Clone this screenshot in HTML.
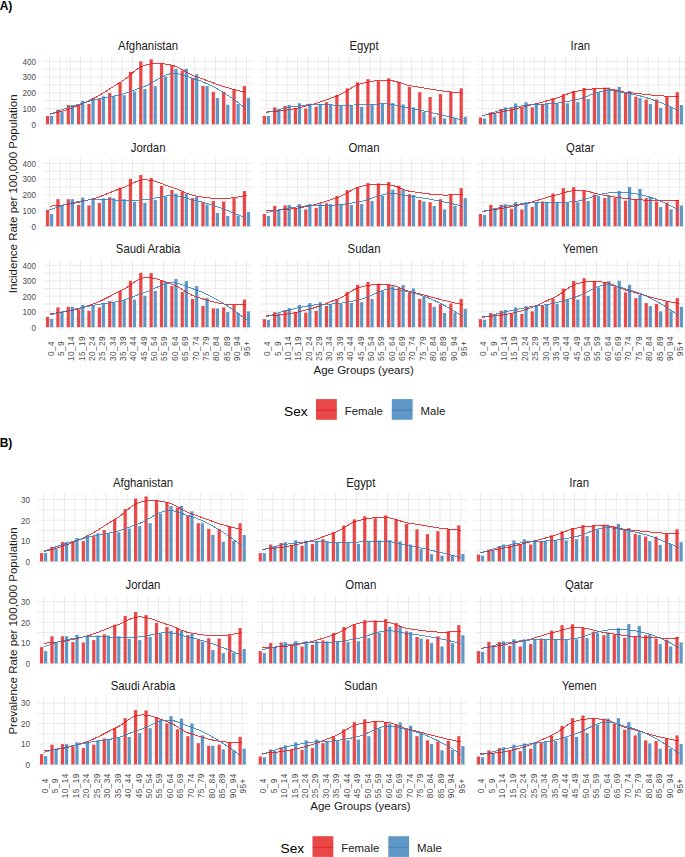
<!DOCTYPE html>
<html><head><meta charset="utf-8"><style>
html,body{margin:0;padding:0;background:#fff;width:685px;height:857px;overflow:hidden}
svg{display:block}
</style></head><body>
<svg width="685" height="857" viewBox="0 0 685 857" font-family='"Liberation Sans", sans-serif'>
<rect width="685" height="857" fill="#FFFFFF"/>
<text x="-0.3" y="9.6" font-size="12" font-weight="bold" fill="#000">A)</text>
<line x1="43.38" x2="252.66" y1="116.44" y2="116.44" stroke="#EBEBEB" stroke-width="1.0"/>
<line x1="43.38" x2="252.66" y1="100.71" y2="100.71" stroke="#EBEBEB" stroke-width="1.0"/>
<line x1="43.38" x2="252.66" y1="84.99" y2="84.99" stroke="#EBEBEB" stroke-width="1.0"/>
<line x1="43.38" x2="252.66" y1="69.26" y2="69.26" stroke="#EBEBEB" stroke-width="1.0"/>
<line x1="43.38" x2="252.66" y1="124.30" y2="124.30" stroke="#EBEBEB" stroke-width="1.0"/>
<line x1="43.38" x2="252.66" y1="108.58" y2="108.58" stroke="#EBEBEB" stroke-width="1.0"/>
<line x1="43.38" x2="252.66" y1="92.85" y2="92.85" stroke="#EBEBEB" stroke-width="1.0"/>
<line x1="43.38" x2="252.66" y1="77.12" y2="77.12" stroke="#EBEBEB" stroke-width="1.0"/>
<line x1="43.38" x2="252.66" y1="61.40" y2="61.40" stroke="#EBEBEB" stroke-width="1.0"/>
<line x1="49.60" x2="49.60" y1="56.10" y2="127.50" stroke="#EBEBEB" stroke-width="1.0"/>
<line x1="59.96" x2="59.96" y1="56.10" y2="127.50" stroke="#EBEBEB" stroke-width="1.0"/>
<line x1="70.32" x2="70.32" y1="56.10" y2="127.50" stroke="#EBEBEB" stroke-width="1.0"/>
<line x1="80.68" x2="80.68" y1="56.10" y2="127.50" stroke="#EBEBEB" stroke-width="1.0"/>
<line x1="91.04" x2="91.04" y1="56.10" y2="127.50" stroke="#EBEBEB" stroke-width="1.0"/>
<line x1="101.40" x2="101.40" y1="56.10" y2="127.50" stroke="#EBEBEB" stroke-width="1.0"/>
<line x1="111.76" x2="111.76" y1="56.10" y2="127.50" stroke="#EBEBEB" stroke-width="1.0"/>
<line x1="122.12" x2="122.12" y1="56.10" y2="127.50" stroke="#EBEBEB" stroke-width="1.0"/>
<line x1="132.48" x2="132.48" y1="56.10" y2="127.50" stroke="#EBEBEB" stroke-width="1.0"/>
<line x1="142.84" x2="142.84" y1="56.10" y2="127.50" stroke="#EBEBEB" stroke-width="1.0"/>
<line x1="153.20" x2="153.20" y1="56.10" y2="127.50" stroke="#EBEBEB" stroke-width="1.0"/>
<line x1="163.56" x2="163.56" y1="56.10" y2="127.50" stroke="#EBEBEB" stroke-width="1.0"/>
<line x1="173.92" x2="173.92" y1="56.10" y2="127.50" stroke="#EBEBEB" stroke-width="1.0"/>
<line x1="184.28" x2="184.28" y1="56.10" y2="127.50" stroke="#EBEBEB" stroke-width="1.0"/>
<line x1="194.64" x2="194.64" y1="56.10" y2="127.50" stroke="#EBEBEB" stroke-width="1.0"/>
<line x1="205.00" x2="205.00" y1="56.10" y2="127.50" stroke="#EBEBEB" stroke-width="1.0"/>
<line x1="215.36" x2="215.36" y1="56.10" y2="127.50" stroke="#EBEBEB" stroke-width="1.0"/>
<line x1="225.72" x2="225.72" y1="56.10" y2="127.50" stroke="#EBEBEB" stroke-width="1.0"/>
<line x1="236.08" x2="236.08" y1="56.10" y2="127.50" stroke="#EBEBEB" stroke-width="1.0"/>
<line x1="246.44" x2="246.44" y1="56.10" y2="127.50" stroke="#EBEBEB" stroke-width="1.0"/>
<rect x="45.95" y="116.00" width="3.2" height="8.30" fill="#E94849"/>
<rect x="50.05" y="116.00" width="3.2" height="8.30" fill="#5F98C6"/>
<rect x="56.31" y="109.70" width="3.2" height="14.60" fill="#E94849"/>
<rect x="60.41" y="111.70" width="3.2" height="12.60" fill="#5F98C6"/>
<rect x="66.67" y="105.00" width="3.2" height="19.30" fill="#E94849"/>
<rect x="70.77" y="105.00" width="3.2" height="19.30" fill="#5F98C6"/>
<rect x="77.03" y="105.00" width="3.2" height="19.30" fill="#E94849"/>
<rect x="81.13" y="101.00" width="3.2" height="23.30" fill="#5F98C6"/>
<rect x="87.39" y="104.00" width="3.2" height="20.30" fill="#E94849"/>
<rect x="91.49" y="98.20" width="3.2" height="26.10" fill="#5F98C6"/>
<rect x="97.75" y="99.10" width="3.2" height="25.20" fill="#E94849"/>
<rect x="101.85" y="96.40" width="3.2" height="27.90" fill="#5F98C6"/>
<rect x="108.11" y="93.00" width="3.2" height="31.30" fill="#E94849"/>
<rect x="112.21" y="96.10" width="3.2" height="28.20" fill="#5F98C6"/>
<rect x="118.47" y="82.30" width="3.2" height="42.00" fill="#E94849"/>
<rect x="122.57" y="95.20" width="3.2" height="29.10" fill="#5F98C6"/>
<rect x="128.83" y="71.90" width="3.2" height="52.40" fill="#E94849"/>
<rect x="132.93" y="91.50" width="3.2" height="32.80" fill="#5F98C6"/>
<rect x="139.19" y="61.40" width="3.2" height="62.90" fill="#E94849"/>
<rect x="143.29" y="89.00" width="3.2" height="35.30" fill="#5F98C6"/>
<rect x="149.55" y="59.30" width="3.2" height="65.00" fill="#E94849"/>
<rect x="153.65" y="86.10" width="3.2" height="38.20" fill="#5F98C6"/>
<rect x="159.91" y="63.00" width="3.2" height="61.30" fill="#E94849"/>
<rect x="164.01" y="76.50" width="3.2" height="47.80" fill="#5F98C6"/>
<rect x="170.27" y="65.00" width="3.2" height="59.30" fill="#E94849"/>
<rect x="174.37" y="68.80" width="3.2" height="55.50" fill="#5F98C6"/>
<rect x="180.63" y="70.60" width="3.2" height="53.70" fill="#E94849"/>
<rect x="184.73" y="68.80" width="3.2" height="55.50" fill="#5F98C6"/>
<rect x="190.99" y="78.80" width="3.2" height="45.50" fill="#E94849"/>
<rect x="195.09" y="74.20" width="3.2" height="50.10" fill="#5F98C6"/>
<rect x="201.35" y="86.10" width="3.2" height="38.20" fill="#E94849"/>
<rect x="205.45" y="86.10" width="3.2" height="38.20" fill="#5F98C6"/>
<rect x="211.71" y="91.80" width="3.2" height="32.50" fill="#E94849"/>
<rect x="215.81" y="97.90" width="3.2" height="26.40" fill="#5F98C6"/>
<rect x="222.07" y="91.80" width="3.2" height="32.50" fill="#E94849"/>
<rect x="226.17" y="104.80" width="3.2" height="19.50" fill="#5F98C6"/>
<rect x="232.43" y="89.50" width="3.2" height="34.80" fill="#E94849"/>
<rect x="236.53" y="104.00" width="3.2" height="20.30" fill="#5F98C6"/>
<rect x="242.79" y="86.10" width="3.2" height="38.20" fill="#E94849"/>
<rect x="246.89" y="97.90" width="3.2" height="26.40" fill="#5F98C6"/>
<polyline points="49.60,114.37 52.09,113.80 54.58,113.20 57.07,112.56 59.57,111.89 62.06,111.18 64.55,110.43 67.04,109.63 69.53,108.79 72.02,107.91 74.52,106.96 77.01,105.96 79.50,104.92 81.99,103.85 84.48,102.74 86.97,101.61 89.47,100.47 91.96,99.31 94.45,98.07 96.94,96.73 99.43,95.32 101.92,93.84 104.42,92.31 106.91,90.75 109.40,89.16 111.89,87.56 114.38,85.96 116.87,84.38 119.37,82.84 121.86,81.33 124.35,79.72 126.84,77.80 129.33,75.70 131.82,73.53 134.32,71.40 136.81,69.42 139.30,67.70 141.79,66.36 144.28,65.45 146.77,64.74 149.27,64.19 151.76,63.80 154.25,63.56 156.74,63.45 159.23,63.48 161.72,63.63 164.22,63.89 166.71,64.25 169.20,64.71 171.69,65.26 174.18,65.89 176.67,66.76 179.17,67.93 181.66,69.30 184.15,70.78 186.64,72.29 189.13,73.73 191.62,75.00 194.12,76.03 196.61,76.85 199.10,77.70 201.59,78.58 204.08,79.49 206.57,80.42 209.07,81.35 211.56,82.28 214.05,83.21 216.54,84.11 219.03,84.99 221.52,85.84 224.02,86.64 226.51,87.40 229.00,88.12 231.49,88.80 233.98,89.46 236.47,90.10 238.97,90.71 241.46,91.31 243.95,91.89 246.44,92.47" fill="none" stroke="#E41A1C" stroke-opacity="0.85" stroke-width="1.0" stroke-linejoin="round" shape-rendering="crispEdges"/>
<polyline points="49.60,114.25 52.09,113.31 54.58,112.39 57.07,111.48 59.57,110.58 62.06,109.70 64.55,108.84 67.04,107.99 69.53,107.17 72.02,106.37 74.52,105.60 77.01,104.85 79.50,104.11 81.99,103.39 84.48,102.68 86.97,101.98 89.47,101.27 91.96,100.56 94.45,99.91 96.94,99.32 99.43,98.78 101.92,98.29 104.42,97.82 106.91,97.36 109.40,96.91 111.89,96.44 114.38,95.96 116.87,95.43 119.37,94.87 121.86,94.24 124.35,93.54 126.84,92.76 129.33,91.91 131.82,91.03 134.32,90.12 136.81,89.21 139.30,88.30 141.79,87.42 144.28,86.54 146.77,85.46 149.27,84.21 151.76,82.84 154.25,81.39 156.74,79.92 159.23,78.49 161.72,77.13 164.22,75.91 166.71,74.87 169.20,74.07 171.69,73.55 174.18,73.37 176.67,73.53 179.17,73.96 181.66,74.60 184.15,75.39 186.64,76.28 189.13,77.19 191.62,78.08 194.12,78.88 196.61,79.62 199.10,80.44 201.59,81.36 204.08,82.36 206.57,83.44 209.07,84.59 211.56,85.82 214.05,87.12 216.54,88.48 219.03,89.90 221.52,91.38 224.02,92.91 226.51,94.49 229.00,96.12 231.49,97.80 233.98,99.54 236.47,101.34 238.97,103.19 241.46,105.11 243.95,107.10 246.44,109.15" fill="none" stroke="#377EB8" stroke-opacity="0.85" stroke-width="1.0" stroke-linejoin="round" shape-rendering="crispEdges"/>
<text transform="translate(148.12,49.70) scale(1,1.12)" text-anchor="middle" font-size="11.4" fill="#1A1A1A">Afghanistan</text>
<text transform="translate(36.00,127.60) scale(1,1.09)" text-anchor="end" font-size="8.1" fill="#4D4D4D">0</text>
<text transform="translate(36.00,111.88) scale(1,1.09)" text-anchor="end" font-size="8.1" fill="#4D4D4D">100</text>
<text transform="translate(36.00,96.15) scale(1,1.09)" text-anchor="end" font-size="8.1" fill="#4D4D4D">200</text>
<text transform="translate(36.00,80.42) scale(1,1.09)" text-anchor="end" font-size="8.1" fill="#4D4D4D">300</text>
<text transform="translate(36.00,64.70) scale(1,1.09)" text-anchor="end" font-size="8.1" fill="#4D4D4D">400</text>
<line x1="260.18" x2="469.46" y1="116.44" y2="116.44" stroke="#EBEBEB" stroke-width="1.0"/>
<line x1="260.18" x2="469.46" y1="100.71" y2="100.71" stroke="#EBEBEB" stroke-width="1.0"/>
<line x1="260.18" x2="469.46" y1="84.99" y2="84.99" stroke="#EBEBEB" stroke-width="1.0"/>
<line x1="260.18" x2="469.46" y1="69.26" y2="69.26" stroke="#EBEBEB" stroke-width="1.0"/>
<line x1="260.18" x2="469.46" y1="124.30" y2="124.30" stroke="#EBEBEB" stroke-width="1.0"/>
<line x1="260.18" x2="469.46" y1="108.58" y2="108.58" stroke="#EBEBEB" stroke-width="1.0"/>
<line x1="260.18" x2="469.46" y1="92.85" y2="92.85" stroke="#EBEBEB" stroke-width="1.0"/>
<line x1="260.18" x2="469.46" y1="77.12" y2="77.12" stroke="#EBEBEB" stroke-width="1.0"/>
<line x1="260.18" x2="469.46" y1="61.40" y2="61.40" stroke="#EBEBEB" stroke-width="1.0"/>
<line x1="266.40" x2="266.40" y1="56.10" y2="127.50" stroke="#EBEBEB" stroke-width="1.0"/>
<line x1="276.76" x2="276.76" y1="56.10" y2="127.50" stroke="#EBEBEB" stroke-width="1.0"/>
<line x1="287.12" x2="287.12" y1="56.10" y2="127.50" stroke="#EBEBEB" stroke-width="1.0"/>
<line x1="297.48" x2="297.48" y1="56.10" y2="127.50" stroke="#EBEBEB" stroke-width="1.0"/>
<line x1="307.84" x2="307.84" y1="56.10" y2="127.50" stroke="#EBEBEB" stroke-width="1.0"/>
<line x1="318.20" x2="318.20" y1="56.10" y2="127.50" stroke="#EBEBEB" stroke-width="1.0"/>
<line x1="328.56" x2="328.56" y1="56.10" y2="127.50" stroke="#EBEBEB" stroke-width="1.0"/>
<line x1="338.92" x2="338.92" y1="56.10" y2="127.50" stroke="#EBEBEB" stroke-width="1.0"/>
<line x1="349.28" x2="349.28" y1="56.10" y2="127.50" stroke="#EBEBEB" stroke-width="1.0"/>
<line x1="359.64" x2="359.64" y1="56.10" y2="127.50" stroke="#EBEBEB" stroke-width="1.0"/>
<line x1="370.00" x2="370.00" y1="56.10" y2="127.50" stroke="#EBEBEB" stroke-width="1.0"/>
<line x1="380.36" x2="380.36" y1="56.10" y2="127.50" stroke="#EBEBEB" stroke-width="1.0"/>
<line x1="390.72" x2="390.72" y1="56.10" y2="127.50" stroke="#EBEBEB" stroke-width="1.0"/>
<line x1="401.08" x2="401.08" y1="56.10" y2="127.50" stroke="#EBEBEB" stroke-width="1.0"/>
<line x1="411.44" x2="411.44" y1="56.10" y2="127.50" stroke="#EBEBEB" stroke-width="1.0"/>
<line x1="421.80" x2="421.80" y1="56.10" y2="127.50" stroke="#EBEBEB" stroke-width="1.0"/>
<line x1="432.16" x2="432.16" y1="56.10" y2="127.50" stroke="#EBEBEB" stroke-width="1.0"/>
<line x1="442.52" x2="442.52" y1="56.10" y2="127.50" stroke="#EBEBEB" stroke-width="1.0"/>
<line x1="452.88" x2="452.88" y1="56.10" y2="127.50" stroke="#EBEBEB" stroke-width="1.0"/>
<line x1="463.24" x2="463.24" y1="56.10" y2="127.50" stroke="#EBEBEB" stroke-width="1.0"/>
<rect x="262.75" y="116.00" width="3.2" height="8.30" fill="#E94849"/>
<rect x="266.85" y="116.00" width="3.2" height="8.30" fill="#5F98C6"/>
<rect x="273.11" y="107.40" width="3.2" height="16.90" fill="#E94849"/>
<rect x="277.21" y="109.40" width="3.2" height="14.90" fill="#5F98C6"/>
<rect x="283.47" y="105.90" width="3.2" height="18.40" fill="#E94849"/>
<rect x="287.57" y="105.00" width="3.2" height="19.30" fill="#5F98C6"/>
<rect x="293.83" y="107.90" width="3.2" height="16.40" fill="#E94849"/>
<rect x="297.93" y="103.30" width="3.2" height="21.00" fill="#5F98C6"/>
<rect x="304.19" y="108.60" width="3.2" height="15.70" fill="#E94849"/>
<rect x="308.29" y="103.70" width="3.2" height="20.60" fill="#5F98C6"/>
<rect x="314.55" y="106.80" width="3.2" height="17.50" fill="#E94849"/>
<rect x="318.65" y="104.00" width="3.2" height="20.30" fill="#5F98C6"/>
<rect x="324.91" y="102.20" width="3.2" height="22.10" fill="#E94849"/>
<rect x="329.01" y="104.40" width="3.2" height="19.90" fill="#5F98C6"/>
<rect x="335.27" y="95.20" width="3.2" height="29.10" fill="#E94849"/>
<rect x="339.37" y="105.60" width="3.2" height="18.70" fill="#5F98C6"/>
<rect x="345.63" y="88.40" width="3.2" height="35.90" fill="#E94849"/>
<rect x="349.73" y="105.60" width="3.2" height="18.70" fill="#5F98C6"/>
<rect x="355.99" y="82.30" width="3.2" height="42.00" fill="#E94849"/>
<rect x="360.09" y="106.80" width="3.2" height="17.50" fill="#5F98C6"/>
<rect x="366.35" y="79.20" width="3.2" height="45.10" fill="#E94849"/>
<rect x="370.45" y="104.40" width="3.2" height="19.90" fill="#5F98C6"/>
<rect x="376.71" y="81.10" width="3.2" height="43.20" fill="#E94849"/>
<rect x="380.81" y="103.40" width="3.2" height="20.90" fill="#5F98C6"/>
<rect x="387.07" y="78.30" width="3.2" height="46.00" fill="#E94849"/>
<rect x="391.17" y="103.10" width="3.2" height="21.20" fill="#5F98C6"/>
<rect x="397.43" y="81.80" width="3.2" height="42.50" fill="#E94849"/>
<rect x="401.53" y="104.40" width="3.2" height="19.90" fill="#5F98C6"/>
<rect x="407.79" y="86.90" width="3.2" height="37.40" fill="#E94849"/>
<rect x="411.89" y="107.40" width="3.2" height="16.90" fill="#5F98C6"/>
<rect x="418.15" y="92.20" width="3.2" height="32.10" fill="#E94849"/>
<rect x="422.25" y="112.00" width="3.2" height="12.30" fill="#5F98C6"/>
<rect x="428.51" y="97.00" width="3.2" height="27.30" fill="#E94849"/>
<rect x="432.61" y="117.10" width="3.2" height="7.20" fill="#5F98C6"/>
<rect x="438.87" y="94.10" width="3.2" height="30.20" fill="#E94849"/>
<rect x="442.97" y="118.50" width="3.2" height="5.80" fill="#5F98C6"/>
<rect x="449.23" y="91.80" width="3.2" height="32.50" fill="#E94849"/>
<rect x="453.33" y="117.80" width="3.2" height="6.50" fill="#5F98C6"/>
<rect x="459.59" y="88.30" width="3.2" height="36.00" fill="#E94849"/>
<rect x="463.69" y="116.90" width="3.2" height="7.40" fill="#5F98C6"/>
<polyline points="266.40,112.05 268.89,111.91 271.38,111.74 273.87,111.54 276.37,111.32 278.86,111.06 281.35,110.77 283.84,110.45 286.33,110.10 288.82,109.71 291.32,109.28 293.81,108.81 296.30,108.31 298.79,107.78 301.28,107.22 303.77,106.64 306.27,106.04 308.76,105.42 311.25,104.75 313.74,104.04 316.23,103.28 318.72,102.49 321.22,101.65 323.71,100.79 326.20,99.90 328.69,98.99 331.18,98.06 333.67,97.11 336.17,96.15 338.66,95.19 341.15,94.12 343.64,92.81 346.13,91.36 348.62,89.83 351.12,88.30 353.61,86.86 356.10,85.59 358.59,84.55 361.08,83.78 363.57,83.11 366.07,82.50 368.56,81.96 371.05,81.50 373.54,81.11 376.03,80.79 378.52,80.56 381.02,80.40 383.51,80.32 386.00,80.33 388.49,80.43 390.98,80.62 393.47,80.99 395.97,81.57 398.46,82.30 400.95,83.11 403.44,83.93 405.93,84.71 408.42,85.38 410.92,85.87 413.41,86.22 415.90,86.60 418.39,87.00 420.88,87.42 423.37,87.85 425.87,88.29 428.36,88.73 430.85,89.16 433.34,89.59 435.83,90.01 438.32,90.40 440.82,90.77 443.31,91.10 445.80,91.42 448.29,91.71 450.78,91.99 453.27,92.25 455.77,92.50 458.26,92.74 460.75,92.98 463.24,93.21" fill="none" stroke="#E41A1C" stroke-opacity="0.85" stroke-width="1.0" stroke-linejoin="round" shape-rendering="crispEdges"/>
<polyline points="266.40,112.89 268.89,112.15 271.38,111.44 273.87,110.76 276.37,110.11 278.86,109.50 281.35,108.92 283.84,108.37 286.33,107.86 288.82,107.39 291.32,106.96 293.81,106.56 296.30,106.20 298.79,105.87 301.28,105.57 303.77,105.28 306.27,105.02 308.76,104.78 311.25,104.60 313.74,104.50 316.23,104.46 318.72,104.47 321.22,104.52 323.71,104.60 326.20,104.70 328.69,104.82 331.18,104.92 333.67,105.02 336.17,105.10 338.66,105.14 341.15,105.15 343.64,105.14 346.13,105.11 348.62,105.08 351.12,105.04 353.61,105.00 356.10,104.97 358.59,104.95 361.08,104.94 363.57,104.88 366.07,104.77 368.56,104.62 371.05,104.47 373.54,104.31 376.03,104.16 378.52,104.04 381.02,103.96 383.51,103.93 386.00,103.97 388.49,104.10 390.98,104.33 393.47,104.67 395.97,105.11 398.46,105.63 400.95,106.19 403.44,106.78 405.93,107.36 408.42,107.90 410.92,108.39 413.41,108.83 415.90,109.30 418.39,109.78 420.88,110.29 423.37,110.81 425.87,111.35 428.36,111.90 430.85,112.46 433.34,113.03 435.83,113.61 438.32,114.20 440.82,114.79 443.31,115.38 445.80,115.97 448.29,116.57 450.78,117.18 453.27,117.79 455.77,118.41 458.26,119.04 460.75,119.68 463.24,120.34" fill="none" stroke="#377EB8" stroke-opacity="0.85" stroke-width="1.0" stroke-linejoin="round" shape-rendering="crispEdges"/>
<text transform="translate(364.02,49.70) scale(1,1.12)" text-anchor="middle" font-size="11.4" fill="#1A1A1A">Egypt</text>
<line x1="476.28" x2="685.56" y1="116.44" y2="116.44" stroke="#EBEBEB" stroke-width="1.0"/>
<line x1="476.28" x2="685.56" y1="100.71" y2="100.71" stroke="#EBEBEB" stroke-width="1.0"/>
<line x1="476.28" x2="685.56" y1="84.99" y2="84.99" stroke="#EBEBEB" stroke-width="1.0"/>
<line x1="476.28" x2="685.56" y1="69.26" y2="69.26" stroke="#EBEBEB" stroke-width="1.0"/>
<line x1="476.28" x2="685.56" y1="124.30" y2="124.30" stroke="#EBEBEB" stroke-width="1.0"/>
<line x1="476.28" x2="685.56" y1="108.58" y2="108.58" stroke="#EBEBEB" stroke-width="1.0"/>
<line x1="476.28" x2="685.56" y1="92.85" y2="92.85" stroke="#EBEBEB" stroke-width="1.0"/>
<line x1="476.28" x2="685.56" y1="77.12" y2="77.12" stroke="#EBEBEB" stroke-width="1.0"/>
<line x1="476.28" x2="685.56" y1="61.40" y2="61.40" stroke="#EBEBEB" stroke-width="1.0"/>
<line x1="482.50" x2="482.50" y1="56.10" y2="127.50" stroke="#EBEBEB" stroke-width="1.0"/>
<line x1="492.86" x2="492.86" y1="56.10" y2="127.50" stroke="#EBEBEB" stroke-width="1.0"/>
<line x1="503.22" x2="503.22" y1="56.10" y2="127.50" stroke="#EBEBEB" stroke-width="1.0"/>
<line x1="513.58" x2="513.58" y1="56.10" y2="127.50" stroke="#EBEBEB" stroke-width="1.0"/>
<line x1="523.94" x2="523.94" y1="56.10" y2="127.50" stroke="#EBEBEB" stroke-width="1.0"/>
<line x1="534.30" x2="534.30" y1="56.10" y2="127.50" stroke="#EBEBEB" stroke-width="1.0"/>
<line x1="544.66" x2="544.66" y1="56.10" y2="127.50" stroke="#EBEBEB" stroke-width="1.0"/>
<line x1="555.02" x2="555.02" y1="56.10" y2="127.50" stroke="#EBEBEB" stroke-width="1.0"/>
<line x1="565.38" x2="565.38" y1="56.10" y2="127.50" stroke="#EBEBEB" stroke-width="1.0"/>
<line x1="575.74" x2="575.74" y1="56.10" y2="127.50" stroke="#EBEBEB" stroke-width="1.0"/>
<line x1="586.10" x2="586.10" y1="56.10" y2="127.50" stroke="#EBEBEB" stroke-width="1.0"/>
<line x1="596.46" x2="596.46" y1="56.10" y2="127.50" stroke="#EBEBEB" stroke-width="1.0"/>
<line x1="606.82" x2="606.82" y1="56.10" y2="127.50" stroke="#EBEBEB" stroke-width="1.0"/>
<line x1="617.18" x2="617.18" y1="56.10" y2="127.50" stroke="#EBEBEB" stroke-width="1.0"/>
<line x1="627.54" x2="627.54" y1="56.10" y2="127.50" stroke="#EBEBEB" stroke-width="1.0"/>
<line x1="637.90" x2="637.90" y1="56.10" y2="127.50" stroke="#EBEBEB" stroke-width="1.0"/>
<line x1="648.26" x2="648.26" y1="56.10" y2="127.50" stroke="#EBEBEB" stroke-width="1.0"/>
<line x1="658.62" x2="658.62" y1="56.10" y2="127.50" stroke="#EBEBEB" stroke-width="1.0"/>
<line x1="668.98" x2="668.98" y1="56.10" y2="127.50" stroke="#EBEBEB" stroke-width="1.0"/>
<line x1="679.34" x2="679.34" y1="56.10" y2="127.50" stroke="#EBEBEB" stroke-width="1.0"/>
<rect x="478.85" y="117.50" width="3.2" height="6.80" fill="#E94849"/>
<rect x="482.95" y="118.50" width="3.2" height="5.80" fill="#5F98C6"/>
<rect x="489.21" y="112.50" width="3.2" height="11.80" fill="#E94849"/>
<rect x="493.31" y="113.60" width="3.2" height="10.70" fill="#5F98C6"/>
<rect x="499.57" y="109.00" width="3.2" height="15.30" fill="#E94849"/>
<rect x="503.67" y="107.40" width="3.2" height="16.90" fill="#5F98C6"/>
<rect x="509.93" y="108.30" width="3.2" height="16.00" fill="#E94849"/>
<rect x="514.03" y="103.40" width="3.2" height="20.90" fill="#5F98C6"/>
<rect x="520.29" y="107.10" width="3.2" height="17.20" fill="#E94849"/>
<rect x="524.39" y="102.20" width="3.2" height="22.10" fill="#5F98C6"/>
<rect x="530.65" y="107.40" width="3.2" height="16.90" fill="#E94849"/>
<rect x="534.75" y="103.30" width="3.2" height="21.00" fill="#5F98C6"/>
<rect x="541.01" y="104.00" width="3.2" height="20.30" fill="#E94849"/>
<rect x="545.11" y="103.70" width="3.2" height="20.60" fill="#5F98C6"/>
<rect x="551.37" y="98.20" width="3.2" height="26.10" fill="#E94849"/>
<rect x="555.47" y="103.30" width="3.2" height="21.00" fill="#5F98C6"/>
<rect x="561.73" y="94.20" width="3.2" height="30.10" fill="#E94849"/>
<rect x="565.83" y="103.30" width="3.2" height="21.00" fill="#5F98C6"/>
<rect x="572.09" y="91.00" width="3.2" height="33.30" fill="#E94849"/>
<rect x="576.19" y="102.10" width="3.2" height="22.20" fill="#5F98C6"/>
<rect x="582.45" y="88.00" width="3.2" height="36.30" fill="#E94849"/>
<rect x="586.55" y="99.00" width="3.2" height="25.30" fill="#5F98C6"/>
<rect x="592.81" y="88.40" width="3.2" height="35.90" fill="#E94849"/>
<rect x="596.91" y="92.20" width="3.2" height="32.10" fill="#5F98C6"/>
<rect x="603.17" y="87.60" width="3.2" height="36.70" fill="#E94849"/>
<rect x="607.27" y="87.60" width="3.2" height="36.70" fill="#5F98C6"/>
<rect x="613.53" y="89.50" width="3.2" height="34.80" fill="#E94849"/>
<rect x="617.63" y="86.90" width="3.2" height="37.40" fill="#5F98C6"/>
<rect x="623.89" y="93.00" width="3.2" height="31.30" fill="#E94849"/>
<rect x="627.99" y="91.00" width="3.2" height="33.30" fill="#5F98C6"/>
<rect x="634.25" y="96.70" width="3.2" height="27.60" fill="#E94849"/>
<rect x="638.35" y="97.90" width="3.2" height="26.40" fill="#5F98C6"/>
<rect x="644.61" y="99.50" width="3.2" height="24.80" fill="#E94849"/>
<rect x="648.71" y="104.00" width="3.2" height="20.30" fill="#5F98C6"/>
<rect x="654.97" y="99.50" width="3.2" height="24.80" fill="#E94849"/>
<rect x="659.07" y="107.90" width="3.2" height="16.40" fill="#5F98C6"/>
<rect x="665.33" y="96.40" width="3.2" height="27.90" fill="#E94849"/>
<rect x="669.43" y="107.10" width="3.2" height="17.20" fill="#5F98C6"/>
<rect x="675.69" y="92.20" width="3.2" height="32.10" fill="#E94849"/>
<rect x="679.79" y="105.00" width="3.2" height="19.30" fill="#5F98C6"/>
<polyline points="482.50,115.54 484.99,115.08 487.48,114.62 489.97,114.14 492.47,113.66 494.96,113.18 497.45,112.68 499.94,112.17 502.43,111.66 504.92,111.13 507.42,110.59 509.91,110.04 512.40,109.48 514.89,108.91 517.38,108.34 519.87,107.76 522.37,107.17 524.86,106.58 527.35,105.98 529.84,105.37 532.33,104.74 534.82,104.11 537.32,103.46 539.81,102.81 542.30,102.15 544.79,101.48 547.28,100.81 549.77,100.13 552.27,99.46 554.76,98.77 557.25,98.03 559.74,97.14 562.23,96.17 564.72,95.16 567.22,94.15 569.71,93.20 572.20,92.35 574.69,91.66 577.18,91.13 579.67,90.65 582.17,90.22 584.66,89.84 587.15,89.50 589.64,89.21 592.13,88.97 594.62,88.79 597.12,88.66 599.61,88.59 602.10,88.59 604.59,88.64 607.08,88.76 609.57,89.02 612.07,89.43 614.56,89.95 617.05,90.53 619.54,91.12 622.03,91.67 624.52,92.13 627.02,92.47 629.51,92.70 632.00,92.94 634.49,93.20 636.98,93.47 639.47,93.74 641.97,94.02 644.46,94.30 646.95,94.57 649.44,94.83 651.93,95.08 654.42,95.31 656.92,95.52 659.41,95.70 661.90,95.87 664.39,96.01 666.88,96.14 669.37,96.26 671.87,96.36 674.36,96.46 676.85,96.54 679.34,96.62" fill="none" stroke="#E41A1C" stroke-opacity="0.85" stroke-width="1.0" stroke-linejoin="round" shape-rendering="crispEdges"/>
<polyline points="482.50,115.93 484.99,115.08 487.48,114.25 489.97,113.45 492.47,112.68 494.96,111.93 497.45,111.21 499.94,110.53 502.43,109.87 504.92,109.26 507.42,108.68 509.91,108.14 512.40,107.63 514.89,107.14 517.38,106.68 519.87,106.22 522.37,105.77 524.86,105.34 527.35,104.98 529.84,104.70 532.33,104.50 534.82,104.35 537.32,104.24 539.81,104.16 542.30,104.09 544.79,104.01 547.28,103.92 549.77,103.79 552.27,103.62 554.76,103.38 557.25,103.07 559.74,102.73 562.23,102.34 564.72,101.92 567.22,101.48 569.71,101.02 572.20,100.55 574.69,100.07 577.18,99.56 579.67,98.90 582.17,98.11 584.66,97.22 587.15,96.27 589.64,95.29 592.13,94.31 594.62,93.38 597.12,92.53 599.61,91.80 602.10,91.21 604.59,90.80 607.08,90.62 609.57,90.64 612.07,90.81 614.56,91.10 617.05,91.48 619.54,91.92 622.03,92.38 624.52,92.84 627.02,93.25 629.51,93.64 632.00,94.09 634.49,94.58 636.98,95.14 639.47,95.74 641.97,96.39 644.46,97.09 646.95,97.84 649.44,98.62 651.93,99.45 654.42,100.32 656.92,101.22 659.41,102.15 661.90,103.12 664.39,104.13 666.88,105.17 669.37,106.26 671.87,107.38 674.36,108.55 676.85,109.75 679.34,111.00" fill="none" stroke="#377EB8" stroke-opacity="0.85" stroke-width="1.0" stroke-linejoin="round" shape-rendering="crispEdges"/>
<text transform="translate(580.32,49.70) scale(1,1.12)" text-anchor="middle" font-size="11.4" fill="#1A1A1A">Iran</text>
<line x1="43.38" x2="252.66" y1="218.44" y2="218.44" stroke="#EBEBEB" stroke-width="1.0"/>
<line x1="43.38" x2="252.66" y1="202.71" y2="202.71" stroke="#EBEBEB" stroke-width="1.0"/>
<line x1="43.38" x2="252.66" y1="186.99" y2="186.99" stroke="#EBEBEB" stroke-width="1.0"/>
<line x1="43.38" x2="252.66" y1="171.26" y2="171.26" stroke="#EBEBEB" stroke-width="1.0"/>
<line x1="43.38" x2="252.66" y1="226.30" y2="226.30" stroke="#EBEBEB" stroke-width="1.0"/>
<line x1="43.38" x2="252.66" y1="210.58" y2="210.58" stroke="#EBEBEB" stroke-width="1.0"/>
<line x1="43.38" x2="252.66" y1="194.85" y2="194.85" stroke="#EBEBEB" stroke-width="1.0"/>
<line x1="43.38" x2="252.66" y1="179.12" y2="179.12" stroke="#EBEBEB" stroke-width="1.0"/>
<line x1="43.38" x2="252.66" y1="163.40" y2="163.40" stroke="#EBEBEB" stroke-width="1.0"/>
<line x1="49.60" x2="49.60" y1="158.10" y2="229.50" stroke="#EBEBEB" stroke-width="1.0"/>
<line x1="59.96" x2="59.96" y1="158.10" y2="229.50" stroke="#EBEBEB" stroke-width="1.0"/>
<line x1="70.32" x2="70.32" y1="158.10" y2="229.50" stroke="#EBEBEB" stroke-width="1.0"/>
<line x1="80.68" x2="80.68" y1="158.10" y2="229.50" stroke="#EBEBEB" stroke-width="1.0"/>
<line x1="91.04" x2="91.04" y1="158.10" y2="229.50" stroke="#EBEBEB" stroke-width="1.0"/>
<line x1="101.40" x2="101.40" y1="158.10" y2="229.50" stroke="#EBEBEB" stroke-width="1.0"/>
<line x1="111.76" x2="111.76" y1="158.10" y2="229.50" stroke="#EBEBEB" stroke-width="1.0"/>
<line x1="122.12" x2="122.12" y1="158.10" y2="229.50" stroke="#EBEBEB" stroke-width="1.0"/>
<line x1="132.48" x2="132.48" y1="158.10" y2="229.50" stroke="#EBEBEB" stroke-width="1.0"/>
<line x1="142.84" x2="142.84" y1="158.10" y2="229.50" stroke="#EBEBEB" stroke-width="1.0"/>
<line x1="153.20" x2="153.20" y1="158.10" y2="229.50" stroke="#EBEBEB" stroke-width="1.0"/>
<line x1="163.56" x2="163.56" y1="158.10" y2="229.50" stroke="#EBEBEB" stroke-width="1.0"/>
<line x1="173.92" x2="173.92" y1="158.10" y2="229.50" stroke="#EBEBEB" stroke-width="1.0"/>
<line x1="184.28" x2="184.28" y1="158.10" y2="229.50" stroke="#EBEBEB" stroke-width="1.0"/>
<line x1="194.64" x2="194.64" y1="158.10" y2="229.50" stroke="#EBEBEB" stroke-width="1.0"/>
<line x1="205.00" x2="205.00" y1="158.10" y2="229.50" stroke="#EBEBEB" stroke-width="1.0"/>
<line x1="215.36" x2="215.36" y1="158.10" y2="229.50" stroke="#EBEBEB" stroke-width="1.0"/>
<line x1="225.72" x2="225.72" y1="158.10" y2="229.50" stroke="#EBEBEB" stroke-width="1.0"/>
<line x1="236.08" x2="236.08" y1="158.10" y2="229.50" stroke="#EBEBEB" stroke-width="1.0"/>
<line x1="246.44" x2="246.44" y1="158.10" y2="229.50" stroke="#EBEBEB" stroke-width="1.0"/>
<rect x="45.95" y="210.00" width="3.2" height="16.30" fill="#E94849"/>
<rect x="50.05" y="214.00" width="3.2" height="12.30" fill="#5F98C6"/>
<rect x="56.31" y="199.20" width="3.2" height="27.10" fill="#E94849"/>
<rect x="60.41" y="205.70" width="3.2" height="20.60" fill="#5F98C6"/>
<rect x="66.67" y="199.20" width="3.2" height="27.10" fill="#E94849"/>
<rect x="70.77" y="199.20" width="3.2" height="27.10" fill="#5F98C6"/>
<rect x="77.03" y="205.00" width="3.2" height="21.30" fill="#E94849"/>
<rect x="81.13" y="197.60" width="3.2" height="28.70" fill="#5F98C6"/>
<rect x="87.39" y="205.40" width="3.2" height="20.90" fill="#E94849"/>
<rect x="91.49" y="198.40" width="3.2" height="27.90" fill="#5F98C6"/>
<rect x="97.75" y="203.00" width="3.2" height="23.30" fill="#E94849"/>
<rect x="101.85" y="198.40" width="3.2" height="27.90" fill="#5F98C6"/>
<rect x="108.11" y="197.20" width="3.2" height="29.10" fill="#E94849"/>
<rect x="112.21" y="198.40" width="3.2" height="27.90" fill="#5F98C6"/>
<rect x="118.47" y="187.70" width="3.2" height="38.60" fill="#E94849"/>
<rect x="122.57" y="199.20" width="3.2" height="27.10" fill="#5F98C6"/>
<rect x="128.83" y="178.80" width="3.2" height="47.50" fill="#E94849"/>
<rect x="132.93" y="201.80" width="3.2" height="24.50" fill="#5F98C6"/>
<rect x="139.19" y="174.90" width="3.2" height="51.40" fill="#E94849"/>
<rect x="143.29" y="203.00" width="3.2" height="23.30" fill="#5F98C6"/>
<rect x="149.55" y="178.00" width="3.2" height="48.30" fill="#E94849"/>
<rect x="153.65" y="199.90" width="3.2" height="26.40" fill="#5F98C6"/>
<rect x="159.91" y="185.80" width="3.2" height="40.50" fill="#E94849"/>
<rect x="164.01" y="196.50" width="3.2" height="29.80" fill="#5F98C6"/>
<rect x="170.27" y="190.00" width="3.2" height="36.30" fill="#E94849"/>
<rect x="174.37" y="193.50" width="3.2" height="32.80" fill="#5F98C6"/>
<rect x="180.63" y="191.50" width="3.2" height="34.80" fill="#E94849"/>
<rect x="184.73" y="193.50" width="3.2" height="32.80" fill="#5F98C6"/>
<rect x="190.99" y="198.10" width="3.2" height="28.20" fill="#E94849"/>
<rect x="195.09" y="196.90" width="3.2" height="29.40" fill="#5F98C6"/>
<rect x="201.35" y="201.80" width="3.2" height="24.50" fill="#E94849"/>
<rect x="205.45" y="204.50" width="3.2" height="21.80" fill="#5F98C6"/>
<rect x="211.71" y="201.10" width="3.2" height="25.20" fill="#E94849"/>
<rect x="215.81" y="212.90" width="3.2" height="13.40" fill="#5F98C6"/>
<rect x="222.07" y="201.50" width="3.2" height="24.80" fill="#E94849"/>
<rect x="226.17" y="216.00" width="3.2" height="10.30" fill="#5F98C6"/>
<rect x="232.43" y="198.10" width="3.2" height="28.20" fill="#E94849"/>
<rect x="236.53" y="215.60" width="3.2" height="10.70" fill="#5F98C6"/>
<rect x="242.79" y="191.00" width="3.2" height="35.30" fill="#E94849"/>
<rect x="246.89" y="211.90" width="3.2" height="14.40" fill="#5F98C6"/>
<polyline points="49.60,206.16 52.09,206.00 54.58,205.82 57.07,205.61 59.57,205.37 62.06,205.10 64.55,204.80 67.04,204.46 69.53,204.08 72.02,203.66 74.52,203.19 77.01,202.67 79.50,202.11 81.99,201.53 84.48,200.93 86.97,200.32 89.47,199.71 91.96,199.10 94.45,198.41 96.94,197.62 99.43,196.75 101.92,195.83 104.42,194.86 106.91,193.85 109.40,192.84 111.89,191.83 114.38,190.83 116.87,189.87 119.37,188.96 121.86,188.11 124.35,187.21 126.84,186.13 129.33,184.93 131.82,183.70 134.32,182.51 136.81,181.45 139.30,180.60 141.79,180.04 144.28,179.81 146.77,179.85 149.27,180.11 151.76,180.56 154.25,181.17 156.74,181.92 159.23,182.76 161.72,183.66 164.22,184.60 166.71,185.55 169.20,186.46 171.69,187.32 174.18,188.09 176.67,188.93 179.17,189.92 181.66,191.00 184.15,192.11 186.64,193.19 189.13,194.17 191.62,195.01 194.12,195.64 196.61,196.09 199.10,196.52 201.59,196.92 204.08,197.30 206.57,197.64 209.07,197.94 211.56,198.19 214.05,198.40 216.54,198.55 219.03,198.63 221.52,198.65 224.02,198.59 226.51,198.46 229.00,198.26 231.49,197.99 233.98,197.65 236.47,197.26 238.97,196.81 241.46,196.30 243.95,195.74 246.44,195.14" fill="none" stroke="#E41A1C" stroke-opacity="0.85" stroke-width="1.0" stroke-linejoin="round" shape-rendering="crispEdges"/>
<polyline points="49.60,209.93 52.09,208.97 54.58,208.05 57.07,207.17 59.57,206.33 62.06,205.54 64.55,204.79 67.04,204.08 69.53,203.42 72.02,202.81 74.52,202.26 77.01,201.76 79.50,201.30 81.99,200.88 84.48,200.50 86.97,200.14 89.47,199.81 91.96,199.50 94.45,199.29 96.94,199.17 99.43,199.15 101.92,199.20 104.42,199.30 106.91,199.44 109.40,199.61 111.89,199.79 114.38,199.95 116.87,200.10 119.37,200.20 121.86,200.25 124.35,200.26 126.84,200.26 129.33,200.25 131.82,200.23 134.32,200.20 136.81,200.15 139.30,200.08 141.79,199.98 144.28,199.83 146.77,199.56 149.27,199.18 151.76,198.72 154.25,198.20 156.74,197.66 159.23,197.13 161.72,196.63 164.22,196.20 166.71,195.85 169.20,195.64 171.69,195.57 174.18,195.68 176.67,195.98 179.17,196.42 181.66,196.96 184.15,197.59 186.64,198.26 189.13,198.94 191.62,199.60 194.12,200.20 196.61,200.75 199.10,201.35 201.59,201.99 204.08,202.66 206.57,203.38 209.07,204.13 211.56,204.91 214.05,205.72 216.54,206.56 219.03,207.43 221.52,208.32 224.02,209.23 226.51,210.16 229.00,211.12 231.49,212.09 233.98,213.09 236.47,214.11 238.97,215.16 241.46,216.24 243.95,217.34 246.44,218.48" fill="none" stroke="#377EB8" stroke-opacity="0.85" stroke-width="1.0" stroke-linejoin="round" shape-rendering="crispEdges"/>
<text transform="translate(148.12,151.70) scale(1,1.12)" text-anchor="middle" font-size="11.4" fill="#1A1A1A">Jordan</text>
<text transform="translate(36.00,229.60) scale(1,1.09)" text-anchor="end" font-size="8.1" fill="#4D4D4D">0</text>
<text transform="translate(36.00,213.88) scale(1,1.09)" text-anchor="end" font-size="8.1" fill="#4D4D4D">100</text>
<text transform="translate(36.00,198.15) scale(1,1.09)" text-anchor="end" font-size="8.1" fill="#4D4D4D">200</text>
<text transform="translate(36.00,182.43) scale(1,1.09)" text-anchor="end" font-size="8.1" fill="#4D4D4D">300</text>
<text transform="translate(36.00,166.70) scale(1,1.09)" text-anchor="end" font-size="8.1" fill="#4D4D4D">400</text>
<line x1="260.18" x2="469.46" y1="218.44" y2="218.44" stroke="#EBEBEB" stroke-width="1.0"/>
<line x1="260.18" x2="469.46" y1="202.71" y2="202.71" stroke="#EBEBEB" stroke-width="1.0"/>
<line x1="260.18" x2="469.46" y1="186.99" y2="186.99" stroke="#EBEBEB" stroke-width="1.0"/>
<line x1="260.18" x2="469.46" y1="171.26" y2="171.26" stroke="#EBEBEB" stroke-width="1.0"/>
<line x1="260.18" x2="469.46" y1="226.30" y2="226.30" stroke="#EBEBEB" stroke-width="1.0"/>
<line x1="260.18" x2="469.46" y1="210.58" y2="210.58" stroke="#EBEBEB" stroke-width="1.0"/>
<line x1="260.18" x2="469.46" y1="194.85" y2="194.85" stroke="#EBEBEB" stroke-width="1.0"/>
<line x1="260.18" x2="469.46" y1="179.12" y2="179.12" stroke="#EBEBEB" stroke-width="1.0"/>
<line x1="260.18" x2="469.46" y1="163.40" y2="163.40" stroke="#EBEBEB" stroke-width="1.0"/>
<line x1="266.40" x2="266.40" y1="158.10" y2="229.50" stroke="#EBEBEB" stroke-width="1.0"/>
<line x1="276.76" x2="276.76" y1="158.10" y2="229.50" stroke="#EBEBEB" stroke-width="1.0"/>
<line x1="287.12" x2="287.12" y1="158.10" y2="229.50" stroke="#EBEBEB" stroke-width="1.0"/>
<line x1="297.48" x2="297.48" y1="158.10" y2="229.50" stroke="#EBEBEB" stroke-width="1.0"/>
<line x1="307.84" x2="307.84" y1="158.10" y2="229.50" stroke="#EBEBEB" stroke-width="1.0"/>
<line x1="318.20" x2="318.20" y1="158.10" y2="229.50" stroke="#EBEBEB" stroke-width="1.0"/>
<line x1="328.56" x2="328.56" y1="158.10" y2="229.50" stroke="#EBEBEB" stroke-width="1.0"/>
<line x1="338.92" x2="338.92" y1="158.10" y2="229.50" stroke="#EBEBEB" stroke-width="1.0"/>
<line x1="349.28" x2="349.28" y1="158.10" y2="229.50" stroke="#EBEBEB" stroke-width="1.0"/>
<line x1="359.64" x2="359.64" y1="158.10" y2="229.50" stroke="#EBEBEB" stroke-width="1.0"/>
<line x1="370.00" x2="370.00" y1="158.10" y2="229.50" stroke="#EBEBEB" stroke-width="1.0"/>
<line x1="380.36" x2="380.36" y1="158.10" y2="229.50" stroke="#EBEBEB" stroke-width="1.0"/>
<line x1="390.72" x2="390.72" y1="158.10" y2="229.50" stroke="#EBEBEB" stroke-width="1.0"/>
<line x1="401.08" x2="401.08" y1="158.10" y2="229.50" stroke="#EBEBEB" stroke-width="1.0"/>
<line x1="411.44" x2="411.44" y1="158.10" y2="229.50" stroke="#EBEBEB" stroke-width="1.0"/>
<line x1="421.80" x2="421.80" y1="158.10" y2="229.50" stroke="#EBEBEB" stroke-width="1.0"/>
<line x1="432.16" x2="432.16" y1="158.10" y2="229.50" stroke="#EBEBEB" stroke-width="1.0"/>
<line x1="442.52" x2="442.52" y1="158.10" y2="229.50" stroke="#EBEBEB" stroke-width="1.0"/>
<line x1="452.88" x2="452.88" y1="158.10" y2="229.50" stroke="#EBEBEB" stroke-width="1.0"/>
<line x1="463.24" x2="463.24" y1="158.10" y2="229.50" stroke="#EBEBEB" stroke-width="1.0"/>
<rect x="262.75" y="214.00" width="3.2" height="12.30" fill="#E94849"/>
<rect x="266.85" y="216.00" width="3.2" height="10.30" fill="#5F98C6"/>
<rect x="273.11" y="206.00" width="3.2" height="20.30" fill="#E94849"/>
<rect x="277.21" y="209.90" width="3.2" height="16.40" fill="#5F98C6"/>
<rect x="283.47" y="205.40" width="3.2" height="20.90" fill="#E94849"/>
<rect x="287.57" y="205.00" width="3.2" height="21.30" fill="#5F98C6"/>
<rect x="293.83" y="208.80" width="3.2" height="17.50" fill="#E94849"/>
<rect x="297.93" y="204.10" width="3.2" height="22.20" fill="#5F98C6"/>
<rect x="304.19" y="209.40" width="3.2" height="16.90" fill="#E94849"/>
<rect x="308.29" y="204.10" width="3.2" height="22.20" fill="#5F98C6"/>
<rect x="314.55" y="207.90" width="3.2" height="18.40" fill="#E94849"/>
<rect x="318.65" y="204.20" width="3.2" height="22.10" fill="#5F98C6"/>
<rect x="324.91" y="203.30" width="3.2" height="23.00" fill="#E94849"/>
<rect x="329.01" y="204.20" width="3.2" height="22.10" fill="#5F98C6"/>
<rect x="335.27" y="196.10" width="3.2" height="30.20" fill="#E94849"/>
<rect x="339.37" y="204.20" width="3.2" height="22.10" fill="#5F98C6"/>
<rect x="345.63" y="190.00" width="3.2" height="36.30" fill="#E94849"/>
<rect x="349.73" y="205.00" width="3.2" height="21.30" fill="#5F98C6"/>
<rect x="355.99" y="186.90" width="3.2" height="39.40" fill="#E94849"/>
<rect x="360.09" y="204.10" width="3.2" height="22.20" fill="#5F98C6"/>
<rect x="366.35" y="183.10" width="3.2" height="43.20" fill="#E94849"/>
<rect x="370.45" y="201.00" width="3.2" height="25.30" fill="#5F98C6"/>
<rect x="376.71" y="183.40" width="3.2" height="42.90" fill="#E94849"/>
<rect x="380.81" y="195.60" width="3.2" height="30.70" fill="#5F98C6"/>
<rect x="387.07" y="182.00" width="3.2" height="44.30" fill="#E94849"/>
<rect x="391.17" y="189.60" width="3.2" height="36.70" fill="#5F98C6"/>
<rect x="397.43" y="185.80" width="3.2" height="40.50" fill="#E94849"/>
<rect x="401.53" y="189.20" width="3.2" height="37.10" fill="#5F98C6"/>
<rect x="407.79" y="194.20" width="3.2" height="32.10" fill="#E94849"/>
<rect x="411.89" y="195.00" width="3.2" height="31.30" fill="#5F98C6"/>
<rect x="418.15" y="199.90" width="3.2" height="26.40" fill="#E94849"/>
<rect x="422.25" y="201.50" width="3.2" height="24.80" fill="#5F98C6"/>
<rect x="428.51" y="202.20" width="3.2" height="24.10" fill="#E94849"/>
<rect x="432.61" y="206.00" width="3.2" height="20.30" fill="#5F98C6"/>
<rect x="438.87" y="199.20" width="3.2" height="27.10" fill="#E94849"/>
<rect x="442.97" y="209.40" width="3.2" height="16.90" fill="#5F98C6"/>
<rect x="449.23" y="194.20" width="3.2" height="32.10" fill="#E94849"/>
<rect x="453.33" y="206.00" width="3.2" height="20.30" fill="#5F98C6"/>
<rect x="459.59" y="188.10" width="3.2" height="38.20" fill="#E94849"/>
<rect x="463.69" y="198.10" width="3.2" height="28.20" fill="#5F98C6"/>
<polyline points="266.40,210.25 268.89,210.27 271.38,210.25 273.87,210.21 276.37,210.14 278.86,210.03 281.35,209.89 283.84,209.71 286.33,209.50 288.82,209.25 291.32,208.95 293.81,208.62 296.30,208.25 298.79,207.85 301.28,207.42 303.77,206.97 306.27,206.49 308.76,206.00 311.25,205.45 313.74,204.85 316.23,204.21 318.72,203.52 321.22,202.79 323.71,202.03 326.20,201.24 328.69,200.43 331.18,199.59 333.67,198.75 336.17,197.89 338.66,197.03 341.15,196.05 343.64,194.84 346.13,193.47 348.62,192.03 351.12,190.59 353.61,189.24 356.10,188.05 358.59,187.12 361.08,186.47 363.57,185.93 366.07,185.47 368.56,185.09 371.05,184.79 373.54,184.57 376.03,184.42 378.52,184.36 381.02,184.37 383.51,184.46 386.00,184.62 388.49,184.86 390.98,185.17 393.47,185.69 395.97,186.44 398.46,187.34 400.95,188.33 403.44,189.32 405.93,190.23 408.42,190.98 410.92,191.50 413.41,191.83 415.90,192.17 418.39,192.52 420.88,192.87 423.37,193.21 425.87,193.55 428.36,193.87 430.85,194.16 433.34,194.42 435.83,194.65 438.32,194.82 440.82,194.95 443.31,195.02 445.80,195.04 448.29,195.01 450.78,194.94 453.27,194.83 455.77,194.69 458.26,194.52 460.75,194.31 463.24,194.09" fill="none" stroke="#E41A1C" stroke-opacity="0.85" stroke-width="1.0" stroke-linejoin="round" shape-rendering="crispEdges"/>
<polyline points="266.40,212.56 268.89,211.98 271.38,211.42 273.87,210.88 276.37,210.36 278.86,209.85 281.35,209.37 283.84,208.91 286.33,208.48 288.82,208.08 291.32,207.70 293.81,207.36 296.30,207.03 298.79,206.73 301.28,206.43 303.77,206.15 306.27,205.86 308.76,205.58 311.25,205.37 313.74,205.23 316.23,205.14 318.72,205.11 321.22,205.10 323.71,205.12 326.20,205.13 328.69,205.14 331.18,205.13 333.67,205.07 336.17,204.97 338.66,204.80 341.15,204.56 343.64,204.26 346.13,203.92 348.62,203.54 351.12,203.13 353.61,202.71 356.10,202.28 358.59,201.85 361.08,201.41 363.57,200.83 366.07,200.13 368.56,199.34 371.05,198.49 373.54,197.62 376.03,196.76 378.52,195.94 381.02,195.19 383.51,194.54 386.00,194.03 388.49,193.69 390.98,193.54 393.47,193.61 395.97,193.86 398.46,194.24 400.95,194.71 403.44,195.21 405.93,195.71 408.42,196.15 410.92,196.48 413.41,196.73 415.90,197.02 418.39,197.34 420.88,197.70 423.37,198.09 425.87,198.51 428.36,198.95 430.85,199.41 433.34,199.88 435.83,200.37 438.32,200.87 440.82,201.37 443.31,201.87 445.80,202.38 448.29,202.90 450.78,203.42 453.27,203.96 455.77,204.51 458.26,205.08 460.75,205.66 463.24,206.26" fill="none" stroke="#377EB8" stroke-opacity="0.85" stroke-width="1.0" stroke-linejoin="round" shape-rendering="crispEdges"/>
<text transform="translate(364.02,151.70) scale(1,1.12)" text-anchor="middle" font-size="11.4" fill="#1A1A1A">Oman</text>
<line x1="476.28" x2="685.56" y1="218.44" y2="218.44" stroke="#EBEBEB" stroke-width="1.0"/>
<line x1="476.28" x2="685.56" y1="202.71" y2="202.71" stroke="#EBEBEB" stroke-width="1.0"/>
<line x1="476.28" x2="685.56" y1="186.99" y2="186.99" stroke="#EBEBEB" stroke-width="1.0"/>
<line x1="476.28" x2="685.56" y1="171.26" y2="171.26" stroke="#EBEBEB" stroke-width="1.0"/>
<line x1="476.28" x2="685.56" y1="226.30" y2="226.30" stroke="#EBEBEB" stroke-width="1.0"/>
<line x1="476.28" x2="685.56" y1="210.58" y2="210.58" stroke="#EBEBEB" stroke-width="1.0"/>
<line x1="476.28" x2="685.56" y1="194.85" y2="194.85" stroke="#EBEBEB" stroke-width="1.0"/>
<line x1="476.28" x2="685.56" y1="179.12" y2="179.12" stroke="#EBEBEB" stroke-width="1.0"/>
<line x1="476.28" x2="685.56" y1="163.40" y2="163.40" stroke="#EBEBEB" stroke-width="1.0"/>
<line x1="482.50" x2="482.50" y1="158.10" y2="229.50" stroke="#EBEBEB" stroke-width="1.0"/>
<line x1="492.86" x2="492.86" y1="158.10" y2="229.50" stroke="#EBEBEB" stroke-width="1.0"/>
<line x1="503.22" x2="503.22" y1="158.10" y2="229.50" stroke="#EBEBEB" stroke-width="1.0"/>
<line x1="513.58" x2="513.58" y1="158.10" y2="229.50" stroke="#EBEBEB" stroke-width="1.0"/>
<line x1="523.94" x2="523.94" y1="158.10" y2="229.50" stroke="#EBEBEB" stroke-width="1.0"/>
<line x1="534.30" x2="534.30" y1="158.10" y2="229.50" stroke="#EBEBEB" stroke-width="1.0"/>
<line x1="544.66" x2="544.66" y1="158.10" y2="229.50" stroke="#EBEBEB" stroke-width="1.0"/>
<line x1="555.02" x2="555.02" y1="158.10" y2="229.50" stroke="#EBEBEB" stroke-width="1.0"/>
<line x1="565.38" x2="565.38" y1="158.10" y2="229.50" stroke="#EBEBEB" stroke-width="1.0"/>
<line x1="575.74" x2="575.74" y1="158.10" y2="229.50" stroke="#EBEBEB" stroke-width="1.0"/>
<line x1="586.10" x2="586.10" y1="158.10" y2="229.50" stroke="#EBEBEB" stroke-width="1.0"/>
<line x1="596.46" x2="596.46" y1="158.10" y2="229.50" stroke="#EBEBEB" stroke-width="1.0"/>
<line x1="606.82" x2="606.82" y1="158.10" y2="229.50" stroke="#EBEBEB" stroke-width="1.0"/>
<line x1="617.18" x2="617.18" y1="158.10" y2="229.50" stroke="#EBEBEB" stroke-width="1.0"/>
<line x1="627.54" x2="627.54" y1="158.10" y2="229.50" stroke="#EBEBEB" stroke-width="1.0"/>
<line x1="637.90" x2="637.90" y1="158.10" y2="229.50" stroke="#EBEBEB" stroke-width="1.0"/>
<line x1="648.26" x2="648.26" y1="158.10" y2="229.50" stroke="#EBEBEB" stroke-width="1.0"/>
<line x1="658.62" x2="658.62" y1="158.10" y2="229.50" stroke="#EBEBEB" stroke-width="1.0"/>
<line x1="668.98" x2="668.98" y1="158.10" y2="229.50" stroke="#EBEBEB" stroke-width="1.0"/>
<line x1="679.34" x2="679.34" y1="158.10" y2="229.50" stroke="#EBEBEB" stroke-width="1.0"/>
<rect x="478.85" y="214.00" width="3.2" height="12.30" fill="#E94849"/>
<rect x="482.95" y="214.90" width="3.2" height="11.40" fill="#5F98C6"/>
<rect x="489.21" y="204.80" width="3.2" height="21.50" fill="#E94849"/>
<rect x="493.31" y="208.80" width="3.2" height="17.50" fill="#5F98C6"/>
<rect x="499.57" y="204.80" width="3.2" height="21.50" fill="#E94849"/>
<rect x="503.67" y="204.20" width="3.2" height="22.10" fill="#5F98C6"/>
<rect x="509.93" y="208.80" width="3.2" height="17.50" fill="#E94849"/>
<rect x="514.03" y="202.20" width="3.2" height="24.10" fill="#5F98C6"/>
<rect x="520.29" y="209.40" width="3.2" height="16.90" fill="#E94849"/>
<rect x="524.39" y="202.20" width="3.2" height="24.10" fill="#5F98C6"/>
<rect x="530.65" y="207.00" width="3.2" height="19.30" fill="#E94849"/>
<rect x="534.75" y="202.20" width="3.2" height="24.10" fill="#5F98C6"/>
<rect x="541.01" y="201.50" width="3.2" height="24.80" fill="#E94849"/>
<rect x="545.11" y="202.20" width="3.2" height="24.10" fill="#5F98C6"/>
<rect x="551.37" y="193.50" width="3.2" height="32.80" fill="#E94849"/>
<rect x="555.47" y="202.20" width="3.2" height="24.10" fill="#5F98C6"/>
<rect x="561.73" y="188.10" width="3.2" height="38.20" fill="#E94849"/>
<rect x="565.83" y="203.00" width="3.2" height="23.30" fill="#5F98C6"/>
<rect x="572.09" y="187.20" width="3.2" height="39.10" fill="#E94849"/>
<rect x="576.19" y="202.20" width="3.2" height="24.10" fill="#5F98C6"/>
<rect x="582.45" y="190.70" width="3.2" height="35.60" fill="#E94849"/>
<rect x="586.55" y="201.00" width="3.2" height="25.30" fill="#5F98C6"/>
<rect x="592.81" y="194.60" width="3.2" height="31.70" fill="#E94849"/>
<rect x="596.91" y="196.10" width="3.2" height="30.20" fill="#5F98C6"/>
<rect x="603.17" y="198.10" width="3.2" height="28.20" fill="#E94849"/>
<rect x="607.27" y="195.30" width="3.2" height="31.00" fill="#5F98C6"/>
<rect x="613.53" y="197.60" width="3.2" height="28.70" fill="#E94849"/>
<rect x="617.63" y="191.00" width="3.2" height="35.30" fill="#5F98C6"/>
<rect x="623.89" y="200.70" width="3.2" height="25.60" fill="#E94849"/>
<rect x="627.99" y="187.00" width="3.2" height="39.30" fill="#5F98C6"/>
<rect x="634.25" y="199.20" width="3.2" height="27.10" fill="#E94849"/>
<rect x="638.35" y="188.90" width="3.2" height="37.40" fill="#5F98C6"/>
<rect x="644.61" y="198.10" width="3.2" height="28.20" fill="#E94849"/>
<rect x="648.71" y="197.20" width="3.2" height="29.10" fill="#5F98C6"/>
<rect x="654.97" y="201.50" width="3.2" height="24.80" fill="#E94849"/>
<rect x="659.07" y="207.00" width="3.2" height="19.30" fill="#5F98C6"/>
<rect x="665.33" y="202.70" width="3.2" height="23.60" fill="#E94849"/>
<rect x="669.43" y="209.40" width="3.2" height="16.90" fill="#5F98C6"/>
<rect x="675.69" y="199.90" width="3.2" height="26.40" fill="#E94849"/>
<rect x="679.79" y="205.40" width="3.2" height="20.90" fill="#5F98C6"/>
<polyline points="482.50,211.16 484.99,210.86 487.48,210.55 489.97,210.22 492.47,209.88 494.96,209.53 497.45,209.16 499.94,208.77 502.43,208.35 504.92,207.91 507.42,207.44 509.91,206.94 512.40,206.43 514.89,205.89 517.38,205.36 519.87,204.82 522.37,204.29 524.86,203.77 527.35,203.19 529.84,202.55 532.33,201.86 534.82,201.14 537.32,200.38 539.81,199.61 542.30,198.84 544.79,198.07 547.28,197.33 549.77,196.62 552.27,195.95 554.76,195.34 557.25,194.73 559.74,194.02 562.23,193.28 564.72,192.53 567.22,191.81 569.71,191.18 572.20,190.67 574.69,190.32 577.18,190.18 579.67,190.23 582.17,190.44 584.66,190.80 587.15,191.26 589.64,191.81 592.13,192.42 594.62,193.06 597.12,193.70 599.61,194.32 602.10,194.89 604.59,195.38 607.08,195.77 609.57,196.13 612.07,196.51 614.56,196.89 617.05,197.28 619.54,197.65 622.03,198.00 624.52,198.32 627.02,198.61 629.51,198.86 632.00,199.10 634.49,199.33 636.98,199.56 639.47,199.77 641.97,199.96 644.46,200.14 646.95,200.31 649.44,200.46 651.93,200.59 654.42,200.71 656.92,200.80 659.41,200.87 661.90,200.93 664.39,200.96 666.88,200.98 669.37,200.99 671.87,200.98 674.36,200.95 676.85,200.91 679.34,200.85" fill="none" stroke="#E41A1C" stroke-opacity="0.85" stroke-width="1.0" stroke-linejoin="round" shape-rendering="crispEdges"/>
<polyline points="482.50,211.98 484.99,211.26 487.48,210.57 489.97,209.90 492.47,209.25 494.96,208.63 497.45,208.04 499.94,207.47 502.43,206.94 504.92,206.44 507.42,205.98 509.91,205.55 512.40,205.15 514.89,204.77 517.38,204.41 519.87,204.07 522.37,203.74 524.86,203.43 527.35,203.17 529.84,202.99 532.33,202.87 534.82,202.80 537.32,202.76 539.81,202.75 542.30,202.75 544.79,202.76 547.28,202.75 549.77,202.72 552.27,202.67 554.76,202.56 557.25,202.45 559.74,202.36 562.23,202.29 564.72,202.21 567.22,202.12 569.71,201.99 572.20,201.81 574.69,201.57 577.18,201.22 579.67,200.73 582.17,200.11 584.66,199.40 587.15,198.61 589.64,197.79 592.13,196.94 594.62,196.12 597.12,195.33 599.61,194.61 602.10,193.99 604.59,193.49 607.08,193.14 609.57,192.88 612.07,192.66 614.56,192.48 617.05,192.35 619.54,192.29 622.03,192.31 624.52,192.40 627.02,192.58 629.51,192.85 632.00,193.17 634.49,193.54 636.98,193.97 639.47,194.46 641.97,195.00 644.46,195.60 646.95,196.27 649.44,196.99 651.93,197.78 654.42,198.64 656.92,199.56 659.41,200.55 661.90,201.60 664.39,202.72 666.88,203.91 669.37,205.16 671.87,206.47 674.36,207.84 676.85,209.28 679.34,210.77" fill="none" stroke="#377EB8" stroke-opacity="0.85" stroke-width="1.0" stroke-linejoin="round" shape-rendering="crispEdges"/>
<text transform="translate(580.32,151.70) scale(1,1.12)" text-anchor="middle" font-size="11.4" fill="#1A1A1A">Qatar</text>
<line x1="43.38" x2="252.66" y1="319.46" y2="319.46" stroke="#EBEBEB" stroke-width="1.0"/>
<line x1="43.38" x2="252.66" y1="303.99" y2="303.99" stroke="#EBEBEB" stroke-width="1.0"/>
<line x1="43.38" x2="252.66" y1="288.51" y2="288.51" stroke="#EBEBEB" stroke-width="1.0"/>
<line x1="43.38" x2="252.66" y1="273.04" y2="273.04" stroke="#EBEBEB" stroke-width="1.0"/>
<line x1="43.38" x2="252.66" y1="327.20" y2="327.20" stroke="#EBEBEB" stroke-width="1.0"/>
<line x1="43.38" x2="252.66" y1="311.72" y2="311.72" stroke="#EBEBEB" stroke-width="1.0"/>
<line x1="43.38" x2="252.66" y1="296.25" y2="296.25" stroke="#EBEBEB" stroke-width="1.0"/>
<line x1="43.38" x2="252.66" y1="280.77" y2="280.77" stroke="#EBEBEB" stroke-width="1.0"/>
<line x1="43.38" x2="252.66" y1="265.30" y2="265.30" stroke="#EBEBEB" stroke-width="1.0"/>
<line x1="49.60" x2="49.60" y1="259.20" y2="330.40" stroke="#EBEBEB" stroke-width="1.0"/>
<line x1="59.96" x2="59.96" y1="259.20" y2="330.40" stroke="#EBEBEB" stroke-width="1.0"/>
<line x1="70.32" x2="70.32" y1="259.20" y2="330.40" stroke="#EBEBEB" stroke-width="1.0"/>
<line x1="80.68" x2="80.68" y1="259.20" y2="330.40" stroke="#EBEBEB" stroke-width="1.0"/>
<line x1="91.04" x2="91.04" y1="259.20" y2="330.40" stroke="#EBEBEB" stroke-width="1.0"/>
<line x1="101.40" x2="101.40" y1="259.20" y2="330.40" stroke="#EBEBEB" stroke-width="1.0"/>
<line x1="111.76" x2="111.76" y1="259.20" y2="330.40" stroke="#EBEBEB" stroke-width="1.0"/>
<line x1="122.12" x2="122.12" y1="259.20" y2="330.40" stroke="#EBEBEB" stroke-width="1.0"/>
<line x1="132.48" x2="132.48" y1="259.20" y2="330.40" stroke="#EBEBEB" stroke-width="1.0"/>
<line x1="142.84" x2="142.84" y1="259.20" y2="330.40" stroke="#EBEBEB" stroke-width="1.0"/>
<line x1="153.20" x2="153.20" y1="259.20" y2="330.40" stroke="#EBEBEB" stroke-width="1.0"/>
<line x1="163.56" x2="163.56" y1="259.20" y2="330.40" stroke="#EBEBEB" stroke-width="1.0"/>
<line x1="173.92" x2="173.92" y1="259.20" y2="330.40" stroke="#EBEBEB" stroke-width="1.0"/>
<line x1="184.28" x2="184.28" y1="259.20" y2="330.40" stroke="#EBEBEB" stroke-width="1.0"/>
<line x1="194.64" x2="194.64" y1="259.20" y2="330.40" stroke="#EBEBEB" stroke-width="1.0"/>
<line x1="205.00" x2="205.00" y1="259.20" y2="330.40" stroke="#EBEBEB" stroke-width="1.0"/>
<line x1="215.36" x2="215.36" y1="259.20" y2="330.40" stroke="#EBEBEB" stroke-width="1.0"/>
<line x1="225.72" x2="225.72" y1="259.20" y2="330.40" stroke="#EBEBEB" stroke-width="1.0"/>
<line x1="236.08" x2="236.08" y1="259.20" y2="330.40" stroke="#EBEBEB" stroke-width="1.0"/>
<line x1="246.44" x2="246.44" y1="259.20" y2="330.40" stroke="#EBEBEB" stroke-width="1.0"/>
<rect x="45.95" y="316.90" width="3.2" height="10.30" fill="#E94849"/>
<rect x="50.05" y="318.80" width="3.2" height="8.40" fill="#5F98C6"/>
<rect x="56.31" y="307.40" width="3.2" height="19.80" fill="#E94849"/>
<rect x="60.41" y="311.40" width="3.2" height="15.80" fill="#5F98C6"/>
<rect x="66.67" y="306.80" width="3.2" height="20.40" fill="#E94849"/>
<rect x="70.77" y="306.80" width="3.2" height="20.40" fill="#5F98C6"/>
<rect x="77.03" y="309.30" width="3.2" height="17.90" fill="#E94849"/>
<rect x="81.13" y="305.00" width="3.2" height="22.20" fill="#5F98C6"/>
<rect x="87.39" y="310.80" width="3.2" height="16.40" fill="#E94849"/>
<rect x="91.49" y="305.00" width="3.2" height="22.20" fill="#5F98C6"/>
<rect x="97.75" y="307.40" width="3.2" height="19.80" fill="#E94849"/>
<rect x="101.85" y="303.10" width="3.2" height="24.10" fill="#5F98C6"/>
<rect x="108.11" y="301.20" width="3.2" height="26.00" fill="#E94849"/>
<rect x="112.21" y="302.20" width="3.2" height="25.00" fill="#5F98C6"/>
<rect x="118.47" y="290.90" width="3.2" height="36.30" fill="#E94849"/>
<rect x="122.57" y="300.10" width="3.2" height="27.10" fill="#5F98C6"/>
<rect x="128.83" y="280.80" width="3.2" height="46.40" fill="#E94849"/>
<rect x="132.93" y="299.60" width="3.2" height="27.60" fill="#5F98C6"/>
<rect x="139.19" y="272.80" width="3.2" height="54.40" fill="#E94849"/>
<rect x="143.29" y="295.80" width="3.2" height="31.40" fill="#5F98C6"/>
<rect x="149.55" y="273.10" width="3.2" height="54.10" fill="#E94849"/>
<rect x="153.65" y="290.90" width="3.2" height="36.30" fill="#5F98C6"/>
<rect x="159.91" y="280.20" width="3.2" height="47.00" fill="#E94849"/>
<rect x="164.01" y="282.00" width="3.2" height="45.20" fill="#5F98C6"/>
<rect x="170.27" y="286.10" width="3.2" height="41.10" fill="#E94849"/>
<rect x="174.37" y="278.90" width="3.2" height="48.30" fill="#5F98C6"/>
<rect x="180.63" y="292.00" width="3.2" height="35.20" fill="#E94849"/>
<rect x="184.73" y="281.20" width="3.2" height="46.00" fill="#5F98C6"/>
<rect x="190.99" y="298.90" width="3.2" height="28.30" fill="#E94849"/>
<rect x="195.09" y="286.10" width="3.2" height="41.10" fill="#5F98C6"/>
<rect x="201.35" y="305.90" width="3.2" height="21.30" fill="#E94849"/>
<rect x="205.45" y="298.10" width="3.2" height="29.10" fill="#5F98C6"/>
<rect x="211.71" y="308.40" width="3.2" height="18.80" fill="#E94849"/>
<rect x="215.81" y="308.40" width="3.2" height="18.80" fill="#5F98C6"/>
<rect x="222.07" y="307.40" width="3.2" height="19.80" fill="#E94849"/>
<rect x="226.17" y="312.00" width="3.2" height="15.20" fill="#5F98C6"/>
<rect x="232.43" y="304.70" width="3.2" height="22.50" fill="#E94849"/>
<rect x="236.53" y="313.00" width="3.2" height="14.20" fill="#5F98C6"/>
<rect x="242.79" y="299.60" width="3.2" height="27.60" fill="#E94849"/>
<rect x="246.89" y="311.40" width="3.2" height="15.80" fill="#5F98C6"/>
<polyline points="49.60,313.54 52.09,313.35 54.58,313.12 57.07,312.86 59.57,312.56 62.06,312.22 64.55,311.84 67.04,311.41 69.53,310.93 72.02,310.39 74.52,309.80 77.01,309.14 79.50,308.44 81.99,307.70 84.48,306.94 86.97,306.15 89.47,305.35 91.96,304.54 94.45,303.63 96.94,302.62 99.43,301.51 101.92,300.33 104.42,299.10 106.91,297.83 109.40,296.53 111.89,295.22 114.38,293.93 116.87,292.66 119.37,291.44 121.86,290.27 124.35,289.00 126.84,287.45 129.33,285.71 131.82,283.91 134.32,282.16 136.81,280.57 139.30,279.25 141.79,278.32 144.28,277.85 146.77,277.65 149.27,277.69 151.76,277.93 154.25,278.36 156.74,278.93 159.23,279.64 161.72,280.45 164.22,281.33 166.71,282.27 169.20,283.23 171.69,284.20 174.18,285.14 176.67,286.24 179.17,287.60 181.66,289.11 184.15,290.69 186.64,292.27 189.13,293.74 191.62,295.03 194.12,296.04 196.61,296.83 199.10,297.61 201.59,298.39 204.08,299.17 206.57,299.92 209.07,300.65 211.56,301.35 214.05,302.00 216.54,302.60 219.03,303.14 221.52,303.62 224.02,304.02 226.51,304.35 229.00,304.60 231.49,304.78 233.98,304.91 236.47,304.98 238.97,304.99 241.46,304.96 243.95,304.89 246.44,304.77" fill="none" stroke="#E41A1C" stroke-opacity="0.85" stroke-width="1.0" stroke-linejoin="round" shape-rendering="crispEdges"/>
<polyline points="49.60,315.01 52.09,314.39 54.58,313.78 57.07,313.17 59.57,312.57 62.06,311.98 64.55,311.40 67.04,310.82 69.53,310.26 72.02,309.71 74.52,309.17 77.01,308.65 79.50,308.14 81.99,307.64 84.48,307.13 86.97,306.62 89.47,306.10 91.96,305.57 94.45,305.10 96.94,304.67 99.43,304.28 101.92,303.93 104.42,303.59 106.91,303.25 109.40,302.91 111.89,302.54 114.38,302.15 116.87,301.71 119.37,301.22 121.86,300.66 124.35,299.99 126.84,299.18 129.33,298.25 131.82,297.27 134.32,296.26 136.81,295.26 139.30,294.33 141.79,293.48 144.28,292.72 146.77,291.82 149.27,290.79 151.76,289.68 154.25,288.51 156.74,287.35 159.23,286.23 161.72,285.19 164.22,284.28 166.71,283.53 169.20,283.00 171.69,282.72 174.18,282.73 176.67,283.05 179.17,283.63 181.66,284.40 184.15,285.32 186.64,286.32 189.13,287.34 191.62,288.32 194.12,289.21 196.61,290.04 199.10,290.94 201.59,291.93 204.08,293.00 206.57,294.14 209.07,295.35 211.56,296.63 214.05,297.96 216.54,299.36 219.03,300.80 221.52,302.30 224.02,303.83 226.51,305.41 229.00,307.02 231.49,308.69 233.98,310.40 236.47,312.16 238.97,313.97 241.46,315.84 243.95,317.77 246.44,319.75" fill="none" stroke="#377EB8" stroke-opacity="0.85" stroke-width="1.0" stroke-linejoin="round" shape-rendering="crispEdges"/>
<text transform="translate(148.12,252.80) scale(1,1.12)" text-anchor="middle" font-size="11.4" fill="#1A1A1A">Saudi Arabia</text>
<text transform="translate(36.00,330.50) scale(1,1.09)" text-anchor="end" font-size="8.1" fill="#4D4D4D">0</text>
<text transform="translate(36.00,315.02) scale(1,1.09)" text-anchor="end" font-size="8.1" fill="#4D4D4D">100</text>
<text transform="translate(36.00,299.55) scale(1,1.09)" text-anchor="end" font-size="8.1" fill="#4D4D4D">200</text>
<text transform="translate(36.00,284.07) scale(1,1.09)" text-anchor="end" font-size="8.1" fill="#4D4D4D">300</text>
<text transform="translate(36.00,268.60) scale(1,1.09)" text-anchor="end" font-size="8.1" fill="#4D4D4D">400</text>
<text transform="translate(53.50,348.50) rotate(-90)" text-anchor="middle" font-size="8.2" letter-spacing="0.45" fill="#4D4D4D">0_4</text>
<text transform="translate(63.86,348.50) rotate(-90)" text-anchor="middle" font-size="8.2" letter-spacing="0.45" fill="#4D4D4D">5_9</text>
<text transform="translate(74.22,348.50) rotate(-90)" text-anchor="middle" font-size="8.2" letter-spacing="0.45" fill="#4D4D4D">10_14</text>
<text transform="translate(84.58,348.50) rotate(-90)" text-anchor="middle" font-size="8.2" letter-spacing="0.45" fill="#4D4D4D">15_19</text>
<text transform="translate(94.94,348.50) rotate(-90)" text-anchor="middle" font-size="8.2" letter-spacing="0.45" fill="#4D4D4D">20_24</text>
<text transform="translate(105.30,348.50) rotate(-90)" text-anchor="middle" font-size="8.2" letter-spacing="0.45" fill="#4D4D4D">25_29</text>
<text transform="translate(115.66,348.50) rotate(-90)" text-anchor="middle" font-size="8.2" letter-spacing="0.45" fill="#4D4D4D">30_34</text>
<text transform="translate(126.02,348.50) rotate(-90)" text-anchor="middle" font-size="8.2" letter-spacing="0.45" fill="#4D4D4D">35_39</text>
<text transform="translate(136.38,348.50) rotate(-90)" text-anchor="middle" font-size="8.2" letter-spacing="0.45" fill="#4D4D4D">40_44</text>
<text transform="translate(146.74,348.50) rotate(-90)" text-anchor="middle" font-size="8.2" letter-spacing="0.45" fill="#4D4D4D">45_49</text>
<text transform="translate(157.10,348.50) rotate(-90)" text-anchor="middle" font-size="8.2" letter-spacing="0.45" fill="#4D4D4D">50_54</text>
<text transform="translate(167.46,348.50) rotate(-90)" text-anchor="middle" font-size="8.2" letter-spacing="0.45" fill="#4D4D4D">55_59</text>
<text transform="translate(177.82,348.50) rotate(-90)" text-anchor="middle" font-size="8.2" letter-spacing="0.45" fill="#4D4D4D">60_64</text>
<text transform="translate(188.18,348.50) rotate(-90)" text-anchor="middle" font-size="8.2" letter-spacing="0.45" fill="#4D4D4D">65_69</text>
<text transform="translate(198.54,348.50) rotate(-90)" text-anchor="middle" font-size="8.2" letter-spacing="0.45" fill="#4D4D4D">70_74</text>
<text transform="translate(208.90,348.50) rotate(-90)" text-anchor="middle" font-size="8.2" letter-spacing="0.45" fill="#4D4D4D">75_79</text>
<text transform="translate(219.26,348.50) rotate(-90)" text-anchor="middle" font-size="8.2" letter-spacing="0.45" fill="#4D4D4D">80_84</text>
<text transform="translate(229.62,348.50) rotate(-90)" text-anchor="middle" font-size="8.2" letter-spacing="0.45" fill="#4D4D4D">85_89</text>
<text transform="translate(239.98,348.50) rotate(-90)" text-anchor="middle" font-size="8.2" letter-spacing="0.45" fill="#4D4D4D">90_94</text>
<text transform="translate(250.34,348.50) rotate(-90)" text-anchor="middle" font-size="8.2" letter-spacing="0.45" fill="#4D4D4D">95+</text>
<line x1="260.18" x2="469.46" y1="319.46" y2="319.46" stroke="#EBEBEB" stroke-width="1.0"/>
<line x1="260.18" x2="469.46" y1="303.99" y2="303.99" stroke="#EBEBEB" stroke-width="1.0"/>
<line x1="260.18" x2="469.46" y1="288.51" y2="288.51" stroke="#EBEBEB" stroke-width="1.0"/>
<line x1="260.18" x2="469.46" y1="273.04" y2="273.04" stroke="#EBEBEB" stroke-width="1.0"/>
<line x1="260.18" x2="469.46" y1="327.20" y2="327.20" stroke="#EBEBEB" stroke-width="1.0"/>
<line x1="260.18" x2="469.46" y1="311.72" y2="311.72" stroke="#EBEBEB" stroke-width="1.0"/>
<line x1="260.18" x2="469.46" y1="296.25" y2="296.25" stroke="#EBEBEB" stroke-width="1.0"/>
<line x1="260.18" x2="469.46" y1="280.77" y2="280.77" stroke="#EBEBEB" stroke-width="1.0"/>
<line x1="260.18" x2="469.46" y1="265.30" y2="265.30" stroke="#EBEBEB" stroke-width="1.0"/>
<line x1="266.40" x2="266.40" y1="259.20" y2="330.40" stroke="#EBEBEB" stroke-width="1.0"/>
<line x1="276.76" x2="276.76" y1="259.20" y2="330.40" stroke="#EBEBEB" stroke-width="1.0"/>
<line x1="287.12" x2="287.12" y1="259.20" y2="330.40" stroke="#EBEBEB" stroke-width="1.0"/>
<line x1="297.48" x2="297.48" y1="259.20" y2="330.40" stroke="#EBEBEB" stroke-width="1.0"/>
<line x1="307.84" x2="307.84" y1="259.20" y2="330.40" stroke="#EBEBEB" stroke-width="1.0"/>
<line x1="318.20" x2="318.20" y1="259.20" y2="330.40" stroke="#EBEBEB" stroke-width="1.0"/>
<line x1="328.56" x2="328.56" y1="259.20" y2="330.40" stroke="#EBEBEB" stroke-width="1.0"/>
<line x1="338.92" x2="338.92" y1="259.20" y2="330.40" stroke="#EBEBEB" stroke-width="1.0"/>
<line x1="349.28" x2="349.28" y1="259.20" y2="330.40" stroke="#EBEBEB" stroke-width="1.0"/>
<line x1="359.64" x2="359.64" y1="259.20" y2="330.40" stroke="#EBEBEB" stroke-width="1.0"/>
<line x1="370.00" x2="370.00" y1="259.20" y2="330.40" stroke="#EBEBEB" stroke-width="1.0"/>
<line x1="380.36" x2="380.36" y1="259.20" y2="330.40" stroke="#EBEBEB" stroke-width="1.0"/>
<line x1="390.72" x2="390.72" y1="259.20" y2="330.40" stroke="#EBEBEB" stroke-width="1.0"/>
<line x1="401.08" x2="401.08" y1="259.20" y2="330.40" stroke="#EBEBEB" stroke-width="1.0"/>
<line x1="411.44" x2="411.44" y1="259.20" y2="330.40" stroke="#EBEBEB" stroke-width="1.0"/>
<line x1="421.80" x2="421.80" y1="259.20" y2="330.40" stroke="#EBEBEB" stroke-width="1.0"/>
<line x1="432.16" x2="432.16" y1="259.20" y2="330.40" stroke="#EBEBEB" stroke-width="1.0"/>
<line x1="442.52" x2="442.52" y1="259.20" y2="330.40" stroke="#EBEBEB" stroke-width="1.0"/>
<line x1="452.88" x2="452.88" y1="259.20" y2="330.40" stroke="#EBEBEB" stroke-width="1.0"/>
<line x1="463.24" x2="463.24" y1="259.20" y2="330.40" stroke="#EBEBEB" stroke-width="1.0"/>
<rect x="262.75" y="319.20" width="3.2" height="8.00" fill="#E94849"/>
<rect x="266.85" y="320.00" width="3.2" height="7.20" fill="#5F98C6"/>
<rect x="273.11" y="312.20" width="3.2" height="15.00" fill="#E94849"/>
<rect x="277.21" y="313.40" width="3.2" height="13.80" fill="#5F98C6"/>
<rect x="283.47" y="310.00" width="3.2" height="17.20" fill="#E94849"/>
<rect x="287.57" y="308.10" width="3.2" height="19.10" fill="#5F98C6"/>
<rect x="293.83" y="312.00" width="3.2" height="15.20" fill="#E94849"/>
<rect x="297.93" y="305.00" width="3.2" height="22.20" fill="#5F98C6"/>
<rect x="304.19" y="312.60" width="3.2" height="14.60" fill="#E94849"/>
<rect x="308.29" y="303.10" width="3.2" height="24.10" fill="#5F98C6"/>
<rect x="314.55" y="310.80" width="3.2" height="16.40" fill="#E94849"/>
<rect x="318.65" y="302.20" width="3.2" height="25.00" fill="#5F98C6"/>
<rect x="324.91" y="305.90" width="3.2" height="21.30" fill="#E94849"/>
<rect x="329.01" y="303.80" width="3.2" height="23.40" fill="#5F98C6"/>
<rect x="335.27" y="299.20" width="3.2" height="28.00" fill="#E94849"/>
<rect x="339.37" y="303.80" width="3.2" height="23.40" fill="#5F98C6"/>
<rect x="345.63" y="292.00" width="3.2" height="35.20" fill="#E94849"/>
<rect x="349.73" y="303.00" width="3.2" height="24.20" fill="#5F98C6"/>
<rect x="355.99" y="284.80" width="3.2" height="42.40" fill="#E94849"/>
<rect x="360.09" y="302.20" width="3.2" height="25.00" fill="#5F98C6"/>
<rect x="366.35" y="282.00" width="3.2" height="45.20" fill="#E94849"/>
<rect x="370.45" y="298.90" width="3.2" height="28.30" fill="#5F98C6"/>
<rect x="376.71" y="283.80" width="3.2" height="43.40" fill="#E94849"/>
<rect x="380.81" y="291.20" width="3.2" height="36.00" fill="#5F98C6"/>
<rect x="387.07" y="284.80" width="3.2" height="42.40" fill="#E94849"/>
<rect x="391.17" y="286.30" width="3.2" height="40.90" fill="#5F98C6"/>
<rect x="397.43" y="287.80" width="3.2" height="39.40" fill="#E94849"/>
<rect x="401.53" y="285.10" width="3.2" height="42.10" fill="#5F98C6"/>
<rect x="407.79" y="292.40" width="3.2" height="34.80" fill="#E94849"/>
<rect x="411.89" y="288.40" width="3.2" height="38.80" fill="#5F98C6"/>
<rect x="418.15" y="298.90" width="3.2" height="28.30" fill="#E94849"/>
<rect x="422.25" y="296.60" width="3.2" height="30.60" fill="#5F98C6"/>
<rect x="428.51" y="303.00" width="3.2" height="24.20" fill="#E94849"/>
<rect x="432.61" y="306.80" width="3.2" height="20.40" fill="#5F98C6"/>
<rect x="438.87" y="304.20" width="3.2" height="23.00" fill="#E94849"/>
<rect x="442.97" y="313.00" width="3.2" height="14.20" fill="#5F98C6"/>
<rect x="449.23" y="303.50" width="3.2" height="23.70" fill="#E94849"/>
<rect x="453.33" y="312.60" width="3.2" height="14.60" fill="#5F98C6"/>
<rect x="459.59" y="298.90" width="3.2" height="28.30" fill="#E94849"/>
<rect x="463.69" y="308.80" width="3.2" height="18.40" fill="#5F98C6"/>
<polyline points="266.40,315.95 268.89,315.84 271.38,315.69 273.87,315.52 276.37,315.31 278.86,315.07 281.35,314.79 283.84,314.48 286.33,314.13 288.82,313.74 291.32,313.31 293.81,312.84 296.30,312.33 298.79,311.78 301.28,311.21 303.77,310.62 306.27,310.00 308.76,309.37 311.25,308.68 313.74,307.93 316.23,307.13 318.72,306.28 321.22,305.39 323.71,304.47 326.20,303.52 328.69,302.55 331.18,301.57 333.67,300.58 336.17,299.58 338.66,298.59 341.15,297.49 343.64,296.14 346.13,294.64 348.62,293.06 351.12,291.49 353.61,290.02 356.10,288.74 358.59,287.71 361.08,286.99 363.57,286.37 366.07,285.84 368.56,285.38 371.05,285.01 373.54,284.73 376.03,284.53 378.52,284.41 381.02,284.38 383.51,284.44 386.00,284.58 388.49,284.82 390.98,285.14 393.47,285.66 395.97,286.40 398.46,287.29 400.95,288.27 403.44,289.28 405.93,290.24 408.42,291.10 410.92,291.80 413.41,292.36 415.90,292.95 418.39,293.57 420.88,294.21 423.37,294.88 425.87,295.56 428.36,296.25 430.85,296.94 433.34,297.62 435.83,298.30 438.32,298.96 440.82,299.60 443.31,300.22 445.80,300.82 448.29,301.40 450.78,301.97 453.27,302.54 455.77,303.09 458.26,303.65 460.75,304.20 463.24,304.76" fill="none" stroke="#E41A1C" stroke-opacity="0.85" stroke-width="1.0" stroke-linejoin="round" shape-rendering="crispEdges"/>
<polyline points="266.40,316.94 268.89,316.05 271.38,315.19 273.87,314.35 276.37,313.54 278.86,312.76 281.35,312.00 283.84,311.28 286.33,310.59 288.82,309.94 291.32,309.33 293.81,308.76 296.30,308.22 298.79,307.70 301.28,307.20 303.77,306.72 306.27,306.24 308.76,305.77 311.25,305.37 313.74,305.07 316.23,304.83 318.72,304.65 321.22,304.51 323.71,304.40 326.20,304.29 328.69,304.18 331.18,304.06 333.67,303.89 336.17,303.68 338.66,303.40 341.15,303.07 343.64,302.70 346.13,302.30 348.62,301.87 351.12,301.42 353.61,300.95 356.10,300.45 358.59,299.93 361.08,299.36 363.57,298.60 366.07,297.68 368.56,296.64 371.05,295.51 373.54,294.36 376.03,293.21 378.52,292.11 381.02,291.11 383.51,290.25 386.00,289.57 388.49,289.11 390.98,288.93 393.47,288.99 395.97,289.24 398.46,289.63 400.95,290.14 403.44,290.72 405.93,291.34 408.42,291.96 410.92,292.55 413.41,293.11 415.90,293.74 418.39,294.45 420.88,295.22 423.37,296.06 425.87,296.96 428.36,297.93 430.85,298.95 433.34,300.03 435.83,301.17 438.32,302.36 440.82,303.60 443.31,304.89 445.80,306.22 448.29,307.61 450.78,309.05 453.27,310.54 455.77,312.09 458.26,313.69 460.75,315.35 463.24,317.07" fill="none" stroke="#377EB8" stroke-opacity="0.85" stroke-width="1.0" stroke-linejoin="round" shape-rendering="crispEdges"/>
<text transform="translate(364.02,252.80) scale(1,1.12)" text-anchor="middle" font-size="11.4" fill="#1A1A1A">Sudan</text>
<text transform="translate(270.30,348.50) rotate(-90)" text-anchor="middle" font-size="8.2" letter-spacing="0.45" fill="#4D4D4D">0_4</text>
<text transform="translate(280.66,348.50) rotate(-90)" text-anchor="middle" font-size="8.2" letter-spacing="0.45" fill="#4D4D4D">5_9</text>
<text transform="translate(291.02,348.50) rotate(-90)" text-anchor="middle" font-size="8.2" letter-spacing="0.45" fill="#4D4D4D">10_14</text>
<text transform="translate(301.38,348.50) rotate(-90)" text-anchor="middle" font-size="8.2" letter-spacing="0.45" fill="#4D4D4D">15_19</text>
<text transform="translate(311.74,348.50) rotate(-90)" text-anchor="middle" font-size="8.2" letter-spacing="0.45" fill="#4D4D4D">20_24</text>
<text transform="translate(322.10,348.50) rotate(-90)" text-anchor="middle" font-size="8.2" letter-spacing="0.45" fill="#4D4D4D">25_29</text>
<text transform="translate(332.46,348.50) rotate(-90)" text-anchor="middle" font-size="8.2" letter-spacing="0.45" fill="#4D4D4D">30_34</text>
<text transform="translate(342.82,348.50) rotate(-90)" text-anchor="middle" font-size="8.2" letter-spacing="0.45" fill="#4D4D4D">35_39</text>
<text transform="translate(353.18,348.50) rotate(-90)" text-anchor="middle" font-size="8.2" letter-spacing="0.45" fill="#4D4D4D">40_44</text>
<text transform="translate(363.54,348.50) rotate(-90)" text-anchor="middle" font-size="8.2" letter-spacing="0.45" fill="#4D4D4D">45_49</text>
<text transform="translate(373.90,348.50) rotate(-90)" text-anchor="middle" font-size="8.2" letter-spacing="0.45" fill="#4D4D4D">50_54</text>
<text transform="translate(384.26,348.50) rotate(-90)" text-anchor="middle" font-size="8.2" letter-spacing="0.45" fill="#4D4D4D">55_59</text>
<text transform="translate(394.62,348.50) rotate(-90)" text-anchor="middle" font-size="8.2" letter-spacing="0.45" fill="#4D4D4D">60_64</text>
<text transform="translate(404.98,348.50) rotate(-90)" text-anchor="middle" font-size="8.2" letter-spacing="0.45" fill="#4D4D4D">65_69</text>
<text transform="translate(415.34,348.50) rotate(-90)" text-anchor="middle" font-size="8.2" letter-spacing="0.45" fill="#4D4D4D">70_74</text>
<text transform="translate(425.70,348.50) rotate(-90)" text-anchor="middle" font-size="8.2" letter-spacing="0.45" fill="#4D4D4D">75_79</text>
<text transform="translate(436.06,348.50) rotate(-90)" text-anchor="middle" font-size="8.2" letter-spacing="0.45" fill="#4D4D4D">80_84</text>
<text transform="translate(446.42,348.50) rotate(-90)" text-anchor="middle" font-size="8.2" letter-spacing="0.45" fill="#4D4D4D">85_89</text>
<text transform="translate(456.78,348.50) rotate(-90)" text-anchor="middle" font-size="8.2" letter-spacing="0.45" fill="#4D4D4D">90_94</text>
<text transform="translate(467.14,348.50) rotate(-90)" text-anchor="middle" font-size="8.2" letter-spacing="0.45" fill="#4D4D4D">95+</text>
<line x1="476.28" x2="685.56" y1="319.46" y2="319.46" stroke="#EBEBEB" stroke-width="1.0"/>
<line x1="476.28" x2="685.56" y1="303.99" y2="303.99" stroke="#EBEBEB" stroke-width="1.0"/>
<line x1="476.28" x2="685.56" y1="288.51" y2="288.51" stroke="#EBEBEB" stroke-width="1.0"/>
<line x1="476.28" x2="685.56" y1="273.04" y2="273.04" stroke="#EBEBEB" stroke-width="1.0"/>
<line x1="476.28" x2="685.56" y1="327.20" y2="327.20" stroke="#EBEBEB" stroke-width="1.0"/>
<line x1="476.28" x2="685.56" y1="311.72" y2="311.72" stroke="#EBEBEB" stroke-width="1.0"/>
<line x1="476.28" x2="685.56" y1="296.25" y2="296.25" stroke="#EBEBEB" stroke-width="1.0"/>
<line x1="476.28" x2="685.56" y1="280.77" y2="280.77" stroke="#EBEBEB" stroke-width="1.0"/>
<line x1="476.28" x2="685.56" y1="265.30" y2="265.30" stroke="#EBEBEB" stroke-width="1.0"/>
<line x1="482.50" x2="482.50" y1="259.20" y2="330.40" stroke="#EBEBEB" stroke-width="1.0"/>
<line x1="492.86" x2="492.86" y1="259.20" y2="330.40" stroke="#EBEBEB" stroke-width="1.0"/>
<line x1="503.22" x2="503.22" y1="259.20" y2="330.40" stroke="#EBEBEB" stroke-width="1.0"/>
<line x1="513.58" x2="513.58" y1="259.20" y2="330.40" stroke="#EBEBEB" stroke-width="1.0"/>
<line x1="523.94" x2="523.94" y1="259.20" y2="330.40" stroke="#EBEBEB" stroke-width="1.0"/>
<line x1="534.30" x2="534.30" y1="259.20" y2="330.40" stroke="#EBEBEB" stroke-width="1.0"/>
<line x1="544.66" x2="544.66" y1="259.20" y2="330.40" stroke="#EBEBEB" stroke-width="1.0"/>
<line x1="555.02" x2="555.02" y1="259.20" y2="330.40" stroke="#EBEBEB" stroke-width="1.0"/>
<line x1="565.38" x2="565.38" y1="259.20" y2="330.40" stroke="#EBEBEB" stroke-width="1.0"/>
<line x1="575.74" x2="575.74" y1="259.20" y2="330.40" stroke="#EBEBEB" stroke-width="1.0"/>
<line x1="586.10" x2="586.10" y1="259.20" y2="330.40" stroke="#EBEBEB" stroke-width="1.0"/>
<line x1="596.46" x2="596.46" y1="259.20" y2="330.40" stroke="#EBEBEB" stroke-width="1.0"/>
<line x1="606.82" x2="606.82" y1="259.20" y2="330.40" stroke="#EBEBEB" stroke-width="1.0"/>
<line x1="617.18" x2="617.18" y1="259.20" y2="330.40" stroke="#EBEBEB" stroke-width="1.0"/>
<line x1="627.54" x2="627.54" y1="259.20" y2="330.40" stroke="#EBEBEB" stroke-width="1.0"/>
<line x1="637.90" x2="637.90" y1="259.20" y2="330.40" stroke="#EBEBEB" stroke-width="1.0"/>
<line x1="648.26" x2="648.26" y1="259.20" y2="330.40" stroke="#EBEBEB" stroke-width="1.0"/>
<line x1="658.62" x2="658.62" y1="259.20" y2="330.40" stroke="#EBEBEB" stroke-width="1.0"/>
<line x1="668.98" x2="668.98" y1="259.20" y2="330.40" stroke="#EBEBEB" stroke-width="1.0"/>
<line x1="679.34" x2="679.34" y1="259.20" y2="330.40" stroke="#EBEBEB" stroke-width="1.0"/>
<rect x="478.85" y="319.20" width="3.2" height="8.00" fill="#E94849"/>
<rect x="482.95" y="320.00" width="3.2" height="7.20" fill="#5F98C6"/>
<rect x="489.21" y="313.00" width="3.2" height="14.20" fill="#E94849"/>
<rect x="493.31" y="315.40" width="3.2" height="11.80" fill="#5F98C6"/>
<rect x="499.57" y="310.80" width="3.2" height="16.40" fill="#E94849"/>
<rect x="503.67" y="310.00" width="3.2" height="17.20" fill="#5F98C6"/>
<rect x="509.93" y="313.40" width="3.2" height="13.80" fill="#E94849"/>
<rect x="514.03" y="307.40" width="3.2" height="19.80" fill="#5F98C6"/>
<rect x="520.29" y="313.90" width="3.2" height="13.30" fill="#E94849"/>
<rect x="524.39" y="306.20" width="3.2" height="21.00" fill="#5F98C6"/>
<rect x="530.65" y="311.40" width="3.2" height="15.80" fill="#E94849"/>
<rect x="534.75" y="305.00" width="3.2" height="22.20" fill="#5F98C6"/>
<rect x="541.01" y="305.80" width="3.2" height="21.40" fill="#E94849"/>
<rect x="545.11" y="304.50" width="3.2" height="22.70" fill="#5F98C6"/>
<rect x="551.37" y="298.50" width="3.2" height="28.70" fill="#E94849"/>
<rect x="555.47" y="303.80" width="3.2" height="23.40" fill="#5F98C6"/>
<rect x="561.73" y="288.60" width="3.2" height="38.60" fill="#E94849"/>
<rect x="565.83" y="300.10" width="3.2" height="27.10" fill="#5F98C6"/>
<rect x="572.09" y="280.90" width="3.2" height="46.30" fill="#E94849"/>
<rect x="576.19" y="299.60" width="3.2" height="27.60" fill="#5F98C6"/>
<rect x="582.45" y="278.20" width="3.2" height="49.00" fill="#E94849"/>
<rect x="586.55" y="295.80" width="3.2" height="31.40" fill="#5F98C6"/>
<rect x="592.81" y="280.90" width="3.2" height="46.30" fill="#E94849"/>
<rect x="596.91" y="287.40" width="3.2" height="39.80" fill="#5F98C6"/>
<rect x="603.17" y="282.00" width="3.2" height="45.20" fill="#E94849"/>
<rect x="607.27" y="281.20" width="3.2" height="46.00" fill="#5F98C6"/>
<rect x="613.53" y="286.30" width="3.2" height="40.90" fill="#E94849"/>
<rect x="617.63" y="280.80" width="3.2" height="46.40" fill="#5F98C6"/>
<rect x="623.89" y="292.40" width="3.2" height="34.80" fill="#E94849"/>
<rect x="627.99" y="284.80" width="3.2" height="42.40" fill="#5F98C6"/>
<rect x="634.25" y="298.10" width="3.2" height="29.10" fill="#E94849"/>
<rect x="638.35" y="295.00" width="3.2" height="32.20" fill="#5F98C6"/>
<rect x="644.61" y="303.10" width="3.2" height="24.10" fill="#E94849"/>
<rect x="648.71" y="306.10" width="3.2" height="21.10" fill="#5F98C6"/>
<rect x="654.97" y="303.80" width="3.2" height="23.40" fill="#E94849"/>
<rect x="659.07" y="311.40" width="3.2" height="15.80" fill="#5F98C6"/>
<rect x="665.33" y="301.20" width="3.2" height="26.00" fill="#E94849"/>
<rect x="669.43" y="311.40" width="3.2" height="15.80" fill="#5F98C6"/>
<rect x="675.69" y="298.10" width="3.2" height="29.10" fill="#E94849"/>
<rect x="679.79" y="306.80" width="3.2" height="20.40" fill="#5F98C6"/>
<polyline points="482.50,316.39 484.99,316.36 487.48,316.30 489.97,316.20 492.47,316.06 494.96,315.87 497.45,315.63 499.94,315.35 502.43,315.02 504.92,314.63 507.42,314.19 509.91,313.69 512.40,313.14 514.89,312.55 517.38,311.93 519.87,311.27 522.37,310.59 524.86,309.88 527.35,309.09 529.84,308.22 532.33,307.27 534.82,306.27 537.32,305.20 539.81,304.10 542.30,302.96 544.79,301.79 547.28,300.62 549.77,299.43 552.27,298.26 554.76,297.10 557.25,295.81 559.74,294.25 562.23,292.50 564.72,290.67 567.22,288.85 569.71,287.16 572.20,285.68 574.69,284.52 577.18,283.72 579.67,283.07 582.17,282.53 584.66,282.11 587.15,281.79 589.64,281.58 592.13,281.47 594.62,281.45 597.12,281.53 599.61,281.71 602.10,281.97 604.59,282.31 607.08,282.74 609.57,283.37 612.07,284.26 614.56,285.30 617.05,286.45 619.54,287.62 622.03,288.73 624.52,289.72 627.02,290.50 629.51,291.13 632.00,291.78 634.49,292.46 636.98,293.16 639.47,293.88 641.97,294.61 644.46,295.34 646.95,296.07 649.44,296.79 651.93,297.49 654.42,298.17 656.92,298.82 659.41,299.43 661.90,300.01 664.39,300.57 666.88,301.11 669.37,301.63 671.87,302.14 674.36,302.65 676.85,303.14 679.34,303.63" fill="none" stroke="#E41A1C" stroke-opacity="0.85" stroke-width="1.0" stroke-linejoin="round" shape-rendering="crispEdges"/>
<polyline points="482.50,317.68 484.99,317.01 487.48,316.34 489.97,315.69 492.47,315.04 494.96,314.40 497.45,313.78 499.94,313.17 502.43,312.57 504.92,311.99 507.42,311.44 509.91,310.89 512.40,310.36 514.89,309.84 517.38,309.33 519.87,308.81 522.37,308.29 524.86,307.76 527.35,307.28 529.84,306.86 532.33,306.48 534.82,306.14 537.32,305.81 539.81,305.50 542.30,305.18 544.79,304.85 547.28,304.49 549.77,304.10 552.27,303.65 554.76,303.15 557.25,302.57 559.74,301.91 562.23,301.19 564.72,300.42 567.22,299.62 569.71,298.82 572.20,298.02 574.69,297.26 577.18,296.49 579.67,295.55 582.17,294.45 584.66,293.24 587.15,291.96 589.64,290.66 592.13,289.39 594.62,288.19 597.12,287.10 599.61,286.17 602.10,285.44 604.59,284.97 607.08,284.79 609.57,284.89 612.07,285.22 614.56,285.73 617.05,286.37 619.54,287.09 622.03,287.85 624.52,288.59 627.02,289.27 629.51,289.90 632.00,290.62 634.49,291.41 636.98,292.28 639.47,293.22 641.97,294.23 644.46,295.31 646.95,296.45 649.44,297.65 651.93,298.91 654.42,300.22 656.92,301.58 659.41,302.99 661.90,304.45 664.39,305.96 666.88,307.53 669.37,309.15 671.87,310.82 674.36,312.56 676.85,314.35 679.34,316.21" fill="none" stroke="#377EB8" stroke-opacity="0.85" stroke-width="1.0" stroke-linejoin="round" shape-rendering="crispEdges"/>
<text transform="translate(580.32,252.80) scale(1,1.12)" text-anchor="middle" font-size="11.4" fill="#1A1A1A">Yemen</text>
<text transform="translate(486.40,348.50) rotate(-90)" text-anchor="middle" font-size="8.2" letter-spacing="0.45" fill="#4D4D4D">0_4</text>
<text transform="translate(496.76,348.50) rotate(-90)" text-anchor="middle" font-size="8.2" letter-spacing="0.45" fill="#4D4D4D">5_9</text>
<text transform="translate(507.12,348.50) rotate(-90)" text-anchor="middle" font-size="8.2" letter-spacing="0.45" fill="#4D4D4D">10_14</text>
<text transform="translate(517.48,348.50) rotate(-90)" text-anchor="middle" font-size="8.2" letter-spacing="0.45" fill="#4D4D4D">15_19</text>
<text transform="translate(527.84,348.50) rotate(-90)" text-anchor="middle" font-size="8.2" letter-spacing="0.45" fill="#4D4D4D">20_24</text>
<text transform="translate(538.20,348.50) rotate(-90)" text-anchor="middle" font-size="8.2" letter-spacing="0.45" fill="#4D4D4D">25_29</text>
<text transform="translate(548.56,348.50) rotate(-90)" text-anchor="middle" font-size="8.2" letter-spacing="0.45" fill="#4D4D4D">30_34</text>
<text transform="translate(558.92,348.50) rotate(-90)" text-anchor="middle" font-size="8.2" letter-spacing="0.45" fill="#4D4D4D">35_39</text>
<text transform="translate(569.28,348.50) rotate(-90)" text-anchor="middle" font-size="8.2" letter-spacing="0.45" fill="#4D4D4D">40_44</text>
<text transform="translate(579.64,348.50) rotate(-90)" text-anchor="middle" font-size="8.2" letter-spacing="0.45" fill="#4D4D4D">45_49</text>
<text transform="translate(590.00,348.50) rotate(-90)" text-anchor="middle" font-size="8.2" letter-spacing="0.45" fill="#4D4D4D">50_54</text>
<text transform="translate(600.36,348.50) rotate(-90)" text-anchor="middle" font-size="8.2" letter-spacing="0.45" fill="#4D4D4D">55_59</text>
<text transform="translate(610.72,348.50) rotate(-90)" text-anchor="middle" font-size="8.2" letter-spacing="0.45" fill="#4D4D4D">60_64</text>
<text transform="translate(621.08,348.50) rotate(-90)" text-anchor="middle" font-size="8.2" letter-spacing="0.45" fill="#4D4D4D">65_69</text>
<text transform="translate(631.44,348.50) rotate(-90)" text-anchor="middle" font-size="8.2" letter-spacing="0.45" fill="#4D4D4D">70_74</text>
<text transform="translate(641.80,348.50) rotate(-90)" text-anchor="middle" font-size="8.2" letter-spacing="0.45" fill="#4D4D4D">75_79</text>
<text transform="translate(652.16,348.50) rotate(-90)" text-anchor="middle" font-size="8.2" letter-spacing="0.45" fill="#4D4D4D">80_84</text>
<text transform="translate(662.52,348.50) rotate(-90)" text-anchor="middle" font-size="8.2" letter-spacing="0.45" fill="#4D4D4D">85_89</text>
<text transform="translate(672.88,348.50) rotate(-90)" text-anchor="middle" font-size="8.2" letter-spacing="0.45" fill="#4D4D4D">90_94</text>
<text transform="translate(683.24,348.50) rotate(-90)" text-anchor="middle" font-size="8.2" letter-spacing="0.45" fill="#4D4D4D">95+</text>
<text transform="translate(17.4,193.85) rotate(-90)" text-anchor="middle" font-size="11.5" fill="#1A1A1A">Incidence Rate per 100,000 Population</text>
<text x="363.7" y="374" text-anchor="middle" font-size="11.5" fill="#1A1A1A">Age Groups (years)</text>
<text x="284.00" y="415.90" font-size="13.7" fill="#000">Sex</text>
<rect x="316.00" y="399.10" width="20.8" height="20.7" fill="#E94849"/>
<line x1="316.00" x2="336.80" y1="410.30" y2="410.30" stroke="#E41A1C" stroke-width="1.5" stroke-opacity="0.55"/>
<text x="344.80" y="415.00" font-size="11.4" fill="#1A1A1A">Female</text>
<rect x="391.80" y="399.10" width="20.8" height="20.7" fill="#5F98C6"/>
<line x1="391.80" x2="412.60" y1="410.30" y2="410.30" stroke="#377EB8" stroke-width="1.5" stroke-opacity="0.55"/>
<text x="420.60" y="415.00" font-size="11.4" fill="#1A1A1A">Male</text>
<text x="-0.3" y="447.2" font-size="12" font-weight="bold" fill="#000">B)</text>
<line x1="37.33" x2="248.42" y1="551.12" y2="551.12" stroke="#EBEBEB" stroke-width="1.0"/>
<line x1="37.33" x2="248.42" y1="530.54" y2="530.54" stroke="#EBEBEB" stroke-width="1.0"/>
<line x1="37.33" x2="248.42" y1="509.97" y2="509.97" stroke="#EBEBEB" stroke-width="1.0"/>
<line x1="37.33" x2="248.42" y1="561.40" y2="561.40" stroke="#EBEBEB" stroke-width="1.0"/>
<line x1="37.33" x2="248.42" y1="540.83" y2="540.83" stroke="#EBEBEB" stroke-width="1.0"/>
<line x1="37.33" x2="248.42" y1="520.26" y2="520.26" stroke="#EBEBEB" stroke-width="1.0"/>
<line x1="37.33" x2="248.42" y1="499.69" y2="499.69" stroke="#EBEBEB" stroke-width="1.0"/>
<line x1="43.60" x2="43.60" y1="493.10" y2="564.60" stroke="#EBEBEB" stroke-width="1.0"/>
<line x1="54.05" x2="54.05" y1="493.10" y2="564.60" stroke="#EBEBEB" stroke-width="1.0"/>
<line x1="64.50" x2="64.50" y1="493.10" y2="564.60" stroke="#EBEBEB" stroke-width="1.0"/>
<line x1="74.95" x2="74.95" y1="493.10" y2="564.60" stroke="#EBEBEB" stroke-width="1.0"/>
<line x1="85.40" x2="85.40" y1="493.10" y2="564.60" stroke="#EBEBEB" stroke-width="1.0"/>
<line x1="95.85" x2="95.85" y1="493.10" y2="564.60" stroke="#EBEBEB" stroke-width="1.0"/>
<line x1="106.30" x2="106.30" y1="493.10" y2="564.60" stroke="#EBEBEB" stroke-width="1.0"/>
<line x1="116.75" x2="116.75" y1="493.10" y2="564.60" stroke="#EBEBEB" stroke-width="1.0"/>
<line x1="127.20" x2="127.20" y1="493.10" y2="564.60" stroke="#EBEBEB" stroke-width="1.0"/>
<line x1="137.65" x2="137.65" y1="493.10" y2="564.60" stroke="#EBEBEB" stroke-width="1.0"/>
<line x1="148.10" x2="148.10" y1="493.10" y2="564.60" stroke="#EBEBEB" stroke-width="1.0"/>
<line x1="158.55" x2="158.55" y1="493.10" y2="564.60" stroke="#EBEBEB" stroke-width="1.0"/>
<line x1="169.00" x2="169.00" y1="493.10" y2="564.60" stroke="#EBEBEB" stroke-width="1.0"/>
<line x1="179.45" x2="179.45" y1="493.10" y2="564.60" stroke="#EBEBEB" stroke-width="1.0"/>
<line x1="189.90" x2="189.90" y1="493.10" y2="564.60" stroke="#EBEBEB" stroke-width="1.0"/>
<line x1="200.35" x2="200.35" y1="493.10" y2="564.60" stroke="#EBEBEB" stroke-width="1.0"/>
<line x1="210.80" x2="210.80" y1="493.10" y2="564.60" stroke="#EBEBEB" stroke-width="1.0"/>
<line x1="221.25" x2="221.25" y1="493.10" y2="564.60" stroke="#EBEBEB" stroke-width="1.0"/>
<line x1="231.70" x2="231.70" y1="493.10" y2="564.60" stroke="#EBEBEB" stroke-width="1.0"/>
<line x1="242.15" x2="242.15" y1="493.10" y2="564.60" stroke="#EBEBEB" stroke-width="1.0"/>
<rect x="39.95" y="553.10" width="3.2" height="8.30" fill="#E94849"/>
<rect x="44.05" y="553.10" width="3.2" height="8.30" fill="#5F98C6"/>
<rect x="50.40" y="546.80" width="3.2" height="14.60" fill="#E94849"/>
<rect x="54.50" y="548.80" width="3.2" height="12.60" fill="#5F98C6"/>
<rect x="60.85" y="542.10" width="3.2" height="19.30" fill="#E94849"/>
<rect x="64.95" y="542.10" width="3.2" height="19.30" fill="#5F98C6"/>
<rect x="71.30" y="542.10" width="3.2" height="19.30" fill="#E94849"/>
<rect x="75.40" y="538.10" width="3.2" height="23.30" fill="#5F98C6"/>
<rect x="81.75" y="541.10" width="3.2" height="20.30" fill="#E94849"/>
<rect x="85.85" y="535.30" width="3.2" height="26.10" fill="#5F98C6"/>
<rect x="92.20" y="536.20" width="3.2" height="25.20" fill="#E94849"/>
<rect x="96.30" y="533.50" width="3.2" height="27.90" fill="#5F98C6"/>
<rect x="102.65" y="530.10" width="3.2" height="31.30" fill="#E94849"/>
<rect x="106.75" y="533.20" width="3.2" height="28.20" fill="#5F98C6"/>
<rect x="113.10" y="519.40" width="3.2" height="42.00" fill="#E94849"/>
<rect x="117.20" y="532.30" width="3.2" height="29.10" fill="#5F98C6"/>
<rect x="123.55" y="509.00" width="3.2" height="52.40" fill="#E94849"/>
<rect x="127.65" y="528.60" width="3.2" height="32.80" fill="#5F98C6"/>
<rect x="134.00" y="498.50" width="3.2" height="62.90" fill="#E94849"/>
<rect x="138.10" y="526.10" width="3.2" height="35.30" fill="#5F98C6"/>
<rect x="144.45" y="496.40" width="3.2" height="65.00" fill="#E94849"/>
<rect x="148.55" y="523.20" width="3.2" height="38.20" fill="#5F98C6"/>
<rect x="154.90" y="500.10" width="3.2" height="61.30" fill="#E94849"/>
<rect x="159.00" y="513.60" width="3.2" height="47.80" fill="#5F98C6"/>
<rect x="165.35" y="502.10" width="3.2" height="59.30" fill="#E94849"/>
<rect x="169.45" y="505.90" width="3.2" height="55.50" fill="#5F98C6"/>
<rect x="175.80" y="507.70" width="3.2" height="53.70" fill="#E94849"/>
<rect x="179.90" y="505.90" width="3.2" height="55.50" fill="#5F98C6"/>
<rect x="186.25" y="515.90" width="3.2" height="45.50" fill="#E94849"/>
<rect x="190.35" y="511.30" width="3.2" height="50.10" fill="#5F98C6"/>
<rect x="196.70" y="523.20" width="3.2" height="38.20" fill="#E94849"/>
<rect x="200.80" y="523.20" width="3.2" height="38.20" fill="#5F98C6"/>
<rect x="207.15" y="528.90" width="3.2" height="32.50" fill="#E94849"/>
<rect x="211.25" y="535.00" width="3.2" height="26.40" fill="#5F98C6"/>
<rect x="217.60" y="528.90" width="3.2" height="32.50" fill="#E94849"/>
<rect x="221.70" y="541.90" width="3.2" height="19.50" fill="#5F98C6"/>
<rect x="228.05" y="526.60" width="3.2" height="34.80" fill="#E94849"/>
<rect x="232.15" y="541.10" width="3.2" height="20.30" fill="#5F98C6"/>
<rect x="238.50" y="523.20" width="3.2" height="38.20" fill="#E94849"/>
<rect x="242.60" y="535.00" width="3.2" height="26.40" fill="#5F98C6"/>
<polyline points="43.60,551.47 46.11,550.90 48.63,550.30 51.14,549.66 53.65,548.99 56.17,548.28 58.68,547.53 61.19,546.73 63.71,545.89 66.22,545.01 68.73,544.06 71.25,543.06 73.76,542.02 76.27,540.95 78.79,539.84 81.30,538.71 83.81,537.57 86.33,536.41 88.84,535.17 91.35,533.83 93.87,532.42 96.38,530.94 98.89,529.41 101.41,527.85 103.92,526.26 106.43,524.66 108.95,523.06 111.46,521.48 113.97,519.94 116.49,518.43 119.00,516.82 121.51,514.90 124.03,512.80 126.54,510.63 129.05,508.50 131.57,506.52 134.08,504.80 136.59,503.46 139.11,502.55 141.62,501.84 144.13,501.29 146.64,500.90 149.16,500.66 151.67,500.55 154.18,500.58 156.70,500.73 159.21,500.99 161.72,501.35 164.24,501.81 166.75,502.36 169.26,502.99 171.78,503.86 174.29,505.03 176.80,506.40 179.32,507.88 181.83,509.39 184.34,510.83 186.86,512.10 189.37,513.13 191.88,513.95 194.40,514.80 196.91,515.68 199.42,516.59 201.94,517.52 204.45,518.45 206.96,519.38 209.48,520.31 211.99,521.21 214.50,522.09 217.02,522.94 219.53,523.74 222.04,524.50 224.56,525.22 227.07,525.90 229.58,526.56 232.10,527.20 234.61,527.81 237.12,528.41 239.64,528.99 242.15,529.57" fill="none" stroke="#E41A1C" stroke-opacity="0.85" stroke-width="1.0" stroke-linejoin="round" shape-rendering="crispEdges"/>
<polyline points="43.60,551.35 46.11,550.41 48.63,549.49 51.14,548.58 53.65,547.68 56.17,546.80 58.68,545.94 61.19,545.09 63.71,544.27 66.22,543.47 68.73,542.70 71.25,541.95 73.76,541.21 76.27,540.49 78.79,539.78 81.30,539.08 83.81,538.37 86.33,537.66 88.84,537.01 91.35,536.42 93.87,535.88 96.38,535.39 98.89,534.92 101.41,534.46 103.92,534.01 106.43,533.54 108.95,533.06 111.46,532.53 113.97,531.97 116.49,531.34 119.00,530.64 121.51,529.86 124.03,529.01 126.54,528.13 129.05,527.22 131.57,526.31 134.08,525.40 136.59,524.52 139.11,523.64 141.62,522.56 144.13,521.31 146.64,519.94 149.16,518.49 151.67,517.02 154.18,515.59 156.70,514.23 159.21,513.01 161.72,511.97 164.24,511.17 166.75,510.65 169.26,510.47 171.78,510.63 174.29,511.06 176.80,511.70 179.32,512.49 181.83,513.38 184.34,514.29 186.86,515.18 189.37,515.98 191.88,516.72 194.40,517.54 196.91,518.46 199.42,519.46 201.94,520.54 204.45,521.69 206.96,522.92 209.48,524.22 211.99,525.58 214.50,527.00 217.02,528.48 219.53,530.01 222.04,531.59 224.56,533.22 227.07,534.90 229.58,536.64 232.10,538.44 234.61,540.29 237.12,542.21 239.64,544.20 242.15,546.25" fill="none" stroke="#377EB8" stroke-opacity="0.85" stroke-width="1.0" stroke-linejoin="round" shape-rendering="crispEdges"/>
<text transform="translate(142.97,486.70) scale(1,1.12)" text-anchor="middle" font-size="11.4" fill="#1A1A1A">Afghanistan</text>
<text transform="translate(30.00,564.70) scale(1,1.09)" text-anchor="end" font-size="8.1" fill="#4D4D4D">0</text>
<text transform="translate(30.00,544.13) scale(1,1.09)" text-anchor="end" font-size="8.1" fill="#4D4D4D">10</text>
<text transform="translate(30.00,523.56) scale(1,1.09)" text-anchor="end" font-size="8.1" fill="#4D4D4D">20</text>
<text transform="translate(30.00,502.99) scale(1,1.09)" text-anchor="end" font-size="8.1" fill="#4D4D4D">30</text>
<line x1="256.03" x2="467.12" y1="551.12" y2="551.12" stroke="#EBEBEB" stroke-width="1.0"/>
<line x1="256.03" x2="467.12" y1="530.54" y2="530.54" stroke="#EBEBEB" stroke-width="1.0"/>
<line x1="256.03" x2="467.12" y1="509.97" y2="509.97" stroke="#EBEBEB" stroke-width="1.0"/>
<line x1="256.03" x2="467.12" y1="561.40" y2="561.40" stroke="#EBEBEB" stroke-width="1.0"/>
<line x1="256.03" x2="467.12" y1="540.83" y2="540.83" stroke="#EBEBEB" stroke-width="1.0"/>
<line x1="256.03" x2="467.12" y1="520.26" y2="520.26" stroke="#EBEBEB" stroke-width="1.0"/>
<line x1="256.03" x2="467.12" y1="499.69" y2="499.69" stroke="#EBEBEB" stroke-width="1.0"/>
<line x1="262.30" x2="262.30" y1="493.10" y2="564.60" stroke="#EBEBEB" stroke-width="1.0"/>
<line x1="272.75" x2="272.75" y1="493.10" y2="564.60" stroke="#EBEBEB" stroke-width="1.0"/>
<line x1="283.20" x2="283.20" y1="493.10" y2="564.60" stroke="#EBEBEB" stroke-width="1.0"/>
<line x1="293.65" x2="293.65" y1="493.10" y2="564.60" stroke="#EBEBEB" stroke-width="1.0"/>
<line x1="304.10" x2="304.10" y1="493.10" y2="564.60" stroke="#EBEBEB" stroke-width="1.0"/>
<line x1="314.55" x2="314.55" y1="493.10" y2="564.60" stroke="#EBEBEB" stroke-width="1.0"/>
<line x1="325.00" x2="325.00" y1="493.10" y2="564.60" stroke="#EBEBEB" stroke-width="1.0"/>
<line x1="335.45" x2="335.45" y1="493.10" y2="564.60" stroke="#EBEBEB" stroke-width="1.0"/>
<line x1="345.90" x2="345.90" y1="493.10" y2="564.60" stroke="#EBEBEB" stroke-width="1.0"/>
<line x1="356.35" x2="356.35" y1="493.10" y2="564.60" stroke="#EBEBEB" stroke-width="1.0"/>
<line x1="366.80" x2="366.80" y1="493.10" y2="564.60" stroke="#EBEBEB" stroke-width="1.0"/>
<line x1="377.25" x2="377.25" y1="493.10" y2="564.60" stroke="#EBEBEB" stroke-width="1.0"/>
<line x1="387.70" x2="387.70" y1="493.10" y2="564.60" stroke="#EBEBEB" stroke-width="1.0"/>
<line x1="398.15" x2="398.15" y1="493.10" y2="564.60" stroke="#EBEBEB" stroke-width="1.0"/>
<line x1="408.60" x2="408.60" y1="493.10" y2="564.60" stroke="#EBEBEB" stroke-width="1.0"/>
<line x1="419.05" x2="419.05" y1="493.10" y2="564.60" stroke="#EBEBEB" stroke-width="1.0"/>
<line x1="429.50" x2="429.50" y1="493.10" y2="564.60" stroke="#EBEBEB" stroke-width="1.0"/>
<line x1="439.95" x2="439.95" y1="493.10" y2="564.60" stroke="#EBEBEB" stroke-width="1.0"/>
<line x1="450.40" x2="450.40" y1="493.10" y2="564.60" stroke="#EBEBEB" stroke-width="1.0"/>
<line x1="460.85" x2="460.85" y1="493.10" y2="564.60" stroke="#EBEBEB" stroke-width="1.0"/>
<rect x="258.65" y="553.10" width="3.2" height="8.30" fill="#E94849"/>
<rect x="262.75" y="553.10" width="3.2" height="8.30" fill="#5F98C6"/>
<rect x="269.10" y="544.50" width="3.2" height="16.90" fill="#E94849"/>
<rect x="273.20" y="546.50" width="3.2" height="14.90" fill="#5F98C6"/>
<rect x="279.55" y="543.00" width="3.2" height="18.40" fill="#E94849"/>
<rect x="283.65" y="542.10" width="3.2" height="19.30" fill="#5F98C6"/>
<rect x="290.00" y="545.00" width="3.2" height="16.40" fill="#E94849"/>
<rect x="294.10" y="540.40" width="3.2" height="21.00" fill="#5F98C6"/>
<rect x="300.45" y="545.70" width="3.2" height="15.70" fill="#E94849"/>
<rect x="304.55" y="540.80" width="3.2" height="20.60" fill="#5F98C6"/>
<rect x="310.90" y="543.90" width="3.2" height="17.50" fill="#E94849"/>
<rect x="315.00" y="541.10" width="3.2" height="20.30" fill="#5F98C6"/>
<rect x="321.35" y="539.30" width="3.2" height="22.10" fill="#E94849"/>
<rect x="325.45" y="541.50" width="3.2" height="19.90" fill="#5F98C6"/>
<rect x="331.80" y="532.30" width="3.2" height="29.10" fill="#E94849"/>
<rect x="335.90" y="542.70" width="3.2" height="18.70" fill="#5F98C6"/>
<rect x="342.25" y="525.50" width="3.2" height="35.90" fill="#E94849"/>
<rect x="346.35" y="542.70" width="3.2" height="18.70" fill="#5F98C6"/>
<rect x="352.70" y="519.40" width="3.2" height="42.00" fill="#E94849"/>
<rect x="356.80" y="543.90" width="3.2" height="17.50" fill="#5F98C6"/>
<rect x="363.15" y="516.30" width="3.2" height="45.10" fill="#E94849"/>
<rect x="367.25" y="541.50" width="3.2" height="19.90" fill="#5F98C6"/>
<rect x="373.60" y="518.20" width="3.2" height="43.20" fill="#E94849"/>
<rect x="377.70" y="540.50" width="3.2" height="20.90" fill="#5F98C6"/>
<rect x="384.05" y="515.40" width="3.2" height="46.00" fill="#E94849"/>
<rect x="388.15" y="540.20" width="3.2" height="21.20" fill="#5F98C6"/>
<rect x="394.50" y="518.90" width="3.2" height="42.50" fill="#E94849"/>
<rect x="398.60" y="541.50" width="3.2" height="19.90" fill="#5F98C6"/>
<rect x="404.95" y="524.00" width="3.2" height="37.40" fill="#E94849"/>
<rect x="409.05" y="544.50" width="3.2" height="16.90" fill="#5F98C6"/>
<rect x="415.40" y="529.30" width="3.2" height="32.10" fill="#E94849"/>
<rect x="419.50" y="549.10" width="3.2" height="12.30" fill="#5F98C6"/>
<rect x="425.85" y="534.10" width="3.2" height="27.30" fill="#E94849"/>
<rect x="429.95" y="554.20" width="3.2" height="7.20" fill="#5F98C6"/>
<rect x="436.30" y="531.20" width="3.2" height="30.20" fill="#E94849"/>
<rect x="440.40" y="555.60" width="3.2" height="5.80" fill="#5F98C6"/>
<rect x="446.75" y="528.90" width="3.2" height="32.50" fill="#E94849"/>
<rect x="450.85" y="554.90" width="3.2" height="6.50" fill="#5F98C6"/>
<rect x="457.20" y="525.40" width="3.2" height="36.00" fill="#E94849"/>
<rect x="461.30" y="554.00" width="3.2" height="7.40" fill="#5F98C6"/>
<polyline points="262.30,549.15 264.81,549.01 267.33,548.84 269.84,548.64 272.35,548.42 274.87,548.16 277.38,547.87 279.89,547.55 282.41,547.20 284.92,546.81 287.43,546.38 289.95,545.91 292.46,545.41 294.97,544.88 297.49,544.32 300.00,543.74 302.51,543.14 305.03,542.52 307.54,541.85 310.05,541.14 312.57,540.38 315.08,539.59 317.59,538.75 320.11,537.89 322.62,537.00 325.13,536.09 327.65,535.16 330.16,534.21 332.67,533.25 335.19,532.29 337.70,531.22 340.21,529.91 342.73,528.46 345.24,526.93 347.75,525.40 350.27,523.96 352.78,522.69 355.29,521.65 357.81,520.88 360.32,520.21 362.83,519.60 365.34,519.06 367.86,518.60 370.37,518.21 372.88,517.89 375.40,517.66 377.91,517.50 380.42,517.42 382.94,517.43 385.45,517.53 387.96,517.72 390.48,518.09 392.99,518.67 395.50,519.40 398.02,520.21 400.53,521.03 403.04,521.81 405.56,522.48 408.07,522.97 410.58,523.32 413.10,523.70 415.61,524.10 418.12,524.52 420.64,524.95 423.15,525.39 425.66,525.83 428.18,526.26 430.69,526.69 433.20,527.11 435.72,527.50 438.23,527.87 440.74,528.20 443.26,528.52 445.77,528.81 448.28,529.09 450.80,529.35 453.31,529.60 455.82,529.84 458.34,530.08 460.85,530.31" fill="none" stroke="#E41A1C" stroke-opacity="0.85" stroke-width="1.0" stroke-linejoin="round" shape-rendering="crispEdges"/>
<polyline points="262.30,549.99 264.81,549.25 267.33,548.54 269.84,547.86 272.35,547.21 274.87,546.60 277.38,546.02 279.89,545.47 282.41,544.96 284.92,544.49 287.43,544.06 289.95,543.66 292.46,543.30 294.97,542.97 297.49,542.67 300.00,542.38 302.51,542.12 305.03,541.88 307.54,541.70 310.05,541.60 312.57,541.56 315.08,541.57 317.59,541.62 320.11,541.70 322.62,541.80 325.13,541.92 327.65,542.02 330.16,542.12 332.67,542.20 335.19,542.24 337.70,542.25 340.21,542.24 342.73,542.21 345.24,542.18 347.75,542.14 350.27,542.10 352.78,542.07 355.29,542.05 357.81,542.04 360.32,541.98 362.83,541.87 365.34,541.72 367.86,541.57 370.37,541.41 372.88,541.26 375.40,541.14 377.91,541.06 380.42,541.03 382.94,541.07 385.45,541.20 387.96,541.43 390.48,541.77 392.99,542.21 395.50,542.73 398.02,543.29 400.53,543.88 403.04,544.46 405.56,545.00 408.07,545.49 410.58,545.93 413.10,546.40 415.61,546.88 418.12,547.39 420.64,547.91 423.15,548.45 425.66,549.00 428.18,549.56 430.69,550.13 433.20,550.71 435.72,551.30 438.23,551.89 440.74,552.48 443.26,553.07 445.77,553.67 448.28,554.28 450.80,554.89 453.31,555.51 455.82,556.14 458.34,556.78 460.85,557.44" fill="none" stroke="#377EB8" stroke-opacity="0.85" stroke-width="1.0" stroke-linejoin="round" shape-rendering="crispEdges"/>
<text transform="translate(360.78,486.70) scale(1,1.12)" text-anchor="middle" font-size="11.4" fill="#1A1A1A">Egypt</text>
<line x1="474.23" x2="685.32" y1="551.12" y2="551.12" stroke="#EBEBEB" stroke-width="1.0"/>
<line x1="474.23" x2="685.32" y1="530.54" y2="530.54" stroke="#EBEBEB" stroke-width="1.0"/>
<line x1="474.23" x2="685.32" y1="509.97" y2="509.97" stroke="#EBEBEB" stroke-width="1.0"/>
<line x1="474.23" x2="685.32" y1="561.40" y2="561.40" stroke="#EBEBEB" stroke-width="1.0"/>
<line x1="474.23" x2="685.32" y1="540.83" y2="540.83" stroke="#EBEBEB" stroke-width="1.0"/>
<line x1="474.23" x2="685.32" y1="520.26" y2="520.26" stroke="#EBEBEB" stroke-width="1.0"/>
<line x1="474.23" x2="685.32" y1="499.69" y2="499.69" stroke="#EBEBEB" stroke-width="1.0"/>
<line x1="480.50" x2="480.50" y1="493.10" y2="564.60" stroke="#EBEBEB" stroke-width="1.0"/>
<line x1="490.95" x2="490.95" y1="493.10" y2="564.60" stroke="#EBEBEB" stroke-width="1.0"/>
<line x1="501.40" x2="501.40" y1="493.10" y2="564.60" stroke="#EBEBEB" stroke-width="1.0"/>
<line x1="511.85" x2="511.85" y1="493.10" y2="564.60" stroke="#EBEBEB" stroke-width="1.0"/>
<line x1="522.30" x2="522.30" y1="493.10" y2="564.60" stroke="#EBEBEB" stroke-width="1.0"/>
<line x1="532.75" x2="532.75" y1="493.10" y2="564.60" stroke="#EBEBEB" stroke-width="1.0"/>
<line x1="543.20" x2="543.20" y1="493.10" y2="564.60" stroke="#EBEBEB" stroke-width="1.0"/>
<line x1="553.65" x2="553.65" y1="493.10" y2="564.60" stroke="#EBEBEB" stroke-width="1.0"/>
<line x1="564.10" x2="564.10" y1="493.10" y2="564.60" stroke="#EBEBEB" stroke-width="1.0"/>
<line x1="574.55" x2="574.55" y1="493.10" y2="564.60" stroke="#EBEBEB" stroke-width="1.0"/>
<line x1="585.00" x2="585.00" y1="493.10" y2="564.60" stroke="#EBEBEB" stroke-width="1.0"/>
<line x1="595.45" x2="595.45" y1="493.10" y2="564.60" stroke="#EBEBEB" stroke-width="1.0"/>
<line x1="605.90" x2="605.90" y1="493.10" y2="564.60" stroke="#EBEBEB" stroke-width="1.0"/>
<line x1="616.35" x2="616.35" y1="493.10" y2="564.60" stroke="#EBEBEB" stroke-width="1.0"/>
<line x1="626.80" x2="626.80" y1="493.10" y2="564.60" stroke="#EBEBEB" stroke-width="1.0"/>
<line x1="637.25" x2="637.25" y1="493.10" y2="564.60" stroke="#EBEBEB" stroke-width="1.0"/>
<line x1="647.70" x2="647.70" y1="493.10" y2="564.60" stroke="#EBEBEB" stroke-width="1.0"/>
<line x1="658.15" x2="658.15" y1="493.10" y2="564.60" stroke="#EBEBEB" stroke-width="1.0"/>
<line x1="668.60" x2="668.60" y1="493.10" y2="564.60" stroke="#EBEBEB" stroke-width="1.0"/>
<line x1="679.05" x2="679.05" y1="493.10" y2="564.60" stroke="#EBEBEB" stroke-width="1.0"/>
<rect x="476.85" y="554.60" width="3.2" height="6.80" fill="#E94849"/>
<rect x="480.95" y="555.60" width="3.2" height="5.80" fill="#5F98C6"/>
<rect x="487.30" y="549.60" width="3.2" height="11.80" fill="#E94849"/>
<rect x="491.40" y="550.70" width="3.2" height="10.70" fill="#5F98C6"/>
<rect x="497.75" y="546.10" width="3.2" height="15.30" fill="#E94849"/>
<rect x="501.85" y="544.50" width="3.2" height="16.90" fill="#5F98C6"/>
<rect x="508.20" y="545.40" width="3.2" height="16.00" fill="#E94849"/>
<rect x="512.30" y="540.50" width="3.2" height="20.90" fill="#5F98C6"/>
<rect x="518.65" y="544.20" width="3.2" height="17.20" fill="#E94849"/>
<rect x="522.75" y="539.30" width="3.2" height="22.10" fill="#5F98C6"/>
<rect x="529.10" y="544.50" width="3.2" height="16.90" fill="#E94849"/>
<rect x="533.20" y="540.40" width="3.2" height="21.00" fill="#5F98C6"/>
<rect x="539.55" y="541.10" width="3.2" height="20.30" fill="#E94849"/>
<rect x="543.65" y="540.80" width="3.2" height="20.60" fill="#5F98C6"/>
<rect x="550.00" y="535.30" width="3.2" height="26.10" fill="#E94849"/>
<rect x="554.10" y="540.40" width="3.2" height="21.00" fill="#5F98C6"/>
<rect x="560.45" y="531.30" width="3.2" height="30.10" fill="#E94849"/>
<rect x="564.55" y="540.40" width="3.2" height="21.00" fill="#5F98C6"/>
<rect x="570.90" y="528.10" width="3.2" height="33.30" fill="#E94849"/>
<rect x="575.00" y="539.20" width="3.2" height="22.20" fill="#5F98C6"/>
<rect x="581.35" y="525.10" width="3.2" height="36.30" fill="#E94849"/>
<rect x="585.45" y="536.10" width="3.2" height="25.30" fill="#5F98C6"/>
<rect x="591.80" y="525.50" width="3.2" height="35.90" fill="#E94849"/>
<rect x="595.90" y="529.30" width="3.2" height="32.10" fill="#5F98C6"/>
<rect x="602.25" y="524.70" width="3.2" height="36.70" fill="#E94849"/>
<rect x="606.35" y="524.70" width="3.2" height="36.70" fill="#5F98C6"/>
<rect x="612.70" y="526.60" width="3.2" height="34.80" fill="#E94849"/>
<rect x="616.80" y="524.00" width="3.2" height="37.40" fill="#5F98C6"/>
<rect x="623.15" y="530.10" width="3.2" height="31.30" fill="#E94849"/>
<rect x="627.25" y="528.10" width="3.2" height="33.30" fill="#5F98C6"/>
<rect x="633.60" y="533.80" width="3.2" height="27.60" fill="#E94849"/>
<rect x="637.70" y="535.00" width="3.2" height="26.40" fill="#5F98C6"/>
<rect x="644.05" y="536.60" width="3.2" height="24.80" fill="#E94849"/>
<rect x="648.15" y="541.10" width="3.2" height="20.30" fill="#5F98C6"/>
<rect x="654.50" y="536.60" width="3.2" height="24.80" fill="#E94849"/>
<rect x="658.60" y="545.00" width="3.2" height="16.40" fill="#5F98C6"/>
<rect x="664.95" y="533.50" width="3.2" height="27.90" fill="#E94849"/>
<rect x="669.05" y="544.20" width="3.2" height="17.20" fill="#5F98C6"/>
<rect x="675.40" y="529.30" width="3.2" height="32.10" fill="#E94849"/>
<rect x="679.50" y="542.10" width="3.2" height="19.30" fill="#5F98C6"/>
<polyline points="480.50,552.64 483.01,552.18 485.53,551.72 488.04,551.24 490.55,550.76 493.07,550.28 495.58,549.78 498.09,549.27 500.61,548.76 503.12,548.23 505.63,547.69 508.15,547.14 510.66,546.58 513.17,546.01 515.69,545.44 518.20,544.86 520.71,544.27 523.23,543.68 525.74,543.08 528.25,542.47 530.77,541.84 533.28,541.21 535.79,540.56 538.31,539.91 540.82,539.25 543.33,538.58 545.85,537.91 548.36,537.23 550.87,536.56 553.39,535.87 555.90,535.13 558.41,534.24 560.93,533.27 563.44,532.26 565.95,531.25 568.47,530.30 570.98,529.45 573.49,528.76 576.01,528.23 578.52,527.75 581.03,527.32 583.54,526.94 586.06,526.60 588.57,526.31 591.08,526.07 593.60,525.89 596.11,525.76 598.62,525.69 601.14,525.69 603.65,525.74 606.16,525.86 608.68,526.12 611.19,526.53 613.70,527.05 616.22,527.63 618.73,528.22 621.24,528.77 623.76,529.23 626.27,529.57 628.78,529.80 631.30,530.04 633.81,530.30 636.32,530.57 638.84,530.84 641.35,531.12 643.86,531.40 646.38,531.67 648.89,531.93 651.40,532.18 653.92,532.41 656.43,532.62 658.94,532.80 661.46,532.97 663.97,533.11 666.48,533.24 669.00,533.36 671.51,533.46 674.02,533.56 676.54,533.64 679.05,533.72" fill="none" stroke="#E41A1C" stroke-opacity="0.85" stroke-width="1.0" stroke-linejoin="round" shape-rendering="crispEdges"/>
<polyline points="480.50,553.03 483.01,552.18 485.53,551.35 488.04,550.55 490.55,549.78 493.07,549.03 495.58,548.31 498.09,547.63 500.61,546.97 503.12,546.36 505.63,545.78 508.15,545.24 510.66,544.73 513.17,544.24 515.69,543.78 518.20,543.32 520.71,542.87 523.23,542.44 525.74,542.08 528.25,541.80 530.77,541.60 533.28,541.45 535.79,541.34 538.31,541.26 540.82,541.19 543.33,541.11 545.85,541.02 548.36,540.89 550.87,540.72 553.39,540.48 555.90,540.17 558.41,539.83 560.93,539.44 563.44,539.02 565.95,538.58 568.47,538.12 570.98,537.65 573.49,537.17 576.01,536.66 578.52,536.00 581.03,535.21 583.54,534.32 586.06,533.37 588.57,532.39 591.08,531.41 593.60,530.48 596.11,529.63 598.62,528.90 601.14,528.31 603.65,527.90 606.16,527.72 608.68,527.74 611.19,527.91 613.70,528.20 616.22,528.58 618.73,529.02 621.24,529.48 623.76,529.94 626.27,530.35 628.78,530.74 631.30,531.19 633.81,531.68 636.32,532.24 638.84,532.84 641.35,533.49 643.86,534.19 646.38,534.94 648.89,535.72 651.40,536.55 653.92,537.42 656.43,538.32 658.94,539.25 661.46,540.22 663.97,541.23 666.48,542.27 669.00,543.36 671.51,544.48 674.02,545.65 676.54,546.85 679.05,548.10" fill="none" stroke="#377EB8" stroke-opacity="0.85" stroke-width="1.0" stroke-linejoin="round" shape-rendering="crispEdges"/>
<text transform="translate(579.17,486.70) scale(1,1.12)" text-anchor="middle" font-size="11.4" fill="#1A1A1A">Iran</text>
<line x1="37.33" x2="248.42" y1="653.12" y2="653.12" stroke="#EBEBEB" stroke-width="1.0"/>
<line x1="37.33" x2="248.42" y1="632.54" y2="632.54" stroke="#EBEBEB" stroke-width="1.0"/>
<line x1="37.33" x2="248.42" y1="611.98" y2="611.98" stroke="#EBEBEB" stroke-width="1.0"/>
<line x1="37.33" x2="248.42" y1="663.40" y2="663.40" stroke="#EBEBEB" stroke-width="1.0"/>
<line x1="37.33" x2="248.42" y1="642.83" y2="642.83" stroke="#EBEBEB" stroke-width="1.0"/>
<line x1="37.33" x2="248.42" y1="622.26" y2="622.26" stroke="#EBEBEB" stroke-width="1.0"/>
<line x1="37.33" x2="248.42" y1="601.69" y2="601.69" stroke="#EBEBEB" stroke-width="1.0"/>
<line x1="43.60" x2="43.60" y1="595.10" y2="666.60" stroke="#EBEBEB" stroke-width="1.0"/>
<line x1="54.05" x2="54.05" y1="595.10" y2="666.60" stroke="#EBEBEB" stroke-width="1.0"/>
<line x1="64.50" x2="64.50" y1="595.10" y2="666.60" stroke="#EBEBEB" stroke-width="1.0"/>
<line x1="74.95" x2="74.95" y1="595.10" y2="666.60" stroke="#EBEBEB" stroke-width="1.0"/>
<line x1="85.40" x2="85.40" y1="595.10" y2="666.60" stroke="#EBEBEB" stroke-width="1.0"/>
<line x1="95.85" x2="95.85" y1="595.10" y2="666.60" stroke="#EBEBEB" stroke-width="1.0"/>
<line x1="106.30" x2="106.30" y1="595.10" y2="666.60" stroke="#EBEBEB" stroke-width="1.0"/>
<line x1="116.75" x2="116.75" y1="595.10" y2="666.60" stroke="#EBEBEB" stroke-width="1.0"/>
<line x1="127.20" x2="127.20" y1="595.10" y2="666.60" stroke="#EBEBEB" stroke-width="1.0"/>
<line x1="137.65" x2="137.65" y1="595.10" y2="666.60" stroke="#EBEBEB" stroke-width="1.0"/>
<line x1="148.10" x2="148.10" y1="595.10" y2="666.60" stroke="#EBEBEB" stroke-width="1.0"/>
<line x1="158.55" x2="158.55" y1="595.10" y2="666.60" stroke="#EBEBEB" stroke-width="1.0"/>
<line x1="169.00" x2="169.00" y1="595.10" y2="666.60" stroke="#EBEBEB" stroke-width="1.0"/>
<line x1="179.45" x2="179.45" y1="595.10" y2="666.60" stroke="#EBEBEB" stroke-width="1.0"/>
<line x1="189.90" x2="189.90" y1="595.10" y2="666.60" stroke="#EBEBEB" stroke-width="1.0"/>
<line x1="200.35" x2="200.35" y1="595.10" y2="666.60" stroke="#EBEBEB" stroke-width="1.0"/>
<line x1="210.80" x2="210.80" y1="595.10" y2="666.60" stroke="#EBEBEB" stroke-width="1.0"/>
<line x1="221.25" x2="221.25" y1="595.10" y2="666.60" stroke="#EBEBEB" stroke-width="1.0"/>
<line x1="231.70" x2="231.70" y1="595.10" y2="666.60" stroke="#EBEBEB" stroke-width="1.0"/>
<line x1="242.15" x2="242.15" y1="595.10" y2="666.60" stroke="#EBEBEB" stroke-width="1.0"/>
<rect x="39.95" y="647.10" width="3.2" height="16.30" fill="#E94849"/>
<rect x="44.05" y="651.10" width="3.2" height="12.30" fill="#5F98C6"/>
<rect x="50.40" y="636.30" width="3.2" height="27.10" fill="#E94849"/>
<rect x="54.50" y="642.80" width="3.2" height="20.60" fill="#5F98C6"/>
<rect x="60.85" y="636.30" width="3.2" height="27.10" fill="#E94849"/>
<rect x="64.95" y="636.30" width="3.2" height="27.10" fill="#5F98C6"/>
<rect x="71.30" y="642.10" width="3.2" height="21.30" fill="#E94849"/>
<rect x="75.40" y="634.70" width="3.2" height="28.70" fill="#5F98C6"/>
<rect x="81.75" y="642.50" width="3.2" height="20.90" fill="#E94849"/>
<rect x="85.85" y="635.50" width="3.2" height="27.90" fill="#5F98C6"/>
<rect x="92.20" y="640.10" width="3.2" height="23.30" fill="#E94849"/>
<rect x="96.30" y="635.50" width="3.2" height="27.90" fill="#5F98C6"/>
<rect x="102.65" y="634.30" width="3.2" height="29.10" fill="#E94849"/>
<rect x="106.75" y="635.50" width="3.2" height="27.90" fill="#5F98C6"/>
<rect x="113.10" y="624.80" width="3.2" height="38.60" fill="#E94849"/>
<rect x="117.20" y="636.30" width="3.2" height="27.10" fill="#5F98C6"/>
<rect x="123.55" y="615.90" width="3.2" height="47.50" fill="#E94849"/>
<rect x="127.65" y="638.90" width="3.2" height="24.50" fill="#5F98C6"/>
<rect x="134.00" y="612.00" width="3.2" height="51.40" fill="#E94849"/>
<rect x="138.10" y="640.10" width="3.2" height="23.30" fill="#5F98C6"/>
<rect x="144.45" y="615.10" width="3.2" height="48.30" fill="#E94849"/>
<rect x="148.55" y="637.00" width="3.2" height="26.40" fill="#5F98C6"/>
<rect x="154.90" y="622.90" width="3.2" height="40.50" fill="#E94849"/>
<rect x="159.00" y="633.60" width="3.2" height="29.80" fill="#5F98C6"/>
<rect x="165.35" y="627.10" width="3.2" height="36.30" fill="#E94849"/>
<rect x="169.45" y="630.60" width="3.2" height="32.80" fill="#5F98C6"/>
<rect x="175.80" y="628.60" width="3.2" height="34.80" fill="#E94849"/>
<rect x="179.90" y="630.60" width="3.2" height="32.80" fill="#5F98C6"/>
<rect x="186.25" y="635.20" width="3.2" height="28.20" fill="#E94849"/>
<rect x="190.35" y="634.00" width="3.2" height="29.40" fill="#5F98C6"/>
<rect x="196.70" y="638.90" width="3.2" height="24.50" fill="#E94849"/>
<rect x="200.80" y="641.60" width="3.2" height="21.80" fill="#5F98C6"/>
<rect x="207.15" y="638.20" width="3.2" height="25.20" fill="#E94849"/>
<rect x="211.25" y="650.00" width="3.2" height="13.40" fill="#5F98C6"/>
<rect x="217.60" y="638.60" width="3.2" height="24.80" fill="#E94849"/>
<rect x="221.70" y="653.10" width="3.2" height="10.30" fill="#5F98C6"/>
<rect x="228.05" y="635.20" width="3.2" height="28.20" fill="#E94849"/>
<rect x="232.15" y="652.70" width="3.2" height="10.70" fill="#5F98C6"/>
<rect x="238.50" y="628.10" width="3.2" height="35.30" fill="#E94849"/>
<rect x="242.60" y="649.00" width="3.2" height="14.40" fill="#5F98C6"/>
<polyline points="43.60,643.26 46.11,643.10 48.63,642.92 51.14,642.71 53.65,642.47 56.17,642.20 58.68,641.90 61.19,641.56 63.71,641.18 66.22,640.76 68.73,640.29 71.25,639.77 73.76,639.21 76.27,638.63 78.79,638.03 81.30,637.42 83.81,636.81 86.33,636.20 88.84,635.51 91.35,634.72 93.87,633.85 96.38,632.93 98.89,631.96 101.41,630.95 103.92,629.94 106.43,628.93 108.95,627.93 111.46,626.97 113.97,626.06 116.49,625.21 119.00,624.31 121.51,623.23 124.03,622.03 126.54,620.80 129.05,619.61 131.57,618.55 134.08,617.70 136.59,617.14 139.11,616.91 141.62,616.95 144.13,617.21 146.64,617.66 149.16,618.27 151.67,619.02 154.18,619.86 156.70,620.76 159.21,621.70 161.72,622.65 164.24,623.56 166.75,624.42 169.26,625.19 171.78,626.03 174.29,627.02 176.80,628.10 179.32,629.21 181.83,630.29 184.34,631.27 186.86,632.11 189.37,632.74 191.88,633.19 194.40,633.62 196.91,634.02 199.42,634.40 201.94,634.74 204.45,635.04 206.96,635.29 209.48,635.50 211.99,635.65 214.50,635.73 217.02,635.75 219.53,635.69 222.04,635.56 224.56,635.36 227.07,635.09 229.58,634.75 232.10,634.36 234.61,633.91 237.12,633.40 239.64,632.84 242.15,632.24" fill="none" stroke="#E41A1C" stroke-opacity="0.85" stroke-width="1.0" stroke-linejoin="round" shape-rendering="crispEdges"/>
<polyline points="43.60,647.03 46.11,646.07 48.63,645.15 51.14,644.27 53.65,643.43 56.17,642.64 58.68,641.89 61.19,641.18 63.71,640.52 66.22,639.91 68.73,639.36 71.25,638.86 73.76,638.40 76.27,637.98 78.79,637.60 81.30,637.24 83.81,636.91 86.33,636.60 88.84,636.39 91.35,636.27 93.87,636.25 96.38,636.30 98.89,636.40 101.41,636.54 103.92,636.71 106.43,636.89 108.95,637.05 111.46,637.20 113.97,637.30 116.49,637.35 119.00,637.36 121.51,637.36 124.03,637.35 126.54,637.33 129.05,637.30 131.57,637.25 134.08,637.18 136.59,637.08 139.11,636.93 141.62,636.66 144.13,636.28 146.64,635.82 149.16,635.30 151.67,634.76 154.18,634.23 156.70,633.73 159.21,633.30 161.72,632.95 164.24,632.74 166.75,632.67 169.26,632.78 171.78,633.08 174.29,633.52 176.80,634.06 179.32,634.69 181.83,635.36 184.34,636.04 186.86,636.70 189.37,637.30 191.88,637.85 194.40,638.45 196.91,639.09 199.42,639.76 201.94,640.48 204.45,641.23 206.96,642.01 209.48,642.82 211.99,643.66 214.50,644.53 217.02,645.42 219.53,646.33 222.04,647.26 224.56,648.22 227.07,649.19 229.58,650.19 232.10,651.21 234.61,652.26 237.12,653.34 239.64,654.44 242.15,655.58" fill="none" stroke="#377EB8" stroke-opacity="0.85" stroke-width="1.0" stroke-linejoin="round" shape-rendering="crispEdges"/>
<text transform="translate(142.97,588.70) scale(1,1.12)" text-anchor="middle" font-size="11.4" fill="#1A1A1A">Jordan</text>
<text transform="translate(30.00,666.70) scale(1,1.09)" text-anchor="end" font-size="8.1" fill="#4D4D4D">0</text>
<text transform="translate(30.00,646.13) scale(1,1.09)" text-anchor="end" font-size="8.1" fill="#4D4D4D">10</text>
<text transform="translate(30.00,625.56) scale(1,1.09)" text-anchor="end" font-size="8.1" fill="#4D4D4D">20</text>
<text transform="translate(30.00,604.99) scale(1,1.09)" text-anchor="end" font-size="8.1" fill="#4D4D4D">30</text>
<line x1="256.03" x2="467.12" y1="653.12" y2="653.12" stroke="#EBEBEB" stroke-width="1.0"/>
<line x1="256.03" x2="467.12" y1="632.54" y2="632.54" stroke="#EBEBEB" stroke-width="1.0"/>
<line x1="256.03" x2="467.12" y1="611.98" y2="611.98" stroke="#EBEBEB" stroke-width="1.0"/>
<line x1="256.03" x2="467.12" y1="663.40" y2="663.40" stroke="#EBEBEB" stroke-width="1.0"/>
<line x1="256.03" x2="467.12" y1="642.83" y2="642.83" stroke="#EBEBEB" stroke-width="1.0"/>
<line x1="256.03" x2="467.12" y1="622.26" y2="622.26" stroke="#EBEBEB" stroke-width="1.0"/>
<line x1="256.03" x2="467.12" y1="601.69" y2="601.69" stroke="#EBEBEB" stroke-width="1.0"/>
<line x1="262.30" x2="262.30" y1="595.10" y2="666.60" stroke="#EBEBEB" stroke-width="1.0"/>
<line x1="272.75" x2="272.75" y1="595.10" y2="666.60" stroke="#EBEBEB" stroke-width="1.0"/>
<line x1="283.20" x2="283.20" y1="595.10" y2="666.60" stroke="#EBEBEB" stroke-width="1.0"/>
<line x1="293.65" x2="293.65" y1="595.10" y2="666.60" stroke="#EBEBEB" stroke-width="1.0"/>
<line x1="304.10" x2="304.10" y1="595.10" y2="666.60" stroke="#EBEBEB" stroke-width="1.0"/>
<line x1="314.55" x2="314.55" y1="595.10" y2="666.60" stroke="#EBEBEB" stroke-width="1.0"/>
<line x1="325.00" x2="325.00" y1="595.10" y2="666.60" stroke="#EBEBEB" stroke-width="1.0"/>
<line x1="335.45" x2="335.45" y1="595.10" y2="666.60" stroke="#EBEBEB" stroke-width="1.0"/>
<line x1="345.90" x2="345.90" y1="595.10" y2="666.60" stroke="#EBEBEB" stroke-width="1.0"/>
<line x1="356.35" x2="356.35" y1="595.10" y2="666.60" stroke="#EBEBEB" stroke-width="1.0"/>
<line x1="366.80" x2="366.80" y1="595.10" y2="666.60" stroke="#EBEBEB" stroke-width="1.0"/>
<line x1="377.25" x2="377.25" y1="595.10" y2="666.60" stroke="#EBEBEB" stroke-width="1.0"/>
<line x1="387.70" x2="387.70" y1="595.10" y2="666.60" stroke="#EBEBEB" stroke-width="1.0"/>
<line x1="398.15" x2="398.15" y1="595.10" y2="666.60" stroke="#EBEBEB" stroke-width="1.0"/>
<line x1="408.60" x2="408.60" y1="595.10" y2="666.60" stroke="#EBEBEB" stroke-width="1.0"/>
<line x1="419.05" x2="419.05" y1="595.10" y2="666.60" stroke="#EBEBEB" stroke-width="1.0"/>
<line x1="429.50" x2="429.50" y1="595.10" y2="666.60" stroke="#EBEBEB" stroke-width="1.0"/>
<line x1="439.95" x2="439.95" y1="595.10" y2="666.60" stroke="#EBEBEB" stroke-width="1.0"/>
<line x1="450.40" x2="450.40" y1="595.10" y2="666.60" stroke="#EBEBEB" stroke-width="1.0"/>
<line x1="460.85" x2="460.85" y1="595.10" y2="666.60" stroke="#EBEBEB" stroke-width="1.0"/>
<rect x="258.65" y="651.10" width="3.2" height="12.30" fill="#E94849"/>
<rect x="262.75" y="653.10" width="3.2" height="10.30" fill="#5F98C6"/>
<rect x="269.10" y="643.10" width="3.2" height="20.30" fill="#E94849"/>
<rect x="273.20" y="647.00" width="3.2" height="16.40" fill="#5F98C6"/>
<rect x="279.55" y="642.50" width="3.2" height="20.90" fill="#E94849"/>
<rect x="283.65" y="642.10" width="3.2" height="21.30" fill="#5F98C6"/>
<rect x="290.00" y="645.90" width="3.2" height="17.50" fill="#E94849"/>
<rect x="294.10" y="641.20" width="3.2" height="22.20" fill="#5F98C6"/>
<rect x="300.45" y="646.50" width="3.2" height="16.90" fill="#E94849"/>
<rect x="304.55" y="641.20" width="3.2" height="22.20" fill="#5F98C6"/>
<rect x="310.90" y="645.00" width="3.2" height="18.40" fill="#E94849"/>
<rect x="315.00" y="641.30" width="3.2" height="22.10" fill="#5F98C6"/>
<rect x="321.35" y="640.40" width="3.2" height="23.00" fill="#E94849"/>
<rect x="325.45" y="641.30" width="3.2" height="22.10" fill="#5F98C6"/>
<rect x="331.80" y="633.20" width="3.2" height="30.20" fill="#E94849"/>
<rect x="335.90" y="641.30" width="3.2" height="22.10" fill="#5F98C6"/>
<rect x="342.25" y="627.10" width="3.2" height="36.30" fill="#E94849"/>
<rect x="346.35" y="642.10" width="3.2" height="21.30" fill="#5F98C6"/>
<rect x="352.70" y="624.00" width="3.2" height="39.40" fill="#E94849"/>
<rect x="356.80" y="641.20" width="3.2" height="22.20" fill="#5F98C6"/>
<rect x="363.15" y="620.20" width="3.2" height="43.20" fill="#E94849"/>
<rect x="367.25" y="638.10" width="3.2" height="25.30" fill="#5F98C6"/>
<rect x="373.60" y="620.50" width="3.2" height="42.90" fill="#E94849"/>
<rect x="377.70" y="632.70" width="3.2" height="30.70" fill="#5F98C6"/>
<rect x="384.05" y="619.10" width="3.2" height="44.30" fill="#E94849"/>
<rect x="388.15" y="626.70" width="3.2" height="36.70" fill="#5F98C6"/>
<rect x="394.50" y="622.90" width="3.2" height="40.50" fill="#E94849"/>
<rect x="398.60" y="626.30" width="3.2" height="37.10" fill="#5F98C6"/>
<rect x="404.95" y="631.30" width="3.2" height="32.10" fill="#E94849"/>
<rect x="409.05" y="632.10" width="3.2" height="31.30" fill="#5F98C6"/>
<rect x="415.40" y="637.00" width="3.2" height="26.40" fill="#E94849"/>
<rect x="419.50" y="638.60" width="3.2" height="24.80" fill="#5F98C6"/>
<rect x="425.85" y="639.30" width="3.2" height="24.10" fill="#E94849"/>
<rect x="429.95" y="643.10" width="3.2" height="20.30" fill="#5F98C6"/>
<rect x="436.30" y="636.30" width="3.2" height="27.10" fill="#E94849"/>
<rect x="440.40" y="646.50" width="3.2" height="16.90" fill="#5F98C6"/>
<rect x="446.75" y="631.30" width="3.2" height="32.10" fill="#E94849"/>
<rect x="450.85" y="643.10" width="3.2" height="20.30" fill="#5F98C6"/>
<rect x="457.20" y="625.20" width="3.2" height="38.20" fill="#E94849"/>
<rect x="461.30" y="635.20" width="3.2" height="28.20" fill="#5F98C6"/>
<polyline points="262.30,647.35 264.81,647.37 267.33,647.35 269.84,647.31 272.35,647.24 274.87,647.13 277.38,646.99 279.89,646.81 282.41,646.60 284.92,646.35 287.43,646.05 289.95,645.72 292.46,645.35 294.97,644.95 297.49,644.52 300.00,644.07 302.51,643.59 305.03,643.10 307.54,642.55 310.05,641.95 312.57,641.31 315.08,640.62 317.59,639.89 320.11,639.13 322.62,638.34 325.13,637.53 327.65,636.69 330.16,635.85 332.67,634.99 335.19,634.13 337.70,633.15 340.21,631.94 342.73,630.57 345.24,629.13 347.75,627.69 350.27,626.34 352.78,625.15 355.29,624.22 357.81,623.57 360.32,623.03 362.83,622.57 365.34,622.19 367.86,621.89 370.37,621.67 372.88,621.52 375.40,621.46 377.91,621.47 380.42,621.56 382.94,621.72 385.45,621.96 387.96,622.27 390.48,622.79 392.99,623.54 395.50,624.44 398.02,625.43 400.53,626.42 403.04,627.33 405.56,628.08 408.07,628.60 410.58,628.93 413.10,629.27 415.61,629.62 418.12,629.97 420.64,630.31 423.15,630.65 425.66,630.97 428.18,631.26 430.69,631.52 433.20,631.75 435.72,631.92 438.23,632.05 440.74,632.12 443.26,632.14 445.77,632.11 448.28,632.04 450.80,631.93 453.31,631.79 455.82,631.62 458.34,631.41 460.85,631.19" fill="none" stroke="#E41A1C" stroke-opacity="0.85" stroke-width="1.0" stroke-linejoin="round" shape-rendering="crispEdges"/>
<polyline points="262.30,649.66 264.81,649.08 267.33,648.52 269.84,647.98 272.35,647.46 274.87,646.95 277.38,646.47 279.89,646.01 282.41,645.58 284.92,645.18 287.43,644.80 289.95,644.46 292.46,644.13 294.97,643.83 297.49,643.53 300.00,643.25 302.51,642.96 305.03,642.68 307.54,642.47 310.05,642.33 312.57,642.24 315.08,642.21 317.59,642.20 320.11,642.22 322.62,642.23 325.13,642.24 327.65,642.23 330.16,642.17 332.67,642.07 335.19,641.90 337.70,641.66 340.21,641.36 342.73,641.02 345.24,640.64 347.75,640.23 350.27,639.81 352.78,639.38 355.29,638.95 357.81,638.51 360.32,637.93 362.83,637.23 365.34,636.44 367.86,635.59 370.37,634.72 372.88,633.86 375.40,633.04 377.91,632.29 380.42,631.64 382.94,631.13 385.45,630.79 387.96,630.64 390.48,630.71 392.99,630.96 395.50,631.34 398.02,631.81 400.53,632.31 403.04,632.81 405.56,633.25 408.07,633.58 410.58,633.83 413.10,634.12 415.61,634.44 418.12,634.80 420.64,635.19 423.15,635.61 425.66,636.05 428.18,636.51 430.69,636.98 433.20,637.47 435.72,637.97 438.23,638.47 440.74,638.97 443.26,639.48 445.77,640.00 448.28,640.52 450.80,641.06 453.31,641.61 455.82,642.18 458.34,642.76 460.85,643.36" fill="none" stroke="#377EB8" stroke-opacity="0.85" stroke-width="1.0" stroke-linejoin="round" shape-rendering="crispEdges"/>
<text transform="translate(360.78,588.70) scale(1,1.12)" text-anchor="middle" font-size="11.4" fill="#1A1A1A">Oman</text>
<line x1="474.23" x2="685.32" y1="653.12" y2="653.12" stroke="#EBEBEB" stroke-width="1.0"/>
<line x1="474.23" x2="685.32" y1="632.54" y2="632.54" stroke="#EBEBEB" stroke-width="1.0"/>
<line x1="474.23" x2="685.32" y1="611.98" y2="611.98" stroke="#EBEBEB" stroke-width="1.0"/>
<line x1="474.23" x2="685.32" y1="663.40" y2="663.40" stroke="#EBEBEB" stroke-width="1.0"/>
<line x1="474.23" x2="685.32" y1="642.83" y2="642.83" stroke="#EBEBEB" stroke-width="1.0"/>
<line x1="474.23" x2="685.32" y1="622.26" y2="622.26" stroke="#EBEBEB" stroke-width="1.0"/>
<line x1="474.23" x2="685.32" y1="601.69" y2="601.69" stroke="#EBEBEB" stroke-width="1.0"/>
<line x1="480.50" x2="480.50" y1="595.10" y2="666.60" stroke="#EBEBEB" stroke-width="1.0"/>
<line x1="490.95" x2="490.95" y1="595.10" y2="666.60" stroke="#EBEBEB" stroke-width="1.0"/>
<line x1="501.40" x2="501.40" y1="595.10" y2="666.60" stroke="#EBEBEB" stroke-width="1.0"/>
<line x1="511.85" x2="511.85" y1="595.10" y2="666.60" stroke="#EBEBEB" stroke-width="1.0"/>
<line x1="522.30" x2="522.30" y1="595.10" y2="666.60" stroke="#EBEBEB" stroke-width="1.0"/>
<line x1="532.75" x2="532.75" y1="595.10" y2="666.60" stroke="#EBEBEB" stroke-width="1.0"/>
<line x1="543.20" x2="543.20" y1="595.10" y2="666.60" stroke="#EBEBEB" stroke-width="1.0"/>
<line x1="553.65" x2="553.65" y1="595.10" y2="666.60" stroke="#EBEBEB" stroke-width="1.0"/>
<line x1="564.10" x2="564.10" y1="595.10" y2="666.60" stroke="#EBEBEB" stroke-width="1.0"/>
<line x1="574.55" x2="574.55" y1="595.10" y2="666.60" stroke="#EBEBEB" stroke-width="1.0"/>
<line x1="585.00" x2="585.00" y1="595.10" y2="666.60" stroke="#EBEBEB" stroke-width="1.0"/>
<line x1="595.45" x2="595.45" y1="595.10" y2="666.60" stroke="#EBEBEB" stroke-width="1.0"/>
<line x1="605.90" x2="605.90" y1="595.10" y2="666.60" stroke="#EBEBEB" stroke-width="1.0"/>
<line x1="616.35" x2="616.35" y1="595.10" y2="666.60" stroke="#EBEBEB" stroke-width="1.0"/>
<line x1="626.80" x2="626.80" y1="595.10" y2="666.60" stroke="#EBEBEB" stroke-width="1.0"/>
<line x1="637.25" x2="637.25" y1="595.10" y2="666.60" stroke="#EBEBEB" stroke-width="1.0"/>
<line x1="647.70" x2="647.70" y1="595.10" y2="666.60" stroke="#EBEBEB" stroke-width="1.0"/>
<line x1="658.15" x2="658.15" y1="595.10" y2="666.60" stroke="#EBEBEB" stroke-width="1.0"/>
<line x1="668.60" x2="668.60" y1="595.10" y2="666.60" stroke="#EBEBEB" stroke-width="1.0"/>
<line x1="679.05" x2="679.05" y1="595.10" y2="666.60" stroke="#EBEBEB" stroke-width="1.0"/>
<rect x="476.85" y="651.10" width="3.2" height="12.30" fill="#E94849"/>
<rect x="480.95" y="652.00" width="3.2" height="11.40" fill="#5F98C6"/>
<rect x="487.30" y="641.90" width="3.2" height="21.50" fill="#E94849"/>
<rect x="491.40" y="645.90" width="3.2" height="17.50" fill="#5F98C6"/>
<rect x="497.75" y="641.90" width="3.2" height="21.50" fill="#E94849"/>
<rect x="501.85" y="641.30" width="3.2" height="22.10" fill="#5F98C6"/>
<rect x="508.20" y="645.90" width="3.2" height="17.50" fill="#E94849"/>
<rect x="512.30" y="639.30" width="3.2" height="24.10" fill="#5F98C6"/>
<rect x="518.65" y="646.50" width="3.2" height="16.90" fill="#E94849"/>
<rect x="522.75" y="639.30" width="3.2" height="24.10" fill="#5F98C6"/>
<rect x="529.10" y="644.10" width="3.2" height="19.30" fill="#E94849"/>
<rect x="533.20" y="639.30" width="3.2" height="24.10" fill="#5F98C6"/>
<rect x="539.55" y="638.60" width="3.2" height="24.80" fill="#E94849"/>
<rect x="543.65" y="639.30" width="3.2" height="24.10" fill="#5F98C6"/>
<rect x="550.00" y="630.60" width="3.2" height="32.80" fill="#E94849"/>
<rect x="554.10" y="639.30" width="3.2" height="24.10" fill="#5F98C6"/>
<rect x="560.45" y="625.20" width="3.2" height="38.20" fill="#E94849"/>
<rect x="564.55" y="640.10" width="3.2" height="23.30" fill="#5F98C6"/>
<rect x="570.90" y="624.30" width="3.2" height="39.10" fill="#E94849"/>
<rect x="575.00" y="639.30" width="3.2" height="24.10" fill="#5F98C6"/>
<rect x="581.35" y="627.80" width="3.2" height="35.60" fill="#E94849"/>
<rect x="585.45" y="638.10" width="3.2" height="25.30" fill="#5F98C6"/>
<rect x="591.80" y="631.70" width="3.2" height="31.70" fill="#E94849"/>
<rect x="595.90" y="633.20" width="3.2" height="30.20" fill="#5F98C6"/>
<rect x="602.25" y="635.20" width="3.2" height="28.20" fill="#E94849"/>
<rect x="606.35" y="632.40" width="3.2" height="31.00" fill="#5F98C6"/>
<rect x="612.70" y="634.70" width="3.2" height="28.70" fill="#E94849"/>
<rect x="616.80" y="628.10" width="3.2" height="35.30" fill="#5F98C6"/>
<rect x="623.15" y="637.80" width="3.2" height="25.60" fill="#E94849"/>
<rect x="627.25" y="624.10" width="3.2" height="39.30" fill="#5F98C6"/>
<rect x="633.60" y="636.30" width="3.2" height="27.10" fill="#E94849"/>
<rect x="637.70" y="626.00" width="3.2" height="37.40" fill="#5F98C6"/>
<rect x="644.05" y="635.20" width="3.2" height="28.20" fill="#E94849"/>
<rect x="648.15" y="634.30" width="3.2" height="29.10" fill="#5F98C6"/>
<rect x="654.50" y="638.60" width="3.2" height="24.80" fill="#E94849"/>
<rect x="658.60" y="644.10" width="3.2" height="19.30" fill="#5F98C6"/>
<rect x="664.95" y="639.80" width="3.2" height="23.60" fill="#E94849"/>
<rect x="669.05" y="646.50" width="3.2" height="16.90" fill="#5F98C6"/>
<rect x="675.40" y="637.00" width="3.2" height="26.40" fill="#E94849"/>
<rect x="679.50" y="642.50" width="3.2" height="20.90" fill="#5F98C6"/>
<polyline points="480.50,648.26 483.01,647.96 485.53,647.65 488.04,647.32 490.55,646.98 493.07,646.63 495.58,646.26 498.09,645.87 500.61,645.45 503.12,645.01 505.63,644.54 508.15,644.04 510.66,643.53 513.17,642.99 515.69,642.46 518.20,641.92 520.71,641.39 523.23,640.87 525.74,640.29 528.25,639.65 530.77,638.96 533.28,638.24 535.79,637.48 538.31,636.71 540.82,635.94 543.33,635.17 545.85,634.43 548.36,633.72 550.87,633.05 553.39,632.44 555.90,631.83 558.41,631.12 560.93,630.38 563.44,629.63 565.95,628.91 568.47,628.28 570.98,627.77 573.49,627.42 576.01,627.28 578.52,627.33 581.03,627.54 583.54,627.90 586.06,628.36 588.57,628.91 591.08,629.52 593.60,630.16 596.11,630.80 598.62,631.42 601.14,631.99 603.65,632.48 606.16,632.87 608.68,633.23 611.19,633.61 613.70,633.99 616.22,634.38 618.73,634.75 621.24,635.10 623.76,635.42 626.27,635.71 628.78,635.96 631.30,636.20 633.81,636.43 636.32,636.66 638.84,636.87 641.35,637.06 643.86,637.24 646.38,637.41 648.89,637.56 651.40,637.69 653.92,637.81 656.43,637.90 658.94,637.97 661.46,638.03 663.97,638.06 666.48,638.08 669.00,638.09 671.51,638.08 674.02,638.05 676.54,638.01 679.05,637.95" fill="none" stroke="#E41A1C" stroke-opacity="0.85" stroke-width="1.0" stroke-linejoin="round" shape-rendering="crispEdges"/>
<polyline points="480.50,649.08 483.01,648.36 485.53,647.67 488.04,647.00 490.55,646.35 493.07,645.73 495.58,645.14 498.09,644.57 500.61,644.04 503.12,643.54 505.63,643.08 508.15,642.65 510.66,642.25 513.17,641.87 515.69,641.51 518.20,641.17 520.71,640.84 523.23,640.53 525.74,640.27 528.25,640.09 530.77,639.97 533.28,639.90 535.79,639.86 538.31,639.85 540.82,639.85 543.33,639.86 545.85,639.85 548.36,639.82 550.87,639.77 553.39,639.66 555.90,639.55 558.41,639.46 560.93,639.39 563.44,639.31 565.95,639.22 568.47,639.09 570.98,638.91 573.49,638.67 576.01,638.32 578.52,637.83 581.03,637.21 583.54,636.50 586.06,635.71 588.57,634.89 591.08,634.04 593.60,633.22 596.11,632.43 598.62,631.71 601.14,631.09 603.65,630.59 606.16,630.24 608.68,629.98 611.19,629.76 613.70,629.58 616.22,629.45 618.73,629.39 621.24,629.41 623.76,629.50 626.27,629.68 628.78,629.95 631.30,630.27 633.81,630.64 636.32,631.07 638.84,631.56 641.35,632.10 643.86,632.70 646.38,633.37 648.89,634.09 651.40,634.88 653.92,635.74 656.43,636.66 658.94,637.65 661.46,638.70 663.97,639.82 666.48,641.01 669.00,642.26 671.51,643.57 674.02,644.94 676.54,646.38 679.05,647.87" fill="none" stroke="#377EB8" stroke-opacity="0.85" stroke-width="1.0" stroke-linejoin="round" shape-rendering="crispEdges"/>
<text transform="translate(579.17,588.70) scale(1,1.12)" text-anchor="middle" font-size="11.4" fill="#1A1A1A">Qatar</text>
<line x1="37.33" x2="248.42" y1="754.26" y2="754.26" stroke="#EBEBEB" stroke-width="1.0"/>
<line x1="37.33" x2="248.42" y1="733.79" y2="733.79" stroke="#EBEBEB" stroke-width="1.0"/>
<line x1="37.33" x2="248.42" y1="713.33" y2="713.33" stroke="#EBEBEB" stroke-width="1.0"/>
<line x1="37.33" x2="248.42" y1="764.50" y2="764.50" stroke="#EBEBEB" stroke-width="1.0"/>
<line x1="37.33" x2="248.42" y1="744.03" y2="744.03" stroke="#EBEBEB" stroke-width="1.0"/>
<line x1="37.33" x2="248.42" y1="723.56" y2="723.56" stroke="#EBEBEB" stroke-width="1.0"/>
<line x1="37.33" x2="248.42" y1="703.09" y2="703.09" stroke="#EBEBEB" stroke-width="1.0"/>
<line x1="43.60" x2="43.60" y1="696.50" y2="767.70" stroke="#EBEBEB" stroke-width="1.0"/>
<line x1="54.05" x2="54.05" y1="696.50" y2="767.70" stroke="#EBEBEB" stroke-width="1.0"/>
<line x1="64.50" x2="64.50" y1="696.50" y2="767.70" stroke="#EBEBEB" stroke-width="1.0"/>
<line x1="74.95" x2="74.95" y1="696.50" y2="767.70" stroke="#EBEBEB" stroke-width="1.0"/>
<line x1="85.40" x2="85.40" y1="696.50" y2="767.70" stroke="#EBEBEB" stroke-width="1.0"/>
<line x1="95.85" x2="95.85" y1="696.50" y2="767.70" stroke="#EBEBEB" stroke-width="1.0"/>
<line x1="106.30" x2="106.30" y1="696.50" y2="767.70" stroke="#EBEBEB" stroke-width="1.0"/>
<line x1="116.75" x2="116.75" y1="696.50" y2="767.70" stroke="#EBEBEB" stroke-width="1.0"/>
<line x1="127.20" x2="127.20" y1="696.50" y2="767.70" stroke="#EBEBEB" stroke-width="1.0"/>
<line x1="137.65" x2="137.65" y1="696.50" y2="767.70" stroke="#EBEBEB" stroke-width="1.0"/>
<line x1="148.10" x2="148.10" y1="696.50" y2="767.70" stroke="#EBEBEB" stroke-width="1.0"/>
<line x1="158.55" x2="158.55" y1="696.50" y2="767.70" stroke="#EBEBEB" stroke-width="1.0"/>
<line x1="169.00" x2="169.00" y1="696.50" y2="767.70" stroke="#EBEBEB" stroke-width="1.0"/>
<line x1="179.45" x2="179.45" y1="696.50" y2="767.70" stroke="#EBEBEB" stroke-width="1.0"/>
<line x1="189.90" x2="189.90" y1="696.50" y2="767.70" stroke="#EBEBEB" stroke-width="1.0"/>
<line x1="200.35" x2="200.35" y1="696.50" y2="767.70" stroke="#EBEBEB" stroke-width="1.0"/>
<line x1="210.80" x2="210.80" y1="696.50" y2="767.70" stroke="#EBEBEB" stroke-width="1.0"/>
<line x1="221.25" x2="221.25" y1="696.50" y2="767.70" stroke="#EBEBEB" stroke-width="1.0"/>
<line x1="231.70" x2="231.70" y1="696.50" y2="767.70" stroke="#EBEBEB" stroke-width="1.0"/>
<line x1="242.15" x2="242.15" y1="696.50" y2="767.70" stroke="#EBEBEB" stroke-width="1.0"/>
<rect x="39.95" y="754.20" width="3.2" height="10.30" fill="#E94849"/>
<rect x="44.05" y="756.10" width="3.2" height="8.40" fill="#5F98C6"/>
<rect x="50.40" y="744.70" width="3.2" height="19.80" fill="#E94849"/>
<rect x="54.50" y="748.70" width="3.2" height="15.80" fill="#5F98C6"/>
<rect x="60.85" y="744.10" width="3.2" height="20.40" fill="#E94849"/>
<rect x="64.95" y="744.10" width="3.2" height="20.40" fill="#5F98C6"/>
<rect x="71.30" y="746.60" width="3.2" height="17.90" fill="#E94849"/>
<rect x="75.40" y="742.30" width="3.2" height="22.20" fill="#5F98C6"/>
<rect x="81.75" y="748.10" width="3.2" height="16.40" fill="#E94849"/>
<rect x="85.85" y="742.30" width="3.2" height="22.20" fill="#5F98C6"/>
<rect x="92.20" y="744.70" width="3.2" height="19.80" fill="#E94849"/>
<rect x="96.30" y="740.40" width="3.2" height="24.10" fill="#5F98C6"/>
<rect x="102.65" y="738.50" width="3.2" height="26.00" fill="#E94849"/>
<rect x="106.75" y="739.50" width="3.2" height="25.00" fill="#5F98C6"/>
<rect x="113.10" y="728.20" width="3.2" height="36.30" fill="#E94849"/>
<rect x="117.20" y="737.40" width="3.2" height="27.10" fill="#5F98C6"/>
<rect x="123.55" y="718.10" width="3.2" height="46.40" fill="#E94849"/>
<rect x="127.65" y="736.90" width="3.2" height="27.60" fill="#5F98C6"/>
<rect x="134.00" y="710.10" width="3.2" height="54.40" fill="#E94849"/>
<rect x="138.10" y="733.10" width="3.2" height="31.40" fill="#5F98C6"/>
<rect x="144.45" y="710.40" width="3.2" height="54.10" fill="#E94849"/>
<rect x="148.55" y="728.20" width="3.2" height="36.30" fill="#5F98C6"/>
<rect x="154.90" y="717.50" width="3.2" height="47.00" fill="#E94849"/>
<rect x="159.00" y="719.30" width="3.2" height="45.20" fill="#5F98C6"/>
<rect x="165.35" y="723.40" width="3.2" height="41.10" fill="#E94849"/>
<rect x="169.45" y="716.20" width="3.2" height="48.30" fill="#5F98C6"/>
<rect x="175.80" y="729.30" width="3.2" height="35.20" fill="#E94849"/>
<rect x="179.90" y="718.50" width="3.2" height="46.00" fill="#5F98C6"/>
<rect x="186.25" y="736.20" width="3.2" height="28.30" fill="#E94849"/>
<rect x="190.35" y="723.40" width="3.2" height="41.10" fill="#5F98C6"/>
<rect x="196.70" y="743.20" width="3.2" height="21.30" fill="#E94849"/>
<rect x="200.80" y="735.40" width="3.2" height="29.10" fill="#5F98C6"/>
<rect x="207.15" y="745.70" width="3.2" height="18.80" fill="#E94849"/>
<rect x="211.25" y="745.70" width="3.2" height="18.80" fill="#5F98C6"/>
<rect x="217.60" y="744.70" width="3.2" height="19.80" fill="#E94849"/>
<rect x="221.70" y="749.30" width="3.2" height="15.20" fill="#5F98C6"/>
<rect x="228.05" y="742.00" width="3.2" height="22.50" fill="#E94849"/>
<rect x="232.15" y="750.30" width="3.2" height="14.20" fill="#5F98C6"/>
<rect x="238.50" y="736.90" width="3.2" height="27.60" fill="#E94849"/>
<rect x="242.60" y="748.70" width="3.2" height="15.80" fill="#5F98C6"/>
<polyline points="43.60,750.84 46.11,750.65 48.63,750.42 51.14,750.16 53.65,749.86 56.17,749.52 58.68,749.14 61.19,748.71 63.71,748.23 66.22,747.69 68.73,747.10 71.25,746.44 73.76,745.74 76.27,745.00 78.79,744.24 81.30,743.45 83.81,742.65 86.33,741.84 88.84,740.93 91.35,739.92 93.87,738.81 96.38,737.63 98.89,736.40 101.41,735.13 103.92,733.83 106.43,732.52 108.95,731.23 111.46,729.96 113.97,728.74 116.49,727.57 119.00,726.30 121.51,724.75 124.03,723.01 126.54,721.21 129.05,719.46 131.57,717.87 134.08,716.55 136.59,715.62 139.11,715.15 141.62,714.95 144.13,714.99 146.64,715.23 149.16,715.66 151.67,716.23 154.18,716.94 156.70,717.75 159.21,718.63 161.72,719.57 164.24,720.53 166.75,721.50 169.26,722.44 171.78,723.54 174.29,724.90 176.80,726.41 179.32,727.99 181.83,729.57 184.34,731.04 186.86,732.33 189.37,733.34 191.88,734.13 194.40,734.91 196.91,735.69 199.42,736.47 201.94,737.22 204.45,737.95 206.96,738.65 209.48,739.30 211.99,739.90 214.50,740.44 217.02,740.92 219.53,741.32 222.04,741.65 224.56,741.90 227.07,742.08 229.58,742.21 232.10,742.28 234.61,742.29 237.12,742.26 239.64,742.19 242.15,742.07" fill="none" stroke="#E41A1C" stroke-opacity="0.85" stroke-width="1.0" stroke-linejoin="round" shape-rendering="crispEdges"/>
<polyline points="43.60,752.31 46.11,751.69 48.63,751.08 51.14,750.47 53.65,749.87 56.17,749.28 58.68,748.70 61.19,748.12 63.71,747.56 66.22,747.01 68.73,746.47 71.25,745.95 73.76,745.44 76.27,744.94 78.79,744.43 81.30,743.92 83.81,743.40 86.33,742.87 88.84,742.40 91.35,741.97 93.87,741.58 96.38,741.23 98.89,740.89 101.41,740.55 103.92,740.21 106.43,739.84 108.95,739.45 111.46,739.01 113.97,738.52 116.49,737.96 119.00,737.29 121.51,736.48 124.03,735.55 126.54,734.57 129.05,733.56 131.57,732.56 134.08,731.63 136.59,730.78 139.11,730.02 141.62,729.12 144.13,728.09 146.64,726.98 149.16,725.81 151.67,724.65 154.18,723.53 156.70,722.49 159.21,721.58 161.72,720.83 164.24,720.30 166.75,720.02 169.26,720.03 171.78,720.35 174.29,720.93 176.80,721.70 179.32,722.62 181.83,723.62 184.34,724.64 186.86,725.62 189.37,726.51 191.88,727.34 194.40,728.24 196.91,729.23 199.42,730.30 201.94,731.44 204.45,732.65 206.96,733.93 209.48,735.26 211.99,736.66 214.50,738.10 217.02,739.60 219.53,741.13 222.04,742.71 224.56,744.32 227.07,745.99 229.58,747.70 232.10,749.46 234.61,751.27 237.12,753.14 239.64,755.07 242.15,757.05" fill="none" stroke="#377EB8" stroke-opacity="0.85" stroke-width="1.0" stroke-linejoin="round" shape-rendering="crispEdges"/>
<text transform="translate(142.97,690.10) scale(1,1.12)" text-anchor="middle" font-size="11.4" fill="#1A1A1A">Saudi Arabia</text>
<text transform="translate(30.00,767.80) scale(1,1.09)" text-anchor="end" font-size="8.1" fill="#4D4D4D">0</text>
<text transform="translate(30.00,747.33) scale(1,1.09)" text-anchor="end" font-size="8.1" fill="#4D4D4D">10</text>
<text transform="translate(30.00,726.86) scale(1,1.09)" text-anchor="end" font-size="8.1" fill="#4D4D4D">20</text>
<text transform="translate(30.00,706.39) scale(1,1.09)" text-anchor="end" font-size="8.1" fill="#4D4D4D">30</text>
<text transform="translate(47.50,785.80) rotate(-90)" text-anchor="middle" font-size="8.2" letter-spacing="0.45" fill="#4D4D4D">0_4</text>
<text transform="translate(57.95,785.80) rotate(-90)" text-anchor="middle" font-size="8.2" letter-spacing="0.45" fill="#4D4D4D">5_9</text>
<text transform="translate(68.40,785.80) rotate(-90)" text-anchor="middle" font-size="8.2" letter-spacing="0.45" fill="#4D4D4D">10_14</text>
<text transform="translate(78.85,785.80) rotate(-90)" text-anchor="middle" font-size="8.2" letter-spacing="0.45" fill="#4D4D4D">15_19</text>
<text transform="translate(89.30,785.80) rotate(-90)" text-anchor="middle" font-size="8.2" letter-spacing="0.45" fill="#4D4D4D">20_24</text>
<text transform="translate(99.75,785.80) rotate(-90)" text-anchor="middle" font-size="8.2" letter-spacing="0.45" fill="#4D4D4D">25_29</text>
<text transform="translate(110.20,785.80) rotate(-90)" text-anchor="middle" font-size="8.2" letter-spacing="0.45" fill="#4D4D4D">30_34</text>
<text transform="translate(120.65,785.80) rotate(-90)" text-anchor="middle" font-size="8.2" letter-spacing="0.45" fill="#4D4D4D">35_39</text>
<text transform="translate(131.10,785.80) rotate(-90)" text-anchor="middle" font-size="8.2" letter-spacing="0.45" fill="#4D4D4D">40_44</text>
<text transform="translate(141.55,785.80) rotate(-90)" text-anchor="middle" font-size="8.2" letter-spacing="0.45" fill="#4D4D4D">45_49</text>
<text transform="translate(152.00,785.80) rotate(-90)" text-anchor="middle" font-size="8.2" letter-spacing="0.45" fill="#4D4D4D">50_54</text>
<text transform="translate(162.45,785.80) rotate(-90)" text-anchor="middle" font-size="8.2" letter-spacing="0.45" fill="#4D4D4D">55_59</text>
<text transform="translate(172.90,785.80) rotate(-90)" text-anchor="middle" font-size="8.2" letter-spacing="0.45" fill="#4D4D4D">60_64</text>
<text transform="translate(183.35,785.80) rotate(-90)" text-anchor="middle" font-size="8.2" letter-spacing="0.45" fill="#4D4D4D">65_69</text>
<text transform="translate(193.80,785.80) rotate(-90)" text-anchor="middle" font-size="8.2" letter-spacing="0.45" fill="#4D4D4D">70_74</text>
<text transform="translate(204.25,785.80) rotate(-90)" text-anchor="middle" font-size="8.2" letter-spacing="0.45" fill="#4D4D4D">75_79</text>
<text transform="translate(214.70,785.80) rotate(-90)" text-anchor="middle" font-size="8.2" letter-spacing="0.45" fill="#4D4D4D">80_84</text>
<text transform="translate(225.15,785.80) rotate(-90)" text-anchor="middle" font-size="8.2" letter-spacing="0.45" fill="#4D4D4D">85_89</text>
<text transform="translate(235.60,785.80) rotate(-90)" text-anchor="middle" font-size="8.2" letter-spacing="0.45" fill="#4D4D4D">90_94</text>
<text transform="translate(246.05,785.80) rotate(-90)" text-anchor="middle" font-size="8.2" letter-spacing="0.45" fill="#4D4D4D">95+</text>
<line x1="256.03" x2="467.12" y1="754.26" y2="754.26" stroke="#EBEBEB" stroke-width="1.0"/>
<line x1="256.03" x2="467.12" y1="733.79" y2="733.79" stroke="#EBEBEB" stroke-width="1.0"/>
<line x1="256.03" x2="467.12" y1="713.33" y2="713.33" stroke="#EBEBEB" stroke-width="1.0"/>
<line x1="256.03" x2="467.12" y1="764.50" y2="764.50" stroke="#EBEBEB" stroke-width="1.0"/>
<line x1="256.03" x2="467.12" y1="744.03" y2="744.03" stroke="#EBEBEB" stroke-width="1.0"/>
<line x1="256.03" x2="467.12" y1="723.56" y2="723.56" stroke="#EBEBEB" stroke-width="1.0"/>
<line x1="256.03" x2="467.12" y1="703.09" y2="703.09" stroke="#EBEBEB" stroke-width="1.0"/>
<line x1="262.30" x2="262.30" y1="696.50" y2="767.70" stroke="#EBEBEB" stroke-width="1.0"/>
<line x1="272.75" x2="272.75" y1="696.50" y2="767.70" stroke="#EBEBEB" stroke-width="1.0"/>
<line x1="283.20" x2="283.20" y1="696.50" y2="767.70" stroke="#EBEBEB" stroke-width="1.0"/>
<line x1="293.65" x2="293.65" y1="696.50" y2="767.70" stroke="#EBEBEB" stroke-width="1.0"/>
<line x1="304.10" x2="304.10" y1="696.50" y2="767.70" stroke="#EBEBEB" stroke-width="1.0"/>
<line x1="314.55" x2="314.55" y1="696.50" y2="767.70" stroke="#EBEBEB" stroke-width="1.0"/>
<line x1="325.00" x2="325.00" y1="696.50" y2="767.70" stroke="#EBEBEB" stroke-width="1.0"/>
<line x1="335.45" x2="335.45" y1="696.50" y2="767.70" stroke="#EBEBEB" stroke-width="1.0"/>
<line x1="345.90" x2="345.90" y1="696.50" y2="767.70" stroke="#EBEBEB" stroke-width="1.0"/>
<line x1="356.35" x2="356.35" y1="696.50" y2="767.70" stroke="#EBEBEB" stroke-width="1.0"/>
<line x1="366.80" x2="366.80" y1="696.50" y2="767.70" stroke="#EBEBEB" stroke-width="1.0"/>
<line x1="377.25" x2="377.25" y1="696.50" y2="767.70" stroke="#EBEBEB" stroke-width="1.0"/>
<line x1="387.70" x2="387.70" y1="696.50" y2="767.70" stroke="#EBEBEB" stroke-width="1.0"/>
<line x1="398.15" x2="398.15" y1="696.50" y2="767.70" stroke="#EBEBEB" stroke-width="1.0"/>
<line x1="408.60" x2="408.60" y1="696.50" y2="767.70" stroke="#EBEBEB" stroke-width="1.0"/>
<line x1="419.05" x2="419.05" y1="696.50" y2="767.70" stroke="#EBEBEB" stroke-width="1.0"/>
<line x1="429.50" x2="429.50" y1="696.50" y2="767.70" stroke="#EBEBEB" stroke-width="1.0"/>
<line x1="439.95" x2="439.95" y1="696.50" y2="767.70" stroke="#EBEBEB" stroke-width="1.0"/>
<line x1="450.40" x2="450.40" y1="696.50" y2="767.70" stroke="#EBEBEB" stroke-width="1.0"/>
<line x1="460.85" x2="460.85" y1="696.50" y2="767.70" stroke="#EBEBEB" stroke-width="1.0"/>
<rect x="258.65" y="756.50" width="3.2" height="8.00" fill="#E94849"/>
<rect x="262.75" y="757.30" width="3.2" height="7.20" fill="#5F98C6"/>
<rect x="269.10" y="749.50" width="3.2" height="15.00" fill="#E94849"/>
<rect x="273.20" y="750.70" width="3.2" height="13.80" fill="#5F98C6"/>
<rect x="279.55" y="747.30" width="3.2" height="17.20" fill="#E94849"/>
<rect x="283.65" y="745.40" width="3.2" height="19.10" fill="#5F98C6"/>
<rect x="290.00" y="749.30" width="3.2" height="15.20" fill="#E94849"/>
<rect x="294.10" y="742.30" width="3.2" height="22.20" fill="#5F98C6"/>
<rect x="300.45" y="749.90" width="3.2" height="14.60" fill="#E94849"/>
<rect x="304.55" y="740.40" width="3.2" height="24.10" fill="#5F98C6"/>
<rect x="310.90" y="748.10" width="3.2" height="16.40" fill="#E94849"/>
<rect x="315.00" y="739.50" width="3.2" height="25.00" fill="#5F98C6"/>
<rect x="321.35" y="743.20" width="3.2" height="21.30" fill="#E94849"/>
<rect x="325.45" y="741.10" width="3.2" height="23.40" fill="#5F98C6"/>
<rect x="331.80" y="736.50" width="3.2" height="28.00" fill="#E94849"/>
<rect x="335.90" y="741.10" width="3.2" height="23.40" fill="#5F98C6"/>
<rect x="342.25" y="729.30" width="3.2" height="35.20" fill="#E94849"/>
<rect x="346.35" y="740.30" width="3.2" height="24.20" fill="#5F98C6"/>
<rect x="352.70" y="722.10" width="3.2" height="42.40" fill="#E94849"/>
<rect x="356.80" y="739.50" width="3.2" height="25.00" fill="#5F98C6"/>
<rect x="363.15" y="719.30" width="3.2" height="45.20" fill="#E94849"/>
<rect x="367.25" y="736.20" width="3.2" height="28.30" fill="#5F98C6"/>
<rect x="373.60" y="721.10" width="3.2" height="43.40" fill="#E94849"/>
<rect x="377.70" y="728.50" width="3.2" height="36.00" fill="#5F98C6"/>
<rect x="384.05" y="722.10" width="3.2" height="42.40" fill="#E94849"/>
<rect x="388.15" y="723.60" width="3.2" height="40.90" fill="#5F98C6"/>
<rect x="394.50" y="725.10" width="3.2" height="39.40" fill="#E94849"/>
<rect x="398.60" y="722.40" width="3.2" height="42.10" fill="#5F98C6"/>
<rect x="404.95" y="729.70" width="3.2" height="34.80" fill="#E94849"/>
<rect x="409.05" y="725.70" width="3.2" height="38.80" fill="#5F98C6"/>
<rect x="415.40" y="736.20" width="3.2" height="28.30" fill="#E94849"/>
<rect x="419.50" y="733.90" width="3.2" height="30.60" fill="#5F98C6"/>
<rect x="425.85" y="740.30" width="3.2" height="24.20" fill="#E94849"/>
<rect x="429.95" y="744.10" width="3.2" height="20.40" fill="#5F98C6"/>
<rect x="436.30" y="741.50" width="3.2" height="23.00" fill="#E94849"/>
<rect x="440.40" y="750.30" width="3.2" height="14.20" fill="#5F98C6"/>
<rect x="446.75" y="740.80" width="3.2" height="23.70" fill="#E94849"/>
<rect x="450.85" y="749.90" width="3.2" height="14.60" fill="#5F98C6"/>
<rect x="457.20" y="736.20" width="3.2" height="28.30" fill="#E94849"/>
<rect x="461.30" y="746.10" width="3.2" height="18.40" fill="#5F98C6"/>
<polyline points="262.30,753.25 264.81,753.14 267.33,752.99 269.84,752.82 272.35,752.61 274.87,752.37 277.38,752.09 279.89,751.78 282.41,751.43 284.92,751.04 287.43,750.61 289.95,750.14 292.46,749.63 294.97,749.08 297.49,748.51 300.00,747.92 302.51,747.30 305.03,746.67 307.54,745.98 310.05,745.23 312.57,744.43 315.08,743.58 317.59,742.69 320.11,741.77 322.62,740.82 325.13,739.85 327.65,738.87 330.16,737.88 332.67,736.88 335.19,735.89 337.70,734.79 340.21,733.44 342.73,731.94 345.24,730.36 347.75,728.79 350.27,727.32 352.78,726.04 355.29,725.01 357.81,724.29 360.32,723.67 362.83,723.14 365.34,722.68 367.86,722.31 370.37,722.03 372.88,721.83 375.40,721.71 377.91,721.68 380.42,721.74 382.94,721.88 385.45,722.12 387.96,722.44 390.48,722.96 392.99,723.70 395.50,724.59 398.02,725.57 400.53,726.58 403.04,727.54 405.56,728.40 408.07,729.10 410.58,729.66 413.10,730.25 415.61,730.87 418.12,731.51 420.64,732.18 423.15,732.86 425.66,733.55 428.18,734.24 430.69,734.92 433.20,735.60 435.72,736.26 438.23,736.90 440.74,737.52 443.26,738.12 445.77,738.70 448.28,739.27 450.80,739.84 453.31,740.39 455.82,740.95 458.34,741.50 460.85,742.06" fill="none" stroke="#E41A1C" stroke-opacity="0.85" stroke-width="1.0" stroke-linejoin="round" shape-rendering="crispEdges"/>
<polyline points="262.30,754.24 264.81,753.35 267.33,752.49 269.84,751.65 272.35,750.84 274.87,750.06 277.38,749.30 279.89,748.58 282.41,747.89 284.92,747.24 287.43,746.63 289.95,746.06 292.46,745.52 294.97,745.00 297.49,744.50 300.00,744.02 302.51,743.54 305.03,743.07 307.54,742.67 310.05,742.37 312.57,742.13 315.08,741.95 317.59,741.81 320.11,741.70 322.62,741.59 325.13,741.48 327.65,741.36 330.16,741.19 332.67,740.98 335.19,740.70 337.70,740.37 340.21,740.00 342.73,739.60 345.24,739.17 347.75,738.72 350.27,738.25 352.78,737.75 355.29,737.23 357.81,736.66 360.32,735.90 362.83,734.98 365.34,733.94 367.86,732.81 370.37,731.66 372.88,730.51 375.40,729.41 377.91,728.41 380.42,727.55 382.94,726.87 385.45,726.41 387.96,726.23 390.48,726.29 392.99,726.54 395.50,726.93 398.02,727.44 400.53,728.02 403.04,728.64 405.56,729.26 408.07,729.85 410.58,730.41 413.10,731.04 415.61,731.75 418.12,732.52 420.64,733.36 423.15,734.26 425.66,735.23 428.18,736.25 430.69,737.33 433.20,738.47 435.72,739.66 438.23,740.90 440.74,742.19 443.26,743.52 445.77,744.91 448.28,746.35 450.80,747.84 453.31,749.39 455.82,750.99 458.34,752.65 460.85,754.37" fill="none" stroke="#377EB8" stroke-opacity="0.85" stroke-width="1.0" stroke-linejoin="round" shape-rendering="crispEdges"/>
<text transform="translate(360.78,690.10) scale(1,1.12)" text-anchor="middle" font-size="11.4" fill="#1A1A1A">Sudan</text>
<text transform="translate(266.20,785.80) rotate(-90)" text-anchor="middle" font-size="8.2" letter-spacing="0.45" fill="#4D4D4D">0_4</text>
<text transform="translate(276.65,785.80) rotate(-90)" text-anchor="middle" font-size="8.2" letter-spacing="0.45" fill="#4D4D4D">5_9</text>
<text transform="translate(287.10,785.80) rotate(-90)" text-anchor="middle" font-size="8.2" letter-spacing="0.45" fill="#4D4D4D">10_14</text>
<text transform="translate(297.55,785.80) rotate(-90)" text-anchor="middle" font-size="8.2" letter-spacing="0.45" fill="#4D4D4D">15_19</text>
<text transform="translate(308.00,785.80) rotate(-90)" text-anchor="middle" font-size="8.2" letter-spacing="0.45" fill="#4D4D4D">20_24</text>
<text transform="translate(318.45,785.80) rotate(-90)" text-anchor="middle" font-size="8.2" letter-spacing="0.45" fill="#4D4D4D">25_29</text>
<text transform="translate(328.90,785.80) rotate(-90)" text-anchor="middle" font-size="8.2" letter-spacing="0.45" fill="#4D4D4D">30_34</text>
<text transform="translate(339.35,785.80) rotate(-90)" text-anchor="middle" font-size="8.2" letter-spacing="0.45" fill="#4D4D4D">35_39</text>
<text transform="translate(349.80,785.80) rotate(-90)" text-anchor="middle" font-size="8.2" letter-spacing="0.45" fill="#4D4D4D">40_44</text>
<text transform="translate(360.25,785.80) rotate(-90)" text-anchor="middle" font-size="8.2" letter-spacing="0.45" fill="#4D4D4D">45_49</text>
<text transform="translate(370.70,785.80) rotate(-90)" text-anchor="middle" font-size="8.2" letter-spacing="0.45" fill="#4D4D4D">50_54</text>
<text transform="translate(381.15,785.80) rotate(-90)" text-anchor="middle" font-size="8.2" letter-spacing="0.45" fill="#4D4D4D">55_59</text>
<text transform="translate(391.60,785.80) rotate(-90)" text-anchor="middle" font-size="8.2" letter-spacing="0.45" fill="#4D4D4D">60_64</text>
<text transform="translate(402.05,785.80) rotate(-90)" text-anchor="middle" font-size="8.2" letter-spacing="0.45" fill="#4D4D4D">65_69</text>
<text transform="translate(412.50,785.80) rotate(-90)" text-anchor="middle" font-size="8.2" letter-spacing="0.45" fill="#4D4D4D">70_74</text>
<text transform="translate(422.95,785.80) rotate(-90)" text-anchor="middle" font-size="8.2" letter-spacing="0.45" fill="#4D4D4D">75_79</text>
<text transform="translate(433.40,785.80) rotate(-90)" text-anchor="middle" font-size="8.2" letter-spacing="0.45" fill="#4D4D4D">80_84</text>
<text transform="translate(443.85,785.80) rotate(-90)" text-anchor="middle" font-size="8.2" letter-spacing="0.45" fill="#4D4D4D">85_89</text>
<text transform="translate(454.30,785.80) rotate(-90)" text-anchor="middle" font-size="8.2" letter-spacing="0.45" fill="#4D4D4D">90_94</text>
<text transform="translate(464.75,785.80) rotate(-90)" text-anchor="middle" font-size="8.2" letter-spacing="0.45" fill="#4D4D4D">95+</text>
<line x1="474.23" x2="685.32" y1="754.26" y2="754.26" stroke="#EBEBEB" stroke-width="1.0"/>
<line x1="474.23" x2="685.32" y1="733.79" y2="733.79" stroke="#EBEBEB" stroke-width="1.0"/>
<line x1="474.23" x2="685.32" y1="713.33" y2="713.33" stroke="#EBEBEB" stroke-width="1.0"/>
<line x1="474.23" x2="685.32" y1="764.50" y2="764.50" stroke="#EBEBEB" stroke-width="1.0"/>
<line x1="474.23" x2="685.32" y1="744.03" y2="744.03" stroke="#EBEBEB" stroke-width="1.0"/>
<line x1="474.23" x2="685.32" y1="723.56" y2="723.56" stroke="#EBEBEB" stroke-width="1.0"/>
<line x1="474.23" x2="685.32" y1="703.09" y2="703.09" stroke="#EBEBEB" stroke-width="1.0"/>
<line x1="480.50" x2="480.50" y1="696.50" y2="767.70" stroke="#EBEBEB" stroke-width="1.0"/>
<line x1="490.95" x2="490.95" y1="696.50" y2="767.70" stroke="#EBEBEB" stroke-width="1.0"/>
<line x1="501.40" x2="501.40" y1="696.50" y2="767.70" stroke="#EBEBEB" stroke-width="1.0"/>
<line x1="511.85" x2="511.85" y1="696.50" y2="767.70" stroke="#EBEBEB" stroke-width="1.0"/>
<line x1="522.30" x2="522.30" y1="696.50" y2="767.70" stroke="#EBEBEB" stroke-width="1.0"/>
<line x1="532.75" x2="532.75" y1="696.50" y2="767.70" stroke="#EBEBEB" stroke-width="1.0"/>
<line x1="543.20" x2="543.20" y1="696.50" y2="767.70" stroke="#EBEBEB" stroke-width="1.0"/>
<line x1="553.65" x2="553.65" y1="696.50" y2="767.70" stroke="#EBEBEB" stroke-width="1.0"/>
<line x1="564.10" x2="564.10" y1="696.50" y2="767.70" stroke="#EBEBEB" stroke-width="1.0"/>
<line x1="574.55" x2="574.55" y1="696.50" y2="767.70" stroke="#EBEBEB" stroke-width="1.0"/>
<line x1="585.00" x2="585.00" y1="696.50" y2="767.70" stroke="#EBEBEB" stroke-width="1.0"/>
<line x1="595.45" x2="595.45" y1="696.50" y2="767.70" stroke="#EBEBEB" stroke-width="1.0"/>
<line x1="605.90" x2="605.90" y1="696.50" y2="767.70" stroke="#EBEBEB" stroke-width="1.0"/>
<line x1="616.35" x2="616.35" y1="696.50" y2="767.70" stroke="#EBEBEB" stroke-width="1.0"/>
<line x1="626.80" x2="626.80" y1="696.50" y2="767.70" stroke="#EBEBEB" stroke-width="1.0"/>
<line x1="637.25" x2="637.25" y1="696.50" y2="767.70" stroke="#EBEBEB" stroke-width="1.0"/>
<line x1="647.70" x2="647.70" y1="696.50" y2="767.70" stroke="#EBEBEB" stroke-width="1.0"/>
<line x1="658.15" x2="658.15" y1="696.50" y2="767.70" stroke="#EBEBEB" stroke-width="1.0"/>
<line x1="668.60" x2="668.60" y1="696.50" y2="767.70" stroke="#EBEBEB" stroke-width="1.0"/>
<line x1="679.05" x2="679.05" y1="696.50" y2="767.70" stroke="#EBEBEB" stroke-width="1.0"/>
<rect x="476.85" y="756.50" width="3.2" height="8.00" fill="#E94849"/>
<rect x="480.95" y="757.30" width="3.2" height="7.20" fill="#5F98C6"/>
<rect x="487.30" y="750.30" width="3.2" height="14.20" fill="#E94849"/>
<rect x="491.40" y="752.70" width="3.2" height="11.80" fill="#5F98C6"/>
<rect x="497.75" y="748.10" width="3.2" height="16.40" fill="#E94849"/>
<rect x="501.85" y="747.30" width="3.2" height="17.20" fill="#5F98C6"/>
<rect x="508.20" y="750.70" width="3.2" height="13.80" fill="#E94849"/>
<rect x="512.30" y="744.70" width="3.2" height="19.80" fill="#5F98C6"/>
<rect x="518.65" y="751.20" width="3.2" height="13.30" fill="#E94849"/>
<rect x="522.75" y="743.50" width="3.2" height="21.00" fill="#5F98C6"/>
<rect x="529.10" y="748.70" width="3.2" height="15.80" fill="#E94849"/>
<rect x="533.20" y="742.30" width="3.2" height="22.20" fill="#5F98C6"/>
<rect x="539.55" y="743.10" width="3.2" height="21.40" fill="#E94849"/>
<rect x="543.65" y="741.80" width="3.2" height="22.70" fill="#5F98C6"/>
<rect x="550.00" y="735.80" width="3.2" height="28.70" fill="#E94849"/>
<rect x="554.10" y="741.10" width="3.2" height="23.40" fill="#5F98C6"/>
<rect x="560.45" y="725.90" width="3.2" height="38.60" fill="#E94849"/>
<rect x="564.55" y="737.40" width="3.2" height="27.10" fill="#5F98C6"/>
<rect x="570.90" y="718.20" width="3.2" height="46.30" fill="#E94849"/>
<rect x="575.00" y="736.90" width="3.2" height="27.60" fill="#5F98C6"/>
<rect x="581.35" y="715.50" width="3.2" height="49.00" fill="#E94849"/>
<rect x="585.45" y="733.10" width="3.2" height="31.40" fill="#5F98C6"/>
<rect x="591.80" y="718.20" width="3.2" height="46.30" fill="#E94849"/>
<rect x="595.90" y="724.70" width="3.2" height="39.80" fill="#5F98C6"/>
<rect x="602.25" y="719.30" width="3.2" height="45.20" fill="#E94849"/>
<rect x="606.35" y="718.50" width="3.2" height="46.00" fill="#5F98C6"/>
<rect x="612.70" y="723.60" width="3.2" height="40.90" fill="#E94849"/>
<rect x="616.80" y="718.10" width="3.2" height="46.40" fill="#5F98C6"/>
<rect x="623.15" y="729.70" width="3.2" height="34.80" fill="#E94849"/>
<rect x="627.25" y="722.10" width="3.2" height="42.40" fill="#5F98C6"/>
<rect x="633.60" y="735.40" width="3.2" height="29.10" fill="#E94849"/>
<rect x="637.70" y="732.30" width="3.2" height="32.20" fill="#5F98C6"/>
<rect x="644.05" y="740.40" width="3.2" height="24.10" fill="#E94849"/>
<rect x="648.15" y="743.40" width="3.2" height="21.10" fill="#5F98C6"/>
<rect x="654.50" y="741.10" width="3.2" height="23.40" fill="#E94849"/>
<rect x="658.60" y="748.70" width="3.2" height="15.80" fill="#5F98C6"/>
<rect x="664.95" y="738.50" width="3.2" height="26.00" fill="#E94849"/>
<rect x="669.05" y="748.70" width="3.2" height="15.80" fill="#5F98C6"/>
<rect x="675.40" y="735.40" width="3.2" height="29.10" fill="#E94849"/>
<rect x="679.50" y="744.10" width="3.2" height="20.40" fill="#5F98C6"/>
<polyline points="480.50,753.69 483.01,753.66 485.53,753.60 488.04,753.50 490.55,753.36 493.07,753.17 495.58,752.93 498.09,752.65 500.61,752.32 503.12,751.93 505.63,751.49 508.15,750.99 510.66,750.44 513.17,749.85 515.69,749.23 518.20,748.57 520.71,747.89 523.23,747.18 525.74,746.39 528.25,745.52 530.77,744.57 533.28,743.57 535.79,742.50 538.31,741.40 540.82,740.26 543.33,739.09 545.85,737.92 548.36,736.73 550.87,735.56 553.39,734.40 555.90,733.11 558.41,731.55 560.93,729.80 563.44,727.97 565.95,726.15 568.47,724.46 570.98,722.98 573.49,721.82 576.01,721.02 578.52,720.37 581.03,719.83 583.54,719.41 586.06,719.09 588.57,718.88 591.08,718.77 593.60,718.75 596.11,718.83 598.62,719.01 601.14,719.27 603.65,719.61 606.16,720.04 608.68,720.67 611.19,721.56 613.70,722.60 616.22,723.75 618.73,724.92 621.24,726.03 623.76,727.02 626.27,727.80 628.78,728.43 631.30,729.08 633.81,729.76 636.32,730.46 638.84,731.18 641.35,731.91 643.86,732.64 646.38,733.37 648.89,734.09 651.40,734.79 653.92,735.47 656.43,736.12 658.94,736.73 661.46,737.31 663.97,737.87 666.48,738.41 669.00,738.93 671.51,739.44 674.02,739.95 676.54,740.44 679.05,740.93" fill="none" stroke="#E41A1C" stroke-opacity="0.85" stroke-width="1.0" stroke-linejoin="round" shape-rendering="crispEdges"/>
<polyline points="480.50,754.98 483.01,754.31 485.53,753.64 488.04,752.99 490.55,752.34 493.07,751.70 495.58,751.08 498.09,750.47 500.61,749.87 503.12,749.29 505.63,748.74 508.15,748.19 510.66,747.66 513.17,747.14 515.69,746.63 518.20,746.11 520.71,745.59 523.23,745.06 525.74,744.58 528.25,744.16 530.77,743.78 533.28,743.44 535.79,743.11 538.31,742.80 540.82,742.48 543.33,742.15 545.85,741.79 548.36,741.40 550.87,740.95 553.39,740.45 555.90,739.87 558.41,739.21 560.93,738.49 563.44,737.72 565.95,736.92 568.47,736.12 570.98,735.32 573.49,734.56 576.01,733.79 578.52,732.85 581.03,731.75 583.54,730.54 586.06,729.26 588.57,727.96 591.08,726.69 593.60,725.49 596.11,724.40 598.62,723.47 601.14,722.74 603.65,722.27 606.16,722.09 608.68,722.19 611.19,722.52 613.70,723.03 616.22,723.67 618.73,724.39 621.24,725.15 623.76,725.89 626.27,726.57 628.78,727.20 631.30,727.92 633.81,728.71 636.32,729.58 638.84,730.52 641.35,731.53 643.86,732.61 646.38,733.75 648.89,734.95 651.40,736.21 653.92,737.52 656.43,738.88 658.94,740.29 661.46,741.75 663.97,743.26 666.48,744.83 669.00,746.45 671.51,748.12 674.02,749.86 676.54,751.65 679.05,753.51" fill="none" stroke="#377EB8" stroke-opacity="0.85" stroke-width="1.0" stroke-linejoin="round" shape-rendering="crispEdges"/>
<text transform="translate(579.17,690.10) scale(1,1.12)" text-anchor="middle" font-size="11.4" fill="#1A1A1A">Yemen</text>
<text transform="translate(484.40,785.80) rotate(-90)" text-anchor="middle" font-size="8.2" letter-spacing="0.45" fill="#4D4D4D">0_4</text>
<text transform="translate(494.85,785.80) rotate(-90)" text-anchor="middle" font-size="8.2" letter-spacing="0.45" fill="#4D4D4D">5_9</text>
<text transform="translate(505.30,785.80) rotate(-90)" text-anchor="middle" font-size="8.2" letter-spacing="0.45" fill="#4D4D4D">10_14</text>
<text transform="translate(515.75,785.80) rotate(-90)" text-anchor="middle" font-size="8.2" letter-spacing="0.45" fill="#4D4D4D">15_19</text>
<text transform="translate(526.20,785.80) rotate(-90)" text-anchor="middle" font-size="8.2" letter-spacing="0.45" fill="#4D4D4D">20_24</text>
<text transform="translate(536.65,785.80) rotate(-90)" text-anchor="middle" font-size="8.2" letter-spacing="0.45" fill="#4D4D4D">25_29</text>
<text transform="translate(547.10,785.80) rotate(-90)" text-anchor="middle" font-size="8.2" letter-spacing="0.45" fill="#4D4D4D">30_34</text>
<text transform="translate(557.55,785.80) rotate(-90)" text-anchor="middle" font-size="8.2" letter-spacing="0.45" fill="#4D4D4D">35_39</text>
<text transform="translate(568.00,785.80) rotate(-90)" text-anchor="middle" font-size="8.2" letter-spacing="0.45" fill="#4D4D4D">40_44</text>
<text transform="translate(578.45,785.80) rotate(-90)" text-anchor="middle" font-size="8.2" letter-spacing="0.45" fill="#4D4D4D">45_49</text>
<text transform="translate(588.90,785.80) rotate(-90)" text-anchor="middle" font-size="8.2" letter-spacing="0.45" fill="#4D4D4D">50_54</text>
<text transform="translate(599.35,785.80) rotate(-90)" text-anchor="middle" font-size="8.2" letter-spacing="0.45" fill="#4D4D4D">55_59</text>
<text transform="translate(609.80,785.80) rotate(-90)" text-anchor="middle" font-size="8.2" letter-spacing="0.45" fill="#4D4D4D">60_64</text>
<text transform="translate(620.25,785.80) rotate(-90)" text-anchor="middle" font-size="8.2" letter-spacing="0.45" fill="#4D4D4D">65_69</text>
<text transform="translate(630.70,785.80) rotate(-90)" text-anchor="middle" font-size="8.2" letter-spacing="0.45" fill="#4D4D4D">70_74</text>
<text transform="translate(641.15,785.80) rotate(-90)" text-anchor="middle" font-size="8.2" letter-spacing="0.45" fill="#4D4D4D">75_79</text>
<text transform="translate(651.60,785.80) rotate(-90)" text-anchor="middle" font-size="8.2" letter-spacing="0.45" fill="#4D4D4D">80_84</text>
<text transform="translate(662.05,785.80) rotate(-90)" text-anchor="middle" font-size="8.2" letter-spacing="0.45" fill="#4D4D4D">85_89</text>
<text transform="translate(672.50,785.80) rotate(-90)" text-anchor="middle" font-size="8.2" letter-spacing="0.45" fill="#4D4D4D">90_94</text>
<text transform="translate(682.95,785.80) rotate(-90)" text-anchor="middle" font-size="8.2" letter-spacing="0.45" fill="#4D4D4D">95+</text>
<text transform="translate(16.8,631.0) rotate(-90)" text-anchor="middle" font-size="11.5" fill="#1A1A1A">Prevalence Rate per 100,000 Population</text>
<text x="360.4" y="810" text-anchor="middle" font-size="11.5" fill="#1A1A1A">Age Groups (years)</text>
<text x="280.50" y="853.00" font-size="13.7" fill="#000">Sex</text>
<rect x="312.50" y="836.20" width="20.8" height="20.7" fill="#E94849"/>
<line x1="312.50" x2="333.30" y1="847.40" y2="847.40" stroke="#E41A1C" stroke-width="1.5" stroke-opacity="0.55"/>
<text x="341.30" y="852.10" font-size="11.4" fill="#1A1A1A">Female</text>
<rect x="388.30" y="836.20" width="20.8" height="20.7" fill="#5F98C6"/>
<line x1="388.30" x2="409.10" y1="847.40" y2="847.40" stroke="#377EB8" stroke-width="1.5" stroke-opacity="0.55"/>
<text x="417.10" y="852.10" font-size="11.4" fill="#1A1A1A">Male</text>
</svg>
</body></html>
